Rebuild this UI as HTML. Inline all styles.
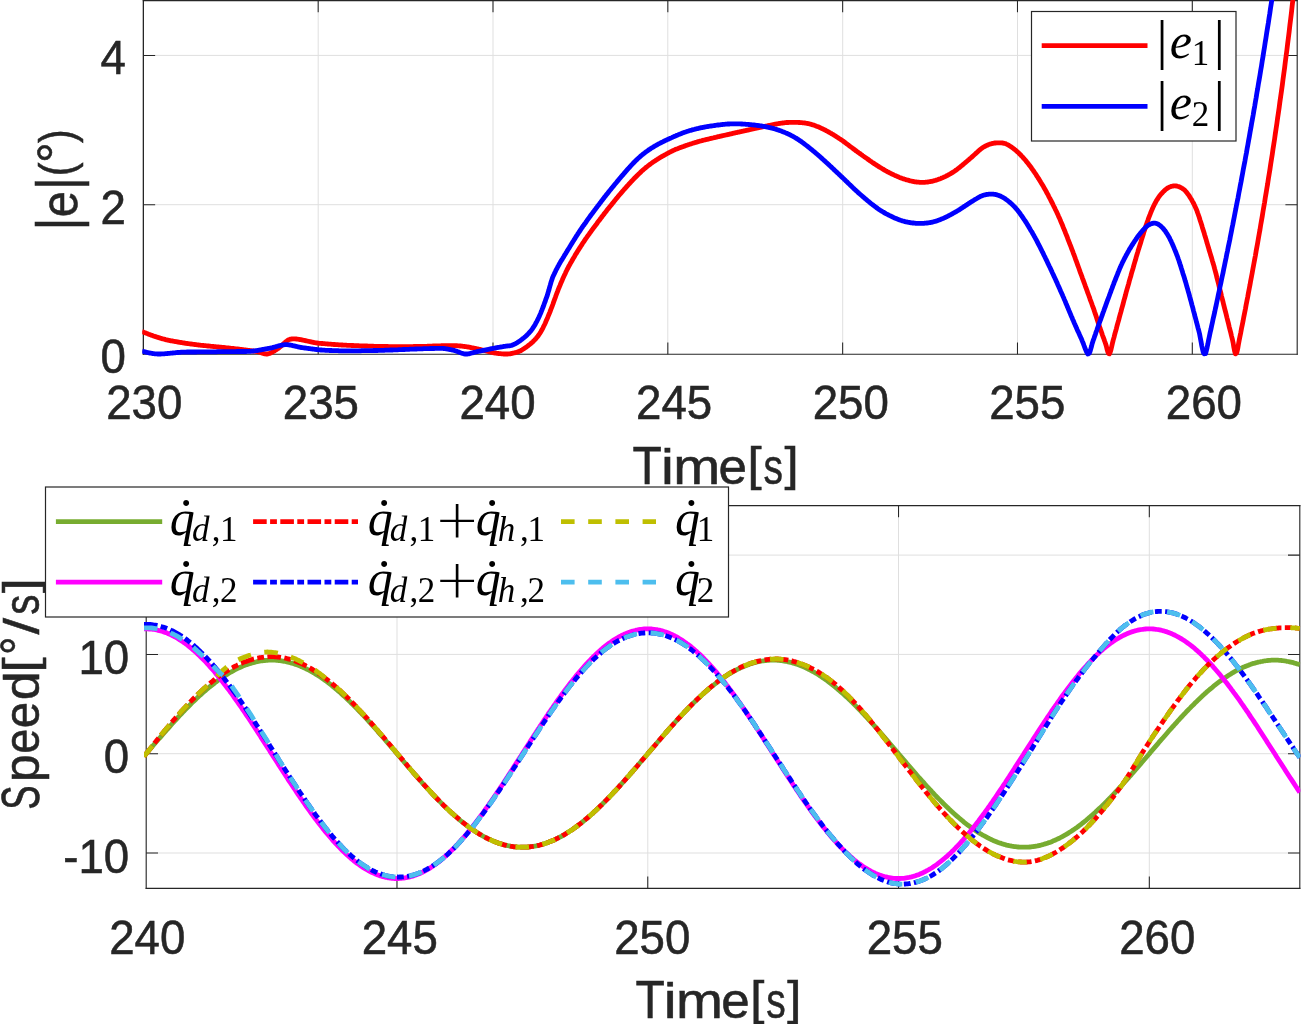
<!DOCTYPE html>
<html><head><meta charset="utf-8"><title>Tracking error and joint speed</title>
<style>html,body{margin:0;padding:0;background:#fff}svg{display:block}text{white-space:pre}.sn{font-family:"Liberation Sans", sans-serif;fill:#262626;stroke:#262626;stroke-width:.55px}.tk{font-size:47.3px}.f54{font-size:53.6px}.f51{font-size:50.7px}.f52{font-size:51.5px}.f47{font-size:47px}.f49{font-size:49px}.f58{font-size:58px}.mt{font-family:"Liberation Serif", serif;fill:#000}.mi{font-style:italic;font-size:50px}.ms{font-style:italic;font-size:35px}.rs{font-size:35px}.br{font-size:55.5px}.dt{font-size:56px}.pl{font-family:"DejaVu Sans Light", "DejaVu Sans", sans-serif;font-weight:200;font-size:54px;fill:#000}</style></head><body>
<svg width="1302" height="1024" viewBox="0 0 1302 1024">
<rect width="1302" height="1024" fill="#fff"/>
<defs><clipPath id="ct"><rect x="142.2" y="0" width="1155.5" height="358.2"/></clipPath><clipPath id="cb"><rect x="144.0" y="505.6" width="1156.4" height="382.8"/></clipPath></defs>
<path d="M318.2 0.6 V354.2 M493.0 0.6 V354.2 M667.8 0.6 V354.2 M842.7 0.6 V354.2 M1017.5 0.6 V354.2 M1192.3 0.6 V354.2 M143.3 204.7 H1297.2 M143.3 55.4 H1297.2" stroke="#dfdfdf" stroke-width="1" fill="none"/>
<path d="M318.18 354.20 v-11.8 M318.18 0.55 v11.8 M493.00 354.20 v-11.8 M493.00 0.55 v11.8 M667.83 354.20 v-11.8 M667.83 0.55 v11.8 M842.65 354.20 v-11.8 M842.65 0.55 v11.8 M1017.48 354.20 v-11.8 M1017.48 0.55 v11.8 M1192.30 354.20 v-11.8 M1192.30 0.55 v11.8 M143.35 204.70 h11.8 M1297.20 204.70 h-11.8 M143.35 55.40 h11.8 M1297.20 55.40 h-11.8" stroke="#262626" stroke-width="1.05" fill="none"/>
<g stroke="#262626" fill="none" stroke-linecap="square">
<path d="M143.35 0.55 V354.20" stroke-width="1.30"/>
<path d="M143.35 0.55 H1297.20" stroke-width="1.15"/>
<path d="M1297.20 0.55 V354.20" stroke-width="1.12"/>
<path d="M143.35 354.20 H1297.20" stroke-width="1.12"/>
</g>
<g clip-path="url(#ct)" fill="none" stroke-width="4.8" stroke-linejoin="round">
<path d="M142.0 331.6 L143.3 332.1 L144.1 332.4 L144.9 332.7 L145.7 333.0 L146.4 333.3 L147.2 333.6 L148.0 333.9 L148.7 334.2 L149.5 334.5 L150.3 334.8 L151.0 335.1 L151.8 335.3 L152.6 335.6 L153.3 335.9 L154.1 336.2 L154.9 336.4 L155.6 336.7 L156.4 336.9 L157.2 337.2 L158.0 337.4 L158.7 337.7 L159.5 337.9 L160.3 338.1 L161.0 338.4 L161.8 338.6 L162.6 338.8 L163.3 339.0 L164.1 339.2 L164.9 339.4 L165.6 339.6 L166.4 339.8 L167.2 340.0 L167.9 340.1 L168.7 340.3 L169.5 340.5 L170.2 340.6 L171.0 340.8 L171.8 340.9 L172.6 341.0 L173.3 341.2 L174.1 341.3 L174.9 341.5 L175.6 341.6 L176.4 341.7 L177.2 341.9 L177.9 342.0 L178.7 342.1 L179.5 342.3 L180.2 342.4 L181.0 342.5 L181.8 342.6 L182.5 342.8 L183.3 342.9 L184.1 343.0 L184.8 343.1 L185.6 343.3 L186.4 343.4 L187.2 343.5 L187.9 343.6 L188.7 343.7 L189.5 343.8 L190.2 343.9 L191.0 344.0 L191.8 344.1 L192.5 344.2 L193.3 344.3 L194.1 344.4 L194.8 344.5 L195.6 344.6 L196.4 344.7 L197.1 344.8 L197.9 344.9 L198.7 345.0 L199.4 345.1 L200.2 345.2 L201.0 345.3 L201.8 345.3 L202.5 345.4 L203.3 345.5 L204.1 345.6 L204.8 345.7 L205.6 345.7 L206.4 345.8 L207.1 345.9 L207.9 346.0 L208.7 346.0 L209.4 346.1 L210.2 346.2 L211.0 346.3 L211.7 346.4 L212.5 346.4 L213.3 346.5 L214.1 346.6 L214.8 346.6 L215.6 346.7 L216.4 346.8 L217.1 346.9 L217.9 346.9 L218.7 347.0 L219.4 347.1 L220.2 347.2 L221.0 347.2 L221.7 347.3 L222.5 347.4 L223.3 347.5 L224.0 347.5 L224.8 347.6 L225.6 347.7 L226.3 347.8 L227.1 347.9 L227.9 347.9 L228.7 348.0 L229.4 348.1 L230.2 348.2 L231.0 348.3 L231.7 348.3 L232.5 348.4 L233.3 348.5 L234.0 348.6 L234.8 348.7 L235.6 348.8 L236.3 348.8 L237.1 348.9 L237.9 349.0 L238.6 349.1 L239.4 349.2 L240.2 349.3 L240.9 349.4 L241.7 349.5 L242.5 349.6 L243.3 349.7 L244.0 349.8 L244.8 349.9 L245.6 350.0 L246.3 350.1 L247.1 350.2 L247.9 350.3 L248.6 350.4 L249.4 350.5 L250.2 350.6 L250.9 350.7 L251.7 350.8 L252.5 350.9 L253.2 351.0 L254.0 351.1 L254.8 351.2 L255.5 351.3 L256.3 351.4 L257.1 351.5 L257.9 351.7 L258.6 351.9 L259.4 352.1 L260.2 352.4 L260.9 352.6 L261.7 352.9 L262.5 353.2 L263.2 353.4 L264.0 353.6 L264.8 353.8 L265.5 353.9 L266.3 354.0 L267.1 354.0 L267.8 353.9 L268.6 353.7 L269.4 353.5 L270.2 353.2 L270.9 352.8 L271.7 352.4 L272.5 352.0 L273.2 351.5 L274.0 351.1 L274.8 350.6 L275.5 350.1 L276.3 349.6 L277.1 349.1 L277.8 348.6 L278.6 348.1 L279.4 347.5 L280.1 346.9 L280.9 346.3 L281.7 345.6 L282.4 344.9 L283.2 344.1 L284.0 343.4 L284.8 342.7 L285.5 342.0 L286.3 341.4 L287.1 340.8 L287.8 340.3 L288.6 339.8 L289.4 339.5 L290.1 339.2 L290.9 339.1 L291.7 339.0 L292.4 338.9 L293.2 338.9 L294.0 338.9 L294.7 338.9 L295.5 338.9 L296.3 339.0 L297.0 339.1 L297.8 339.2 L298.6 339.3 L299.4 339.4 L300.1 339.6 L300.9 339.7 L301.7 339.9 L302.4 340.0 L303.2 340.2 L304.0 340.3 L304.7 340.5 L305.5 340.6 L306.3 340.8 L307.0 341.0 L307.8 341.2 L308.6 341.3 L309.3 341.5 L310.1 341.7 L310.9 341.9 L311.6 342.0 L312.4 342.2 L313.2 342.4 L314.0 342.5 L314.7 342.7 L315.5 342.8 L316.3 342.9 L317.0 343.0 L317.8 343.1 L318.6 343.2 L319.3 343.3 L320.1 343.3 L320.9 343.4 L321.6 343.5 L322.4 343.5 L323.2 343.6 L323.9 343.7 L324.7 343.7 L325.5 343.8 L326.3 343.9 L327.0 343.9 L327.8 344.0 L328.6 344.1 L329.3 344.1 L330.1 344.2 L330.9 344.2 L331.6 344.3 L332.4 344.4 L333.2 344.4 L333.9 344.5 L334.7 344.5 L335.5 344.6 L336.2 344.6 L337.0 344.7 L337.8 344.7 L338.5 344.8 L339.3 344.8 L340.1 344.9 L340.9 344.9 L341.6 345.0 L342.4 345.0 L343.2 345.1 L343.9 345.1 L344.7 345.1 L345.5 345.2 L346.2 345.2 L347.0 345.3 L347.8 345.3 L348.5 345.3 L349.3 345.4 L350.1 345.4 L350.8 345.4 L351.6 345.5 L352.4 345.5 L353.1 345.5 L353.9 345.6 L354.7 345.6 L355.5 345.6 L356.2 345.6 L357.0 345.7 L357.8 345.7 L358.5 345.7 L359.3 345.8 L360.1 345.8 L360.8 345.8 L361.6 345.8 L362.4 345.9 L363.1 345.9 L363.9 345.9 L364.7 346.0 L365.4 346.0 L366.2 346.0 L367.0 346.0 L367.7 346.1 L368.5 346.1 L369.3 346.1 L370.1 346.1 L370.8 346.2 L371.6 346.2 L372.4 346.2 L373.1 346.2 L373.9 346.3 L374.7 346.3 L375.4 346.3 L376.2 346.3 L377.0 346.3 L377.7 346.4 L378.5 346.4 L379.3 346.4 L380.0 346.4 L380.8 346.4 L381.6 346.5 L382.4 346.5 L383.1 346.5 L383.9 346.5 L384.7 346.5 L385.4 346.5 L386.2 346.5 L387.0 346.5 L387.7 346.5 L388.5 346.6 L389.3 346.6 L390.0 346.6 L390.8 346.6 L391.6 346.6 L392.3 346.6 L393.1 346.6 L393.9 346.6 L394.6 346.6 L395.4 346.6 L396.2 346.6 L397.0 346.6 L397.7 346.6 L398.5 346.6 L399.3 346.6 L400.0 346.6 L400.8 346.6 L401.6 346.6 L402.3 346.6 L403.1 346.6 L403.9 346.6 L404.6 346.6 L405.4 346.6 L406.2 346.6 L406.9 346.6 L407.7 346.6 L408.5 346.6 L409.2 346.6 L410.0 346.6 L410.8 346.6 L411.6 346.6 L412.3 346.6 L413.1 346.6 L413.9 346.5 L414.6 346.5 L415.4 346.5 L416.2 346.5 L416.9 346.5 L417.7 346.5 L418.5 346.5 L419.2 346.5 L420.0 346.5 L420.8 346.5 L421.5 346.4 L422.3 346.4 L423.1 346.4 L423.8 346.4 L424.6 346.4 L425.4 346.3 L426.2 346.3 L426.9 346.3 L427.7 346.2 L428.5 346.2 L429.2 346.2 L430.0 346.2 L430.8 346.1 L431.5 346.1 L432.3 346.1 L433.1 346.0 L433.8 346.0 L434.6 346.0 L435.4 346.0 L436.1 345.9 L436.9 345.9 L437.7 345.9 L438.5 345.8 L439.2 345.8 L440.0 345.8 L440.8 345.8 L441.5 345.7 L442.3 345.7 L443.1 345.7 L443.8 345.7 L444.6 345.7 L445.4 345.6 L446.1 345.6 L446.9 345.6 L447.7 345.6 L448.4 345.6 L449.2 345.6 L450.0 345.6 L450.7 345.6 L451.5 345.6 L452.3 345.6 L453.1 345.6 L453.8 345.6 L454.6 345.6 L455.4 345.7 L456.1 345.7 L456.9 345.7 L457.7 345.8 L458.4 345.8 L459.2 345.9 L460.0 346.0 L460.7 346.0 L461.5 346.1 L462.3 346.2 L463.0 346.3 L463.8 346.4 L464.6 346.5 L465.3 346.6 L466.1 346.7 L466.9 346.8 L467.7 346.9 L468.4 347.1 L469.2 347.2 L470.0 347.4 L470.7 347.5 L471.5 347.7 L472.3 347.8 L473.0 348.0 L473.8 348.1 L474.6 348.3 L475.3 348.4 L476.1 348.6 L476.9 348.8 L477.6 348.9 L478.4 349.1 L479.2 349.3 L479.9 349.4 L480.7 349.6 L481.5 349.8 L482.3 350.0 L483.0 350.2 L483.8 350.4 L484.6 350.5 L485.3 350.7 L486.1 350.9 L486.9 351.1 L487.6 351.3 L488.4 351.5 L489.2 351.7 L489.9 351.9 L490.7 352.1 L491.5 352.3 L492.2 352.4 L493.0 352.6 L493.8 352.8 L494.6 352.9 L495.3 353.1 L496.1 353.2 L496.9 353.3 L497.6 353.4 L498.4 353.5 L499.2 353.6 L499.9 353.7 L500.7 353.7 L501.5 353.8 L502.2 353.9 L503.0 353.9 L503.8 354.0 L504.5 354.0 L505.3 354.0 L506.1 353.9 L506.8 354.0 L507.6 354.0 L508.4 353.9 L509.2 353.9 L509.9 353.8 L510.7 353.6 L511.5 353.5 L512.2 353.4 L513.0 353.2 L513.8 353.0 L514.5 352.8 L515.3 352.6 L516.1 352.4 L516.8 352.2 L517.6 351.9 L518.4 351.7 L519.1 351.4 L519.9 351.0 L520.7 350.7 L521.4 350.2 L522.2 349.8 L523.0 349.3 L523.8 348.8 L524.5 348.3 L525.3 347.8 L526.1 347.2 L526.8 346.7 L527.6 346.1 L528.4 345.5 L529.1 344.9 L529.9 344.3 L530.7 343.7 L531.4 343.0 L532.2 342.4 L533.0 341.7 L533.7 340.9 L534.5 340.1 L535.3 339.3 L536.0 338.5 L536.8 337.5 L537.6 336.6 L538.4 335.5 L539.1 334.4 L539.9 333.3 L540.7 332.0 L541.4 330.7 L542.2 329.3 L543.0 327.8 L543.7 326.3 L544.5 324.7 L545.3 323.0 L546.0 321.3 L546.8 319.5 L547.6 317.7 L548.3 315.9 L549.1 314.0 L549.9 312.1 L550.6 310.1 L551.4 308.1 L552.2 306.1 L553.0 304.0 L553.7 301.8 L554.5 299.7 L555.3 297.6 L556.0 295.5 L556.8 293.4 L557.6 291.4 L558.3 289.4 L559.1 287.5 L559.9 285.6 L560.6 283.8 L561.4 282.0 L562.2 280.2 L562.9 278.5 L563.7 276.8 L564.5 275.1 L565.3 273.4 L566.0 271.8 L566.8 270.2 L567.6 268.7 L568.3 267.2 L569.1 265.8 L569.9 264.4 L570.6 263.0 L571.4 261.7 L572.2 260.3 L572.9 259.0 L573.7 257.7 L574.5 256.4 L575.2 255.1 L576.0 253.8 L576.8 252.6 L577.5 251.3 L578.3 250.1 L579.1 248.9 L579.9 247.7 L580.6 246.5 L581.4 245.3 L582.2 244.1 L582.9 242.9 L583.7 241.8 L584.5 240.6 L585.2 239.5 L586.0 238.4 L586.8 237.3 L587.5 236.2 L588.3 235.2 L589.1 234.1 L589.8 233.0 L590.6 232.0 L591.4 230.9 L592.1 229.9 L592.9 228.8 L593.7 227.8 L594.5 226.8 L595.2 225.7 L596.0 224.7 L596.8 223.7 L597.5 222.6 L598.3 221.6 L599.1 220.6 L599.8 219.6 L600.6 218.5 L601.4 217.5 L602.1 216.5 L602.9 215.5 L603.7 214.5 L604.4 213.5 L605.2 212.5 L606.0 211.6 L606.7 210.6 L607.5 209.6 L608.3 208.6 L609.1 207.7 L609.8 206.7 L610.6 205.7 L611.4 204.8 L612.1 203.8 L612.9 202.9 L613.7 201.9 L614.4 201.0 L615.2 200.1 L616.0 199.1 L616.7 198.2 L617.5 197.3 L618.3 196.3 L619.0 195.4 L619.8 194.5 L620.6 193.6 L621.4 192.7 L622.1 191.8 L622.9 190.9 L623.7 190.0 L624.4 189.2 L625.2 188.3 L626.0 187.4 L626.7 186.6 L627.5 185.7 L628.3 184.9 L629.0 184.0 L629.8 183.2 L630.6 182.3 L631.3 181.5 L632.1 180.7 L632.9 179.9 L633.6 179.1 L634.4 178.3 L635.2 177.5 L636.0 176.7 L636.7 176.0 L637.5 175.2 L638.3 174.4 L639.0 173.7 L639.8 173.0 L640.6 172.2 L641.3 171.5 L642.1 170.8 L642.9 170.1 L643.6 169.5 L644.4 168.8 L645.2 168.2 L645.9 167.5 L646.7 166.9 L647.5 166.3 L648.2 165.7 L649.0 165.1 L649.8 164.5 L650.6 163.9 L651.3 163.4 L652.1 162.8 L652.9 162.3 L653.6 161.7 L654.4 161.2 L655.2 160.7 L655.9 160.2 L656.7 159.7 L657.5 159.2 L658.2 158.7 L659.0 158.3 L659.8 157.8 L660.5 157.3 L661.3 156.9 L662.1 156.4 L662.8 156.0 L663.6 155.6 L664.4 155.1 L665.2 154.7 L665.9 154.3 L666.7 153.8 L667.5 153.4 L668.2 153.0 L669.0 152.6 L669.8 152.2 L670.5 151.8 L671.3 151.4 L672.1 151.1 L672.8 150.7 L673.6 150.3 L674.4 150.0 L675.1 149.6 L675.9 149.3 L676.7 149.0 L677.5 148.7 L678.2 148.4 L679.0 148.1 L679.8 147.8 L680.5 147.5 L681.3 147.2 L682.1 146.9 L682.8 146.7 L683.6 146.4 L684.4 146.1 L685.1 145.9 L685.9 145.6 L686.7 145.3 L687.4 145.1 L688.2 144.8 L689.0 144.5 L689.7 144.3 L690.5 144.0 L691.3 143.8 L692.1 143.5 L692.8 143.3 L693.6 143.0 L694.4 142.8 L695.1 142.5 L695.9 142.3 L696.7 142.1 L697.4 141.9 L698.2 141.6 L699.0 141.4 L699.7 141.2 L700.5 141.0 L701.3 140.8 L702.0 140.6 L702.8 140.4 L703.6 140.2 L704.3 140.0 L705.1 139.8 L705.9 139.6 L706.7 139.4 L707.4 139.3 L708.2 139.1 L709.0 138.9 L709.7 138.7 L710.5 138.5 L711.3 138.4 L712.0 138.2 L712.8 138.0 L713.6 137.8 L714.3 137.6 L715.1 137.5 L715.9 137.3 L716.6 137.1 L717.4 136.9 L718.2 136.7 L718.9 136.6 L719.7 136.4 L720.5 136.2 L721.3 136.0 L722.0 135.9 L722.8 135.7 L723.6 135.5 L724.3 135.3 L725.1 135.2 L725.9 135.0 L726.6 134.8 L727.4 134.6 L728.2 134.5 L728.9 134.3 L729.7 134.1 L730.5 133.9 L731.2 133.8 L732.0 133.6 L732.8 133.4 L733.6 133.2 L734.3 133.1 L735.1 132.9 L735.9 132.7 L736.6 132.6 L737.4 132.4 L738.2 132.2 L738.9 132.1 L739.7 131.9 L740.5 131.7 L741.2 131.5 L742.0 131.4 L742.8 131.2 L743.5 131.0 L744.3 130.9 L745.1 130.7 L745.8 130.5 L746.6 130.4 L747.4 130.2 L748.2 130.0 L748.9 129.9 L749.7 129.7 L750.5 129.5 L751.2 129.3 L752.0 129.2 L752.8 129.0 L753.5 128.8 L754.3 128.7 L755.1 128.5 L755.8 128.3 L756.6 128.2 L757.4 128.0 L758.1 127.8 L758.9 127.7 L759.7 127.5 L760.4 127.3 L761.2 127.1 L762.0 127.0 L762.8 126.8 L763.5 126.6 L764.3 126.5 L765.1 126.3 L765.8 126.1 L766.6 126.0 L767.4 125.8 L768.1 125.6 L768.9 125.5 L769.7 125.3 L770.4 125.2 L771.2 125.0 L772.0 124.8 L772.7 124.7 L773.5 124.5 L774.3 124.3 L775.0 124.2 L775.8 124.1 L776.6 123.9 L777.4 123.8 L778.1 123.7 L778.9 123.5 L779.7 123.4 L780.4 123.3 L781.2 123.2 L782.0 123.1 L782.7 123.0 L783.5 122.9 L784.3 122.8 L785.0 122.7 L785.8 122.6 L786.6 122.5 L787.3 122.5 L788.1 122.5 L788.9 122.4 L789.7 122.4 L790.4 122.4 L791.2 122.4 L792.0 122.4 L792.7 122.4 L793.5 122.4 L794.3 122.4 L795.0 122.4 L795.8 122.4 L796.6 122.4 L797.3 122.4 L798.1 122.4 L798.9 122.5 L799.6 122.5 L800.4 122.6 L801.2 122.6 L801.9 122.7 L802.7 122.8 L803.5 122.8 L804.3 122.9 L805.0 123.0 L805.8 123.2 L806.6 123.3 L807.3 123.4 L808.1 123.6 L808.9 123.7 L809.6 123.9 L810.4 124.1 L811.2 124.3 L811.9 124.6 L812.7 124.8 L813.5 125.0 L814.2 125.3 L815.0 125.6 L815.8 125.9 L816.5 126.2 L817.3 126.5 L818.1 126.8 L818.9 127.1 L819.6 127.5 L820.4 127.8 L821.2 128.2 L821.9 128.5 L822.7 128.9 L823.5 129.3 L824.2 129.6 L825.0 130.0 L825.8 130.4 L826.5 130.8 L827.3 131.2 L828.1 131.7 L828.8 132.1 L829.6 132.5 L830.4 133.0 L831.1 133.4 L831.9 133.9 L832.7 134.3 L833.5 134.8 L834.2 135.3 L835.0 135.7 L835.8 136.2 L836.5 136.7 L837.3 137.2 L838.1 137.7 L838.8 138.2 L839.6 138.7 L840.4 139.2 L841.1 139.7 L841.9 140.3 L842.7 140.8 L843.4 141.4 L844.2 141.9 L845.0 142.5 L845.8 143.1 L846.5 143.7 L847.3 144.2 L848.1 144.8 L848.8 145.4 L849.6 146.0 L850.4 146.6 L851.1 147.1 L851.9 147.7 L852.7 148.3 L853.4 148.9 L854.2 149.4 L855.0 150.0 L855.7 150.6 L856.5 151.1 L857.3 151.7 L858.0 152.2 L858.8 152.8 L859.6 153.4 L860.4 153.9 L861.1 154.5 L861.9 155.0 L862.7 155.6 L863.4 156.1 L864.2 156.7 L865.0 157.2 L865.7 157.8 L866.5 158.3 L867.3 158.8 L868.0 159.4 L868.8 159.9 L869.6 160.5 L870.3 161.0 L871.1 161.5 L871.9 162.1 L872.6 162.6 L873.4 163.1 L874.2 163.6 L875.0 164.1 L875.7 164.6 L876.5 165.1 L877.3 165.6 L878.0 166.1 L878.8 166.6 L879.6 167.1 L880.3 167.5 L881.1 168.0 L881.9 168.5 L882.6 168.9 L883.4 169.4 L884.2 169.9 L884.9 170.3 L885.7 170.8 L886.5 171.2 L887.2 171.6 L888.0 172.0 L888.8 172.4 L889.6 172.8 L890.3 173.2 L891.1 173.6 L891.9 174.0 L892.6 174.3 L893.4 174.7 L894.2 175.1 L894.9 175.4 L895.7 175.8 L896.5 176.1 L897.2 176.4 L898.0 176.8 L898.8 177.1 L899.5 177.4 L900.3 177.7 L901.1 178.0 L901.8 178.3 L902.6 178.6 L903.4 178.8 L904.2 179.1 L904.9 179.3 L905.7 179.6 L906.5 179.8 L907.2 180.0 L908.0 180.2 L908.8 180.4 L909.5 180.6 L910.3 180.8 L911.1 181.0 L911.8 181.2 L912.6 181.4 L913.4 181.5 L914.1 181.6 L914.9 181.8 L915.7 181.9 L916.5 182.0 L917.2 182.1 L918.0 182.1 L918.8 182.2 L919.5 182.3 L920.3 182.3 L921.1 182.3 L921.8 182.3 L922.6 182.3 L923.4 182.3 L924.1 182.3 L924.9 182.3 L925.7 182.2 L926.4 182.1 L927.2 182.1 L928.0 182.0 L928.7 181.8 L929.5 181.7 L930.3 181.6 L931.1 181.4 L931.8 181.3 L932.6 181.1 L933.4 180.9 L934.1 180.7 L934.9 180.5 L935.7 180.3 L936.4 180.0 L937.2 179.8 L938.0 179.5 L938.7 179.2 L939.5 179.0 L940.3 178.7 L941.0 178.4 L941.8 178.0 L942.6 177.7 L943.3 177.4 L944.1 177.0 L944.9 176.7 L945.7 176.3 L946.4 175.9 L947.2 175.5 L948.0 175.1 L948.7 174.7 L949.5 174.3 L950.3 173.8 L951.0 173.4 L951.8 172.9 L952.6 172.5 L953.3 172.0 L954.1 171.5 L954.9 171.0 L955.6 170.4 L956.4 169.9 L957.2 169.3 L957.9 168.7 L958.7 168.1 L959.5 167.5 L960.3 166.9 L961.0 166.2 L961.8 165.6 L962.6 165.0 L963.3 164.3 L964.1 163.7 L964.9 163.0 L965.6 162.4 L966.4 161.7 L967.2 161.1 L967.9 160.4 L968.7 159.8 L969.5 159.1 L970.2 158.4 L971.0 157.8 L971.8 157.1 L972.6 156.4 L973.3 155.7 L974.1 155.0 L974.9 154.3 L975.6 153.6 L976.4 152.9 L977.2 152.2 L977.9 151.5 L978.7 150.8 L979.5 150.1 L980.2 149.5 L981.0 148.9 L981.8 148.3 L982.5 147.8 L983.3 147.3 L984.1 146.8 L984.8 146.4 L985.6 146.0 L986.4 145.6 L987.2 145.3 L987.9 144.9 L988.7 144.6 L989.5 144.3 L990.2 144.0 L991.0 143.8 L991.8 143.6 L992.5 143.4 L993.3 143.3 L994.1 143.1 L994.8 143.0 L995.6 143.0 L996.4 142.9 L997.1 142.9 L997.9 142.8 L998.7 142.8 L999.4 142.8 L1000.2 142.8 L1001.0 142.8 L1001.8 142.9 L1002.5 143.0 L1003.3 143.1 L1004.1 143.3 L1004.8 143.5 L1005.6 143.7 L1006.4 144.1 L1007.1 144.4 L1007.9 144.8 L1008.7 145.2 L1009.4 145.7 L1010.2 146.2 L1011.0 146.7 L1011.7 147.2 L1012.5 147.8 L1013.3 148.4 L1014.0 149.0 L1014.8 149.6 L1015.6 150.2 L1016.4 150.9 L1017.1 151.6 L1017.9 152.3 L1018.7 153.0 L1019.4 153.7 L1020.2 154.5 L1021.0 155.3 L1021.7 156.1 L1022.5 156.9 L1023.3 157.8 L1024.0 158.6 L1024.8 159.5 L1025.6 160.4 L1026.3 161.4 L1027.1 162.3 L1027.9 163.3 L1028.7 164.3 L1029.4 165.3 L1030.2 166.3 L1031.0 167.3 L1031.7 168.4 L1032.5 169.5 L1033.3 170.5 L1034.0 171.7 L1034.8 172.8 L1035.6 173.9 L1036.3 175.1 L1037.1 176.3 L1037.9 177.5 L1038.6 178.7 L1039.4 179.9 L1040.2 181.2 L1040.9 182.4 L1041.7 183.7 L1042.5 185.0 L1043.3 186.3 L1044.0 187.7 L1044.8 189.0 L1045.6 190.4 L1046.3 191.8 L1047.1 193.2 L1047.9 194.6 L1048.6 196.1 L1049.4 197.6 L1050.2 199.0 L1050.9 200.5 L1051.7 202.0 L1052.5 203.5 L1053.2 205.0 L1054.0 206.6 L1054.8 208.1 L1055.5 209.7 L1056.3 211.3 L1057.1 213.0 L1057.9 214.7 L1058.6 216.4 L1059.4 218.1 L1060.2 219.9 L1060.9 221.7 L1061.7 223.5 L1062.5 225.3 L1063.2 227.2 L1064.0 229.1 L1064.8 231.0 L1065.5 232.9 L1066.3 234.9 L1067.1 236.8 L1067.8 238.8 L1068.6 240.8 L1069.4 242.8 L1070.1 244.7 L1070.9 246.7 L1071.7 248.8 L1072.5 250.8 L1073.2 252.8 L1074.0 254.9 L1074.8 257.0 L1075.5 259.1 L1076.3 261.2 L1077.1 263.3 L1077.8 265.4 L1078.6 267.5 L1079.4 269.7 L1080.1 271.8 L1080.9 273.9 L1081.7 276.0 L1082.4 278.1 L1083.2 280.2 L1084.0 282.3 L1084.8 284.5 L1085.5 286.6 L1086.3 288.7 L1087.1 290.8 L1087.8 292.9 L1088.6 295.0 L1089.4 297.1 L1090.1 299.3 L1090.9 301.4 L1091.7 303.5 L1092.4 305.6 L1093.2 307.7 L1094.0 309.9 L1094.7 312.1 L1095.5 314.4 L1096.3 316.8 L1097.0 319.1 L1097.8 321.5 L1098.6 323.9 L1099.4 326.2 L1100.1 328.4 L1100.9 330.6 L1101.7 332.8 L1102.4 335.0 L1103.2 337.1 L1104.0 339.2 L1104.7 341.3 L1105.5 343.5 L1106.3 346.0 L1107.0 349.0 L1107.8 351.8 L1108.6 353.6 L1109.3 353.9 L1110.1 352.6 L1110.9 350.1 L1111.6 346.9 L1112.4 343.4 L1113.2 340.1 L1114.0 337.3 L1114.7 334.5 L1115.5 331.7 L1116.3 328.8 L1117.0 326.0 L1117.8 323.2 L1118.6 320.4 L1119.3 317.6 L1120.1 314.7 L1120.9 311.9 L1121.6 309.1 L1122.4 306.3 L1123.2 303.5 L1123.9 300.7 L1124.7 297.8 L1125.5 295.0 L1126.2 292.2 L1127.0 289.4 L1127.8 286.6 L1128.6 283.8 L1129.3 281.1 L1130.1 278.4 L1130.9 275.7 L1131.6 273.0 L1132.4 270.4 L1133.2 267.7 L1133.9 265.1 L1134.7 262.4 L1135.5 259.8 L1136.2 257.1 L1137.0 254.5 L1137.8 251.9 L1138.5 249.4 L1139.3 246.9 L1140.1 244.4 L1140.9 241.9 L1141.6 239.4 L1142.4 237.0 L1143.2 234.5 L1143.9 232.1 L1144.7 229.7 L1145.5 227.3 L1146.2 225.0 L1147.0 222.7 L1147.8 220.6 L1148.5 218.4 L1149.3 216.4 L1150.1 214.4 L1150.8 212.5 L1151.6 210.6 L1152.4 208.8 L1153.1 207.1 L1153.9 205.5 L1154.7 203.9 L1155.5 202.5 L1156.2 201.1 L1157.0 199.8 L1157.8 198.6 L1158.5 197.4 L1159.3 196.3 L1160.1 195.3 L1160.8 194.4 L1161.6 193.5 L1162.4 192.7 L1163.1 191.9 L1163.9 191.1 L1164.7 190.4 L1165.4 189.7 L1166.2 189.1 L1167.0 188.5 L1167.7 188.0 L1168.5 187.6 L1169.3 187.2 L1170.1 186.8 L1170.8 186.6 L1171.6 186.3 L1172.4 186.2 L1173.1 186.0 L1173.9 185.9 L1174.7 185.9 L1175.4 185.9 L1176.2 186.0 L1177.0 186.1 L1177.7 186.3 L1178.5 186.5 L1179.3 186.8 L1180.0 187.2 L1180.8 187.5 L1181.6 188.0 L1182.3 188.4 L1183.1 189.0 L1183.9 189.5 L1184.7 190.2 L1185.4 191.0 L1186.2 191.9 L1187.0 192.8 L1187.7 193.8 L1188.5 194.9 L1189.3 196.0 L1190.0 197.2 L1190.8 198.5 L1191.6 199.7 L1192.3 201.1 L1193.1 202.5 L1193.9 204.0 L1194.6 205.5 L1195.4 207.2 L1196.2 209.0 L1197.0 210.9 L1197.7 213.0 L1198.5 215.2 L1199.3 217.5 L1200.0 219.9 L1200.8 222.3 L1201.6 224.7 L1202.3 227.2 L1203.1 229.7 L1203.9 232.2 L1204.6 234.7 L1205.4 237.3 L1206.2 239.9 L1206.9 242.5 L1207.7 245.1 L1208.5 247.7 L1209.2 250.3 L1210.0 252.9 L1210.8 255.4 L1211.6 258.0 L1212.3 260.6 L1213.1 263.3 L1213.9 265.9 L1214.6 268.7 L1215.4 271.6 L1216.2 274.5 L1216.9 277.6 L1217.7 280.6 L1218.5 283.7 L1219.2 286.8 L1220.0 289.9 L1220.8 292.9 L1221.5 296.0 L1222.3 299.1 L1223.1 302.2 L1223.8 305.2 L1224.6 308.3 L1225.4 311.4 L1226.2 314.5 L1226.9 317.5 L1227.7 320.6 L1228.5 323.7 L1229.2 326.8 L1230.0 329.8 L1230.8 332.9 L1231.5 336.0 L1232.3 339.1 L1233.1 342.7 L1233.8 347.1 L1234.6 351.1 L1235.4 353.9 L1236.1 353.5 L1236.9 352.3 L1237.7 348.8 L1238.4 344.7 L1239.2 340.3 L1240.0 336.3 L1240.8 332.4 L1241.5 328.5 L1242.3 324.7 L1243.1 320.8 L1243.8 316.9 L1244.6 313.0 L1245.4 309.0 L1246.1 305.0 L1246.9 301.0 L1247.7 297.0 L1248.4 293.0 L1249.2 288.9 L1250.0 284.8 L1250.7 280.7 L1251.5 276.6 L1252.3 272.4 L1253.0 268.3 L1253.8 264.1 L1254.6 259.8 L1255.4 255.6 L1256.1 251.3 L1256.9 247.0 L1257.7 242.6 L1258.4 238.3 L1259.2 233.9 L1260.0 229.5 L1260.7 225.0 L1261.5 220.5 L1262.3 216.0 L1263.0 211.5 L1263.8 206.9 L1264.6 202.3 L1265.3 197.6 L1266.1 193.0 L1266.9 188.2 L1267.7 183.5 L1268.4 178.7 L1269.2 173.9 L1270.0 169.0 L1270.7 164.1 L1271.5 159.2 L1272.3 154.2 L1273.0 149.2 L1273.8 144.1 L1274.6 139.0 L1275.3 133.9 L1276.1 128.7 L1276.9 123.4 L1277.6 118.1 L1278.4 112.8 L1279.2 107.4 L1279.9 101.9 L1280.7 96.4 L1281.5 90.8 L1282.3 85.2 L1283.0 79.5 L1283.8 73.7 L1284.6 67.9 L1285.3 62.0 L1286.1 56.0 L1286.9 50.0 L1287.6 43.9 L1288.4 37.7 L1289.2 31.4 L1289.9 25.1 L1290.7 18.7 L1291.5 12.1 L1292.2 5.5 L1293.0 -1.2 L1293.8 -8.1 L1294.5 -15.0 L1295.3 -22.1" stroke="#ff0000"/>
<path d="M142.0 351.1 L143.3 351.5 L144.1 351.7 L144.9 351.9 L145.6 352.1 L146.4 352.2 L147.1 352.4 L147.9 352.6 L148.6 352.8 L149.4 352.9 L150.1 353.1 L150.9 353.2 L151.7 353.3 L152.4 353.5 L153.2 353.6 L153.9 353.7 L154.7 353.8 L155.4 353.8 L156.2 353.9 L156.9 353.9 L157.7 354.0 L158.4 354.0 L159.2 354.0 L160.0 354.0 L160.7 354.0 L161.5 353.9 L162.2 353.9 L163.0 353.9 L163.7 353.8 L164.5 353.8 L165.2 353.7 L166.0 353.6 L166.8 353.6 L167.5 353.5 L168.3 353.4 L169.0 353.4 L169.8 353.3 L170.5 353.2 L171.3 353.1 L172.0 353.1 L172.8 353.0 L173.5 352.9 L174.3 352.8 L175.1 352.8 L175.8 352.7 L176.6 352.6 L177.3 352.5 L178.1 352.5 L178.8 352.4 L179.6 352.4 L180.3 352.3 L181.1 352.2 L181.9 352.2 L182.6 352.2 L183.4 352.1 L184.1 352.1 L184.9 352.1 L185.6 352.1 L186.4 352.1 L187.1 352.0 L187.9 352.0 L188.6 352.0 L189.4 352.0 L190.2 352.0 L190.9 352.0 L191.7 352.0 L192.4 352.0 L193.2 352.0 L193.9 352.0 L194.7 352.0 L195.4 352.0 L196.2 352.0 L197.0 351.9 L197.7 351.9 L198.5 351.9 L199.2 351.9 L200.0 351.9 L200.7 351.9 L201.5 351.9 L202.2 351.9 L203.0 351.9 L203.7 351.9 L204.5 351.9 L205.3 351.9 L206.0 351.9 L206.8 351.8 L207.5 351.8 L208.3 351.8 L209.0 351.8 L209.8 351.8 L210.5 351.8 L211.3 351.8 L212.1 351.8 L212.8 351.8 L213.6 351.8 L214.3 351.8 L215.1 351.8 L215.8 351.8 L216.6 351.8 L217.3 351.7 L218.1 351.7 L218.8 351.7 L219.6 351.7 L220.4 351.7 L221.1 351.7 L221.9 351.7 L222.6 351.7 L223.4 351.7 L224.1 351.7 L224.9 351.7 L225.6 351.7 L226.4 351.7 L227.2 351.6 L227.9 351.6 L228.7 351.6 L229.4 351.6 L230.2 351.6 L230.9 351.6 L231.7 351.6 L232.4 351.6 L233.2 351.6 L233.9 351.6 L234.7 351.6 L235.5 351.6 L236.2 351.6 L237.0 351.5 L237.7 351.5 L238.5 351.5 L239.2 351.5 L240.0 351.5 L240.7 351.5 L241.5 351.5 L242.3 351.5 L243.0 351.5 L243.8 351.5 L244.5 351.5 L245.3 351.5 L246.0 351.5 L246.8 351.4 L247.5 351.4 L248.3 351.4 L249.0 351.4 L249.8 351.4 L250.6 351.3 L251.3 351.2 L252.1 351.2 L252.8 351.1 L253.6 351.0 L254.3 350.9 L255.1 350.8 L255.8 350.7 L256.6 350.6 L257.4 350.5 L258.1 350.3 L258.9 350.2 L259.6 350.1 L260.4 349.9 L261.1 349.8 L261.9 349.6 L262.6 349.5 L263.4 349.4 L264.1 349.2 L264.9 349.1 L265.7 348.9 L266.4 348.8 L267.2 348.7 L267.9 348.5 L268.7 348.4 L269.4 348.3 L270.2 348.1 L270.9 348.0 L271.7 347.8 L272.5 347.6 L273.2 347.4 L274.0 347.2 L274.7 347.0 L275.5 346.8 L276.2 346.5 L277.0 346.3 L277.7 346.1 L278.5 345.9 L279.2 345.7 L280.0 345.5 L280.8 345.3 L281.5 345.2 L282.3 345.0 L283.0 344.9 L283.8 344.8 L284.5 344.7 L285.3 344.7 L286.0 344.7 L286.8 344.7 L287.5 344.7 L288.3 344.8 L289.1 344.9 L289.8 345.0 L290.6 345.1 L291.3 345.3 L292.1 345.4 L292.8 345.6 L293.6 345.8 L294.3 345.9 L295.1 346.1 L295.9 346.3 L296.6 346.5 L297.4 346.7 L298.1 346.9 L298.9 347.0 L299.6 347.2 L300.4 347.4 L301.1 347.5 L301.9 347.6 L302.6 347.7 L303.4 347.8 L304.2 347.9 L304.9 348.0 L305.7 348.1 L306.4 348.2 L307.2 348.3 L307.9 348.4 L308.7 348.5 L309.4 348.6 L310.2 348.7 L311.0 348.8 L311.7 348.9 L312.5 349.0 L313.2 349.1 L314.0 349.2 L314.7 349.3 L315.5 349.4 L316.2 349.5 L317.0 349.6 L317.7 349.7 L318.5 349.8 L319.3 349.8 L320.0 349.9 L320.8 350.0 L321.5 350.0 L322.3 350.1 L323.0 350.1 L323.8 350.2 L324.5 350.2 L325.3 350.3 L326.1 350.3 L326.8 350.3 L327.6 350.4 L328.3 350.4 L329.1 350.4 L329.8 350.5 L330.6 350.5 L331.3 350.5 L332.1 350.6 L332.8 350.6 L333.6 350.6 L334.4 350.6 L335.1 350.7 L335.9 350.7 L336.6 350.7 L337.4 350.7 L338.1 350.7 L338.9 350.8 L339.6 350.8 L340.4 350.8 L341.2 350.8 L341.9 350.8 L342.7 350.8 L343.4 350.8 L344.2 350.8 L344.9 350.9 L345.7 350.9 L346.4 350.9 L347.2 350.9 L347.9 350.9 L348.7 350.9 L349.5 350.9 L350.2 350.9 L351.0 350.9 L351.7 350.9 L352.5 350.9 L353.2 350.8 L354.0 350.8 L354.7 350.8 L355.5 350.8 L356.3 350.8 L357.0 350.8 L357.8 350.8 L358.5 350.8 L359.3 350.8 L360.0 350.8 L360.8 350.8 L361.5 350.7 L362.3 350.7 L363.0 350.7 L363.8 350.7 L364.6 350.7 L365.3 350.7 L366.1 350.7 L366.8 350.7 L367.6 350.7 L368.3 350.6 L369.1 350.6 L369.8 350.6 L370.6 350.6 L371.4 350.6 L372.1 350.6 L372.9 350.6 L373.6 350.5 L374.4 350.5 L375.1 350.5 L375.9 350.5 L376.6 350.5 L377.4 350.5 L378.1 350.4 L378.9 350.4 L379.7 350.4 L380.4 350.4 L381.2 350.4 L381.9 350.3 L382.7 350.3 L383.4 350.3 L384.2 350.3 L384.9 350.2 L385.7 350.2 L386.5 350.2 L387.2 350.2 L388.0 350.1 L388.7 350.1 L389.5 350.1 L390.2 350.0 L391.0 350.0 L391.7 350.0 L392.5 350.0 L393.2 349.9 L394.0 349.9 L394.8 349.9 L395.5 349.8 L396.3 349.8 L397.0 349.8 L397.8 349.8 L398.5 349.7 L399.3 349.7 L400.0 349.7 L400.8 349.6 L401.6 349.6 L402.3 349.6 L403.1 349.5 L403.8 349.5 L404.6 349.5 L405.3 349.4 L406.1 349.4 L406.8 349.4 L407.6 349.3 L408.3 349.3 L409.1 349.3 L409.9 349.2 L410.6 349.2 L411.4 349.2 L412.1 349.2 L412.9 349.1 L413.6 349.1 L414.4 349.1 L415.1 349.0 L415.9 349.0 L416.6 349.0 L417.4 348.9 L418.2 348.9 L418.9 348.9 L419.7 348.9 L420.4 348.8 L421.2 348.8 L421.9 348.8 L422.7 348.8 L423.4 348.7 L424.2 348.7 L425.0 348.7 L425.7 348.7 L426.5 348.6 L427.2 348.6 L428.0 348.6 L428.7 348.6 L429.5 348.6 L430.2 348.5 L431.0 348.5 L431.7 348.5 L432.5 348.5 L433.3 348.5 L434.0 348.5 L434.8 348.4 L435.5 348.4 L436.3 348.4 L437.0 348.4 L437.8 348.4 L438.5 348.4 L439.3 348.4 L440.1 348.4 L440.8 348.4 L441.6 348.4 L442.3 348.4 L443.1 348.4 L443.8 348.5 L444.6 348.6 L445.3 348.7 L446.1 348.8 L446.8 348.9 L447.6 349.1 L448.4 349.2 L449.1 349.4 L449.9 349.5 L450.6 349.7 L451.4 349.8 L452.1 350.0 L452.9 350.1 L453.6 350.3 L454.4 350.4 L455.2 350.7 L455.9 350.9 L456.7 351.2 L457.4 351.5 L458.2 351.8 L458.9 352.1 L459.7 352.4 L460.4 352.7 L461.2 353.0 L461.9 353.2 L462.7 353.5 L463.5 353.7 L464.2 353.9 L465.0 354.0 L465.7 354.0 L466.5 354.0 L467.2 354.0 L468.0 353.9 L468.7 353.8 L469.5 353.6 L470.3 353.4 L471.0 353.2 L471.8 353.0 L472.5 352.8 L473.3 352.6 L474.0 352.4 L474.8 352.2 L475.5 352.0 L476.3 351.8 L477.0 351.6 L477.8 351.5 L478.6 351.3 L479.3 351.2 L480.1 351.0 L480.8 350.9 L481.6 350.7 L482.3 350.6 L483.1 350.4 L483.8 350.3 L484.6 350.1 L485.4 350.0 L486.1 349.8 L486.9 349.7 L487.6 349.5 L488.4 349.3 L489.1 349.2 L489.9 349.0 L490.6 348.9 L491.4 348.7 L492.1 348.6 L492.9 348.4 L493.7 348.3 L494.4 348.2 L495.2 348.0 L495.9 347.9 L496.7 347.7 L497.4 347.6 L498.2 347.4 L498.9 347.3 L499.7 347.2 L500.5 347.1 L501.2 346.9 L502.0 346.8 L502.7 346.7 L503.5 346.5 L504.2 346.4 L505.0 346.3 L505.7 346.2 L506.5 346.1 L507.2 346.0 L508.0 345.8 L508.8 345.9 L509.5 345.8 L510.3 345.7 L511.0 345.5 L511.8 345.3 L512.5 345.0 L513.3 344.7 L514.0 344.3 L514.8 344.0 L515.6 343.6 L516.3 343.2 L517.1 342.7 L517.8 342.2 L518.6 341.7 L519.3 341.2 L520.1 340.7 L520.8 340.2 L521.6 339.6 L522.3 339.0 L523.1 338.4 L523.9 337.8 L524.6 337.2 L525.4 336.6 L526.1 335.9 L526.9 335.2 L527.6 334.4 L528.4 333.6 L529.1 332.8 L529.9 332.0 L530.7 331.1 L531.4 330.2 L532.2 329.1 L532.9 328.0 L533.7 326.9 L534.4 325.7 L535.2 324.4 L535.9 323.0 L536.7 321.6 L537.4 320.2 L538.2 318.6 L539.0 317.0 L539.7 315.4 L540.5 313.6 L541.2 311.8 L542.0 309.9 L542.7 308.0 L543.5 306.0 L544.2 303.9 L545.0 301.9 L545.7 299.7 L546.5 297.6 L547.3 295.4 L548.0 292.9 L548.8 290.3 L549.5 287.6 L550.3 284.9 L551.0 282.3 L551.8 279.9 L552.5 277.7 L553.3 275.9 L554.1 274.3 L554.8 272.7 L555.6 271.1 L556.3 269.6 L557.1 268.2 L557.8 266.8 L558.6 265.4 L559.3 264.0 L560.1 262.7 L560.8 261.4 L561.6 260.2 L562.4 258.9 L563.1 257.7 L563.9 256.4 L564.6 255.2 L565.4 254.0 L566.1 252.8 L566.9 251.5 L567.6 250.3 L568.4 249.0 L569.2 247.8 L569.9 246.6 L570.7 245.3 L571.4 244.1 L572.2 242.9 L572.9 241.7 L573.7 240.5 L574.4 239.3 L575.2 238.1 L575.9 236.9 L576.7 235.7 L577.5 234.5 L578.2 233.3 L579.0 232.2 L579.7 231.1 L580.5 229.9 L581.2 228.8 L582.0 227.7 L582.7 226.6 L583.5 225.6 L584.3 224.5 L585.0 223.4 L585.8 222.4 L586.5 221.3 L587.3 220.2 L588.0 219.2 L588.8 218.1 L589.5 217.1 L590.3 216.0 L591.0 215.0 L591.8 214.0 L592.6 213.0 L593.3 211.9 L594.1 210.9 L594.8 209.9 L595.6 208.9 L596.3 207.9 L597.1 206.9 L597.8 205.9 L598.6 204.9 L599.4 203.9 L600.1 202.9 L600.9 201.9 L601.6 200.9 L602.4 199.9 L603.1 199.0 L603.9 198.0 L604.6 197.0 L605.4 196.1 L606.1 195.1 L606.9 194.2 L607.7 193.2 L608.4 192.3 L609.2 191.3 L609.9 190.4 L610.7 189.4 L611.4 188.5 L612.2 187.6 L612.9 186.7 L613.7 185.8 L614.5 184.8 L615.2 183.9 L616.0 183.0 L616.7 182.1 L617.5 181.2 L618.2 180.3 L619.0 179.4 L619.7 178.5 L620.5 177.6 L621.2 176.7 L622.0 175.8 L622.8 175.0 L623.5 174.1 L624.3 173.2 L625.0 172.3 L625.8 171.4 L626.5 170.6 L627.3 169.7 L628.0 168.9 L628.8 168.0 L629.6 167.2 L630.3 166.4 L631.1 165.5 L631.8 164.7 L632.6 163.9 L633.3 163.1 L634.1 162.4 L634.8 161.6 L635.6 160.8 L636.3 160.1 L637.1 159.4 L637.9 158.6 L638.6 157.9 L639.4 157.3 L640.1 156.6 L640.9 155.9 L641.6 155.3 L642.4 154.7 L643.1 154.0 L643.9 153.5 L644.7 152.9 L645.4 152.3 L646.2 151.8 L646.9 151.2 L647.7 150.7 L648.4 150.1 L649.2 149.6 L649.9 149.1 L650.7 148.6 L651.4 148.1 L652.2 147.7 L653.0 147.2 L653.7 146.7 L654.5 146.3 L655.2 145.8 L656.0 145.4 L656.7 145.0 L657.5 144.6 L658.2 144.1 L659.0 143.7 L659.8 143.3 L660.5 142.9 L661.3 142.6 L662.0 142.2 L662.8 141.8 L663.5 141.4 L664.3 141.1 L665.0 140.7 L665.8 140.3 L666.5 140.0 L667.3 139.6 L668.1 139.3 L668.8 138.9 L669.6 138.6 L670.3 138.2 L671.1 137.9 L671.8 137.6 L672.6 137.2 L673.3 136.9 L674.1 136.5 L674.8 136.2 L675.6 135.9 L676.4 135.5 L677.1 135.2 L677.9 134.9 L678.6 134.6 L679.4 134.3 L680.1 134.0 L680.9 133.7 L681.6 133.4 L682.4 133.1 L683.2 132.8 L683.9 132.5 L684.7 132.2 L685.4 132.0 L686.2 131.7 L686.9 131.5 L687.7 131.2 L688.4 131.0 L689.2 130.7 L689.9 130.5 L690.7 130.3 L691.5 130.1 L692.2 129.9 L693.0 129.7 L693.7 129.5 L694.5 129.3 L695.2 129.1 L696.0 128.9 L696.7 128.7 L697.5 128.6 L698.3 128.4 L699.0 128.2 L699.8 128.0 L700.5 127.9 L701.3 127.7 L702.0 127.6 L702.8 127.4 L703.5 127.3 L704.3 127.1 L705.0 127.0 L705.8 126.8 L706.6 126.7 L707.3 126.6 L708.1 126.5 L708.8 126.3 L709.6 126.2 L710.3 126.1 L711.1 126.0 L711.8 125.9 L712.6 125.8 L713.4 125.7 L714.1 125.6 L714.9 125.5 L715.6 125.3 L716.4 125.2 L717.1 125.1 L717.9 125.0 L718.6 125.0 L719.4 124.9 L720.1 124.8 L720.9 124.7 L721.7 124.6 L722.4 124.5 L723.2 124.4 L723.9 124.4 L724.7 124.3 L725.4 124.2 L726.2 124.2 L726.9 124.1 L727.7 124.0 L728.5 124.0 L729.2 124.0 L730.0 123.9 L730.7 123.9 L731.5 123.9 L732.2 123.8 L733.0 123.8 L733.7 123.8 L734.5 123.8 L735.2 123.8 L736.0 123.8 L736.8 123.8 L737.5 123.8 L738.3 123.9 L739.0 123.9 L739.8 123.9 L740.5 123.9 L741.3 124.0 L742.0 124.0 L742.8 124.1 L743.6 124.1 L744.3 124.2 L745.1 124.2 L745.8 124.3 L746.6 124.3 L747.3 124.4 L748.1 124.4 L748.8 124.5 L749.6 124.6 L750.3 124.6 L751.1 124.7 L751.9 124.8 L752.6 124.9 L753.4 124.9 L754.1 125.0 L754.9 125.1 L755.6 125.2 L756.4 125.3 L757.1 125.4 L757.9 125.5 L758.7 125.6 L759.4 125.7 L760.2 125.8 L760.9 125.9 L761.7 126.0 L762.4 126.2 L763.2 126.3 L763.9 126.4 L764.7 126.6 L765.4 126.7 L766.2 126.9 L767.0 127.0 L767.7 127.2 L768.5 127.4 L769.2 127.5 L770.0 127.7 L770.7 127.9 L771.5 128.0 L772.2 128.2 L773.0 128.4 L773.8 128.6 L774.5 128.8 L775.3 129.0 L776.0 129.3 L776.8 129.5 L777.5 129.8 L778.3 130.0 L779.0 130.3 L779.8 130.5 L780.5 130.8 L781.3 131.1 L782.1 131.4 L782.8 131.7 L783.6 132.0 L784.3 132.3 L785.1 132.6 L785.8 132.9 L786.6 133.2 L787.3 133.6 L788.1 133.9 L788.9 134.2 L789.6 134.6 L790.4 135.0 L791.1 135.4 L791.9 135.8 L792.6 136.2 L793.4 136.6 L794.1 137.0 L794.9 137.5 L795.6 137.9 L796.4 138.4 L797.2 138.9 L797.9 139.4 L798.7 139.9 L799.4 140.4 L800.2 140.9 L800.9 141.4 L801.7 141.9 L802.4 142.5 L803.2 143.0 L804.0 143.6 L804.7 144.2 L805.5 144.7 L806.2 145.3 L807.0 145.9 L807.7 146.5 L808.5 147.1 L809.2 147.7 L810.0 148.3 L810.7 148.9 L811.5 149.5 L812.3 150.1 L813.0 150.8 L813.8 151.4 L814.5 152.0 L815.3 152.6 L816.0 153.3 L816.8 153.9 L817.5 154.6 L818.3 155.2 L819.0 155.9 L819.8 156.5 L820.6 157.2 L821.3 157.9 L822.1 158.6 L822.8 159.3 L823.6 160.0 L824.3 160.6 L825.1 161.3 L825.8 162.0 L826.6 162.7 L827.4 163.4 L828.1 164.1 L828.9 164.8 L829.6 165.5 L830.4 166.2 L831.1 166.9 L831.9 167.6 L832.6 168.3 L833.4 169.0 L834.1 169.7 L834.9 170.5 L835.7 171.2 L836.4 171.9 L837.2 172.6 L837.9 173.3 L838.7 174.0 L839.4 174.7 L840.2 175.4 L840.9 176.2 L841.7 176.9 L842.5 177.6 L843.2 178.3 L844.0 179.0 L844.7 179.8 L845.5 180.5 L846.2 181.2 L847.0 181.9 L847.7 182.7 L848.5 183.4 L849.2 184.1 L850.0 184.9 L850.8 185.6 L851.5 186.3 L852.3 187.1 L853.0 187.8 L853.8 188.5 L854.5 189.2 L855.3 189.9 L856.0 190.6 L856.8 191.3 L857.6 192.0 L858.3 192.7 L859.1 193.4 L859.8 194.0 L860.6 194.7 L861.3 195.3 L862.1 196.0 L862.8 196.6 L863.6 197.3 L864.3 197.9 L865.1 198.6 L865.9 199.2 L866.6 199.9 L867.4 200.5 L868.1 201.1 L868.9 201.7 L869.6 202.4 L870.4 203.0 L871.1 203.6 L871.9 204.2 L872.7 204.8 L873.4 205.3 L874.2 205.9 L874.9 206.5 L875.7 207.0 L876.4 207.6 L877.2 208.1 L877.9 208.7 L878.7 209.2 L879.4 209.7 L880.2 210.2 L881.0 210.7 L881.7 211.2 L882.5 211.6 L883.2 212.1 L884.0 212.5 L884.7 213.0 L885.5 213.4 L886.2 213.8 L887.0 214.2 L887.8 214.6 L888.5 215.0 L889.3 215.4 L890.0 215.7 L890.8 216.1 L891.5 216.5 L892.3 216.8 L893.0 217.2 L893.8 217.5 L894.5 217.9 L895.3 218.2 L896.1 218.5 L896.8 218.8 L897.6 219.2 L898.3 219.4 L899.1 219.7 L899.8 220.0 L900.6 220.3 L901.3 220.5 L902.1 220.8 L902.9 221.0 L903.6 221.2 L904.4 221.4 L905.1 221.6 L905.9 221.8 L906.6 221.9 L907.4 222.1 L908.1 222.3 L908.9 222.4 L909.6 222.5 L910.4 222.6 L911.2 222.8 L911.9 222.9 L912.7 223.0 L913.4 223.0 L914.2 223.1 L914.9 223.2 L915.7 223.3 L916.4 223.3 L917.2 223.4 L918.0 223.4 L918.7 223.4 L919.5 223.4 L920.2 223.4 L921.0 223.4 L921.7 223.4 L922.5 223.4 L923.2 223.4 L924.0 223.3 L924.7 223.2 L925.5 223.2 L926.3 223.1 L927.0 223.0 L927.8 222.9 L928.5 222.8 L929.3 222.7 L930.0 222.6 L930.8 222.4 L931.5 222.3 L932.3 222.1 L933.1 221.9 L933.8 221.7 L934.6 221.5 L935.3 221.3 L936.1 221.1 L936.8 220.8 L937.6 220.6 L938.3 220.3 L939.1 220.0 L939.8 219.7 L940.6 219.4 L941.4 219.1 L942.1 218.8 L942.9 218.5 L943.6 218.2 L944.4 217.8 L945.1 217.5 L945.9 217.1 L946.6 216.8 L947.4 216.4 L948.1 216.0 L948.9 215.6 L949.7 215.2 L950.4 214.8 L951.2 214.4 L951.9 214.0 L952.7 213.6 L953.4 213.1 L954.2 212.7 L954.9 212.3 L955.7 211.9 L956.5 211.4 L957.2 211.0 L958.0 210.5 L958.7 210.1 L959.5 209.6 L960.2 209.1 L961.0 208.6 L961.7 208.1 L962.5 207.6 L963.2 207.1 L964.0 206.6 L964.8 206.1 L965.5 205.6 L966.3 205.1 L967.0 204.6 L967.8 204.1 L968.5 203.6 L969.3 203.1 L970.0 202.6 L970.8 202.1 L971.6 201.7 L972.3 201.2 L973.1 200.7 L973.8 200.3 L974.6 199.8 L975.3 199.3 L976.1 198.9 L976.8 198.5 L977.6 198.0 L978.3 197.6 L979.1 197.2 L979.9 196.7 L980.6 196.3 L981.4 196.0 L982.1 195.7 L982.9 195.4 L983.6 195.2 L984.4 195.0 L985.1 194.8 L985.9 194.6 L986.7 194.5 L987.4 194.4 L988.2 194.3 L988.9 194.2 L989.7 194.1 L990.4 194.1 L991.2 194.1 L991.9 194.1 L992.7 194.1 L993.4 194.2 L994.2 194.3 L995.0 194.4 L995.7 194.5 L996.5 194.7 L997.2 194.9 L998.0 195.2 L998.7 195.4 L999.5 195.7 L1000.2 196.0 L1001.0 196.4 L1001.8 196.8 L1002.5 197.2 L1003.3 197.6 L1004.0 198.0 L1004.8 198.5 L1005.5 199.0 L1006.3 199.6 L1007.0 200.1 L1007.8 200.7 L1008.5 201.3 L1009.3 201.9 L1010.1 202.6 L1010.8 203.2 L1011.6 203.9 L1012.3 204.6 L1013.1 205.4 L1013.8 206.1 L1014.6 206.9 L1015.3 207.7 L1016.1 208.6 L1016.9 209.5 L1017.6 210.4 L1018.4 211.3 L1019.1 212.3 L1019.9 213.3 L1020.6 214.4 L1021.4 215.4 L1022.1 216.5 L1022.9 217.6 L1023.6 218.7 L1024.4 219.9 L1025.2 221.0 L1025.9 222.2 L1026.7 223.4 L1027.4 224.7 L1028.2 225.9 L1028.9 227.2 L1029.7 228.4 L1030.4 229.7 L1031.2 231.0 L1032.0 232.2 L1032.7 233.5 L1033.5 234.9 L1034.2 236.2 L1035.0 237.5 L1035.7 238.9 L1036.5 240.3 L1037.2 241.8 L1038.0 243.2 L1038.7 244.7 L1039.5 246.2 L1040.3 247.7 L1041.0 249.1 L1041.8 250.7 L1042.5 252.2 L1043.3 253.7 L1044.0 255.2 L1044.8 256.8 L1045.5 258.3 L1046.3 259.9 L1047.1 261.5 L1047.8 263.1 L1048.6 264.7 L1049.3 266.2 L1050.1 267.8 L1050.8 269.4 L1051.6 271.0 L1052.3 272.7 L1053.1 274.3 L1053.8 275.9 L1054.6 277.5 L1055.4 279.2 L1056.1 280.9 L1056.9 282.5 L1057.6 284.2 L1058.4 285.9 L1059.1 287.6 L1059.9 289.3 L1060.6 291.0 L1061.4 292.7 L1062.2 294.4 L1062.9 296.1 L1063.7 297.9 L1064.4 299.6 L1065.2 301.4 L1065.9 303.2 L1066.7 305.0 L1067.4 306.8 L1068.2 308.6 L1068.9 310.4 L1069.7 312.2 L1070.5 314.1 L1071.2 315.9 L1072.0 317.6 L1072.7 319.4 L1073.5 321.1 L1074.2 322.9 L1075.0 324.6 L1075.7 326.3 L1076.5 328.0 L1077.2 329.7 L1078.0 331.4 L1078.8 333.0 L1079.5 334.7 L1080.3 336.4 L1081.0 338.1 L1081.8 339.8 L1082.5 341.6 L1083.3 343.5 L1084.0 345.5 L1084.8 347.6 L1085.6 349.6 L1086.3 351.3 L1087.1 352.8 L1087.8 354.0 L1088.6 353.8 L1089.3 353.2 L1090.1 351.3 L1090.8 348.8 L1091.6 346.0 L1092.3 343.2 L1093.1 340.7 L1093.9 338.6 L1094.6 336.4 L1095.4 334.3 L1096.1 332.1 L1096.9 330.0 L1097.6 327.8 L1098.4 325.7 L1099.1 323.6 L1099.9 321.5 L1100.7 319.4 L1101.4 317.3 L1102.2 315.2 L1102.9 313.1 L1103.7 311.0 L1104.4 308.9 L1105.2 306.9 L1105.9 304.8 L1106.7 302.7 L1107.4 300.7 L1108.2 298.6 L1109.0 296.5 L1109.7 294.5 L1110.5 292.4 L1111.2 290.4 L1112.0 288.4 L1112.7 286.4 L1113.5 284.4 L1114.2 282.4 L1115.0 280.5 L1115.8 278.5 L1116.5 276.6 L1117.3 274.7 L1118.0 272.8 L1118.8 270.9 L1119.5 269.1 L1120.3 267.3 L1121.0 265.6 L1121.8 264.0 L1122.5 262.4 L1123.3 260.9 L1124.1 259.3 L1124.8 257.9 L1125.6 256.4 L1126.3 255.0 L1127.1 253.6 L1127.8 252.2 L1128.6 250.9 L1129.3 249.6 L1130.1 248.3 L1130.9 247.1 L1131.6 245.9 L1132.4 244.7 L1133.1 243.5 L1133.9 242.3 L1134.6 241.2 L1135.4 240.1 L1136.1 239.0 L1136.9 237.9 L1137.6 236.8 L1138.4 235.8 L1139.2 234.8 L1139.9 233.8 L1140.7 232.9 L1141.4 232.0 L1142.2 231.1 L1142.9 230.2 L1143.7 229.4 L1144.4 228.6 L1145.2 227.8 L1146.0 227.0 L1146.7 226.4 L1147.5 225.8 L1148.2 225.2 L1149.0 224.8 L1149.7 224.4 L1150.5 224.1 L1151.2 223.8 L1152.0 223.5 L1152.7 223.4 L1153.5 223.2 L1154.3 223.2 L1155.0 223.2 L1155.8 223.3 L1156.5 223.5 L1157.3 223.8 L1158.0 224.1 L1158.8 224.6 L1159.5 225.1 L1160.3 225.7 L1161.1 226.4 L1161.8 227.1 L1162.6 227.9 L1163.3 228.7 L1164.1 229.6 L1164.8 230.6 L1165.6 231.6 L1166.3 232.7 L1167.1 233.9 L1167.8 235.1 L1168.6 236.4 L1169.4 237.8 L1170.1 239.3 L1170.9 240.8 L1171.6 242.4 L1172.4 244.1 L1173.1 245.8 L1173.9 247.6 L1174.6 249.4 L1175.4 251.3 L1176.2 253.2 L1176.9 255.2 L1177.7 257.2 L1178.4 259.3 L1179.2 261.5 L1179.9 263.8 L1180.7 266.1 L1181.4 268.5 L1182.2 270.9 L1182.9 273.4 L1183.7 275.8 L1184.5 278.3 L1185.2 280.8 L1186.0 283.4 L1186.7 286.0 L1187.5 288.6 L1188.2 291.2 L1189.0 293.9 L1189.7 296.7 L1190.5 299.5 L1191.3 302.3 L1192.0 305.1 L1192.8 307.9 L1193.5 310.8 L1194.3 313.6 L1195.0 316.4 L1195.8 319.3 L1196.5 322.2 L1197.3 325.0 L1198.0 327.8 L1198.8 330.7 L1199.6 334.0 L1200.3 337.9 L1201.1 342.0 L1201.8 346.0 L1202.6 349.6 L1203.3 352.5 L1204.1 353.7 L1204.8 353.2 L1205.6 353.6 L1206.3 351.0 L1207.1 347.6 L1207.9 343.8 L1208.6 339.9 L1209.4 336.3 L1210.1 332.8 L1210.9 329.4 L1211.6 326.0 L1212.4 322.5 L1213.1 319.1 L1213.9 315.6 L1214.7 312.1 L1215.4 308.6 L1216.2 305.1 L1216.9 301.6 L1217.7 298.0 L1218.4 294.5 L1219.2 290.9 L1219.9 287.4 L1220.7 283.8 L1221.4 280.2 L1222.2 276.6 L1223.0 272.9 L1223.7 269.3 L1224.5 265.6 L1225.2 262.0 L1226.0 258.3 L1226.7 254.6 L1227.5 250.9 L1228.2 247.2 L1229.0 243.4 L1229.8 239.7 L1230.5 235.9 L1231.3 232.1 L1232.0 228.3 L1232.8 224.5 L1233.5 220.7 L1234.3 216.8 L1235.0 213.0 L1235.8 209.1 L1236.5 205.2 L1237.3 201.3 L1238.1 197.4 L1238.8 193.4 L1239.6 189.4 L1240.3 185.5 L1241.1 181.5 L1241.8 177.5 L1242.6 173.4 L1243.3 169.4 L1244.1 165.3 L1244.9 161.2 L1245.6 157.1 L1246.4 153.0 L1247.1 148.8 L1247.9 144.6 L1248.6 140.5 L1249.4 136.2 L1250.1 132.0 L1250.9 127.8 L1251.6 123.5 L1252.4 119.2 L1253.2 114.9 L1253.9 110.5 L1254.7 106.2 L1255.4 101.8 L1256.2 97.4 L1256.9 92.9 L1257.7 88.5 L1258.4 84.0 L1259.2 79.5 L1260.0 74.9 L1260.7 70.4 L1261.5 65.8 L1262.2 61.2 L1263.0 56.5 L1263.7 51.8 L1264.5 47.1 L1265.2 42.4 L1266.0 37.6 L1266.7 32.8 L1267.5 28.0 L1268.3 23.2 L1269.0 18.3 L1269.8 13.4 L1270.5 8.4 L1271.3 3.4 L1272.0 -1.6 L1272.8 -6.7 L1273.5 -11.8 L1274.3 -16.9 L1275.1 -22.1" stroke="#0000ff"/>
</g>
<text class="sn tk" transform="translate(144.3 419.0) scale(.965 1)" text-anchor="middle">230</text>
<text class="sn tk" transform="translate(320.9 419.0) scale(.965 1)" text-anchor="middle">235</text>
<text class="sn tk" transform="translate(497.5 419.0) scale(.965 1)" text-anchor="middle">240</text>
<text class="sn tk" transform="translate(674.1 419.0) scale(.965 1)" text-anchor="middle">245</text>
<text class="sn tk" transform="translate(850.7 419.0) scale(.965 1)" text-anchor="middle">250</text>
<text class="sn tk" transform="translate(1027.3 419.0) scale(.965 1)" text-anchor="middle">255</text>
<text class="sn tk" transform="translate(1203.9 419.0) scale(.965 1)" text-anchor="middle">260</text>
<text class="sn tk" transform="translate(125.8 372.8) scale(.965 1)" text-anchor="end">0</text>
<text class="sn tk" transform="translate(125.8 223.5) scale(.965 1)" text-anchor="end">2</text>
<text class="sn tk" transform="translate(125.8 74.2) scale(.965 1)" text-anchor="end">4</text>
<text class="sn"><tspan x="632.62" y="483.60" textLength="29.28" lengthAdjust="spacingAndGlyphs" class="f54">T</tspan><tspan x="661.02" y="483.60" textLength="12.89" lengthAdjust="spacingAndGlyphs" class="f51">i</tspan><tspan x="673.26" y="483.60" textLength="46.96" lengthAdjust="spacingAndGlyphs" class="f51">m</tspan><tspan x="718.53" y="483.60" textLength="28.45" lengthAdjust="spacingAndGlyphs" class="f51">e</tspan><tspan x="747.58" y="479.90" textLength="14.12" lengthAdjust="spacingAndGlyphs" class="f47">[</tspan><tspan x="763.51" y="483.60" textLength="19.49" lengthAdjust="spacingAndGlyphs" class="f51">s</tspan><tspan x="784.50" y="479.90" textLength="14.12" lengthAdjust="spacingAndGlyphs" class="f47">]</tspan></text>
<text class="sn" transform="translate(76.7 225.9) rotate(-90)"><tspan x="-4.52" y="0.00" textLength="13.14" lengthAdjust="spacingAndGlyphs" class="f58">|</tspan><tspan x="8.70" y="0.00" textLength="26.19" lengthAdjust="spacingAndGlyphs" class="f52">e</tspan><tspan x="35.98" y="0.00" textLength="13.14" lengthAdjust="spacingAndGlyphs" class="f58">|</tspan><tspan x="49.73" y="-3.50" textLength="13.82" lengthAdjust="spacingAndGlyphs" class="f49">(</tspan><tspan x="62.90" y="-2.30" textLength="20.83" lengthAdjust="spacingAndGlyphs" class="f52">°</tspan><tspan x="82.86" y="-3.50" textLength="13.69" lengthAdjust="spacingAndGlyphs" class="f49">)</tspan></text>
<rect x="1031.5" y="11.5" width="204.5" height="129.5" fill="#fff" stroke="#262626" stroke-width="1.2"/>
<path d="M1041.7 45.7 H1147.5" stroke="#ff0000" stroke-width="4.8"/>
<path d="M1041.7 106.4 H1147.5" stroke="#0000ff" stroke-width="4.8"/>
<text class="mt" y="58.4"><tspan x="1156.53" class="br">|</tspan><tspan x="1169.76" class="mi">e</tspan><tspan x="1191.82" y="65.40" class="rs">1</tspan><tspan x="1213.63" y="58.40" class="br">|</tspan></text>
<text class="mt" y="119.1"><tspan x="1156.53" class="br">|</tspan><tspan x="1169.76" class="mi">e</tspan><tspan x="1191.86" y="126.10" class="rs">2</tspan><tspan x="1213.63" y="119.10" class="br">|</tspan></text>
<path d="M397.0 505.6 V888.4 M647.8 505.6 V888.4 M898.5 505.6 V888.4 M1149.3 505.6 V888.4 M146.2 853.0 H1299.8 M146.2 753.7 H1299.8 M146.2 654.4 H1299.8 M146.2 555.1 H1299.8" stroke="#dfdfdf" stroke-width="1" fill="none"/>
<path d="M396.98 888.40 v-11.8 M396.98 505.55 v11.8 M647.76 888.40 v-11.8 M647.76 505.55 v11.8 M898.54 888.40 v-11.8 M898.54 505.55 v11.8 M1149.32 888.40 v-11.8 M1149.32 505.55 v11.8 M146.20 853.00 h11.8 M1299.80 853.00 h-11.8 M146.20 753.70 h11.8 M1299.80 753.70 h-11.8 M146.20 654.40 h11.8 M1299.80 654.40 h-11.8 M146.20 555.10 h11.8 M1299.80 555.10 h-11.8" stroke="#262626" stroke-width="1.05" fill="none"/>
<g stroke="#262626" fill="none" stroke-linecap="square">
<path d="M146.20 505.55 V888.40" stroke-width="1.12"/>
<path d="M146.20 505.55 H1299.80" stroke-width="1.15"/>
<path d="M1299.80 505.55 V888.40" stroke-width="1.12"/>
<path d="M146.20 888.40 H1299.80" stroke-width="1.15"/>
</g>
<g clip-path="url(#cb)" fill="none" stroke-width="4.8" stroke-linejoin="round">
<path d="M143.9 756.3 L145.2 754.8 L146.5 753.3 L147.8 751.8 L149.1 750.3 L150.4 748.8 L151.7 747.3 L152.9 745.8 L154.2 744.3 L155.5 742.8 L156.8 741.3 L158.1 739.8 L159.4 738.3 L160.7 736.9 L161.9 735.4 L163.2 733.9 L164.5 732.4 L165.8 731.0 L167.1 729.5 L168.4 728.1 L169.7 726.6 L170.9 725.2 L172.2 723.7 L173.5 722.3 L174.8 720.9 L176.1 719.5 L177.4 718.1 L178.7 716.7 L179.9 715.3 L181.2 714.0 L182.5 712.6 L183.8 711.3 L185.1 709.9 L186.4 708.6 L187.7 707.3 L188.9 706.0 L190.2 704.7 L191.5 703.4 L192.8 702.1 L194.1 700.9 L195.4 699.7 L196.7 698.4 L197.9 697.2 L199.2 696.0 L200.5 694.9 L201.8 693.7 L203.1 692.5 L204.4 691.4 L205.7 690.3 L206.9 689.2 L208.2 688.1 L209.5 687.0 L210.8 686.0 L212.1 685.0 L213.4 684.0 L214.7 683.0 L215.9 682.0 L217.2 681.0 L218.5 680.1 L219.8 679.2 L221.1 678.3 L222.4 677.4 L223.7 676.5 L224.9 675.7 L226.2 674.9 L227.5 674.1 L228.8 673.3 L230.1 672.5 L231.4 671.8 L232.7 671.1 L233.9 670.4 L235.2 669.7 L236.5 669.0 L237.8 668.4 L239.1 667.8 L240.4 667.2 L241.7 666.7 L242.9 666.1 L244.2 665.6 L245.5 665.1 L246.8 664.6 L248.1 664.2 L249.4 663.8 L250.7 663.4 L251.9 663.0 L253.2 662.6 L254.5 662.3 L255.8 662.0 L257.1 661.7 L258.4 661.4 L259.7 661.2 L260.9 661.0 L262.2 660.8 L263.5 660.6 L264.8 660.5 L266.1 660.4 L267.4 660.3 L268.7 660.2 L269.9 660.2 L271.2 660.2 L272.5 660.2 L273.8 660.2 L275.1 660.2 L276.4 660.3 L277.7 660.4 L278.9 660.6 L280.2 660.7 L281.5 660.9 L282.8 661.1 L284.1 661.3 L285.4 661.5 L286.7 661.8 L287.9 662.1 L289.2 662.4 L290.5 662.8 L291.8 663.1 L293.1 663.5 L294.4 663.9 L295.7 664.4 L296.9 664.8 L298.2 665.3 L299.5 665.8 L300.8 666.4 L302.1 666.9 L303.4 667.5 L304.7 668.1 L305.9 668.7 L307.2 669.3 L308.5 670.0 L309.8 670.7 L311.1 671.4 L312.4 672.1 L313.7 672.8 L314.9 673.6 L316.2 674.4 L317.5 675.2 L318.8 676.0 L320.1 676.9 L321.4 677.8 L322.7 678.7 L323.9 679.6 L325.2 680.5 L326.5 681.4 L327.8 682.4 L329.1 683.4 L330.4 684.4 L331.7 685.4 L332.9 686.5 L334.2 687.5 L335.5 688.6 L336.8 689.7 L338.1 690.8 L339.4 691.9 L340.7 693.0 L341.9 694.2 L343.2 695.4 L344.5 696.6 L345.8 697.8 L347.1 699.0 L348.4 700.2 L349.7 701.4 L350.9 702.7 L352.2 704.0 L353.5 705.2 L354.8 706.5 L356.1 707.8 L357.4 709.2 L358.7 710.5 L359.9 711.8 L361.2 713.2 L362.5 714.6 L363.8 715.9 L365.1 717.3 L366.4 718.7 L367.7 720.1 L368.9 721.5 L370.2 722.9 L371.5 724.4 L372.8 725.8 L374.1 727.2 L375.4 728.7 L376.7 730.1 L377.9 731.6 L379.2 733.1 L380.5 734.5 L381.8 736.0 L383.1 737.5 L384.4 739.0 L385.7 740.5 L386.9 742.0 L388.2 743.5 L389.5 745.0 L390.8 746.5 L392.1 748.0 L393.4 749.5 L394.7 751.0 L395.9 752.5 L397.2 754.0 L398.5 755.5 L399.8 757.0 L401.1 758.5 L402.4 760.0 L403.7 761.5 L404.9 763.0 L406.2 764.5 L407.5 766.0 L408.8 767.5 L410.1 769.0 L411.4 770.5 L412.7 771.9 L413.9 773.4 L415.2 774.9 L416.5 776.4 L417.8 777.8 L419.1 779.3 L420.4 780.7 L421.7 782.2 L422.9 783.6 L424.2 785.0 L425.5 786.4 L426.8 787.8 L428.1 789.2 L429.4 790.6 L430.7 792.0 L431.9 793.4 L433.2 794.7 L434.5 796.1 L435.8 797.4 L437.1 798.7 L438.4 800.1 L439.7 801.4 L440.9 802.6 L442.2 803.9 L443.5 805.2 L444.8 806.4 L446.1 807.7 L447.4 808.9 L448.7 810.1 L449.9 811.3 L451.2 812.5 L452.5 813.6 L453.8 814.8 L455.1 815.9 L456.4 817.0 L457.7 818.1 L458.9 819.2 L460.2 820.3 L461.5 821.3 L462.8 822.4 L464.1 823.4 L465.4 824.4 L466.7 825.4 L467.9 826.3 L469.2 827.3 L470.5 828.2 L471.8 829.1 L473.1 830.0 L474.4 830.8 L475.7 831.7 L476.9 832.5 L478.2 833.3 L479.5 834.1 L480.8 834.8 L482.1 835.6 L483.4 836.3 L484.7 837.0 L485.9 837.7 L487.2 838.3 L488.5 839.0 L489.8 839.6 L491.1 840.1 L492.4 840.7 L493.7 841.3 L494.9 841.8 L496.2 842.3 L497.5 842.7 L498.8 843.2 L500.1 843.6 L501.4 844.0 L502.7 844.4 L503.9 844.8 L505.2 845.1 L506.5 845.4 L507.8 845.7 L509.1 845.9 L510.4 846.2 L511.7 846.4 L512.9 846.6 L514.2 846.8 L515.5 846.9 L516.8 847.0 L518.1 847.1 L519.4 847.2 L520.7 847.2 L521.9 847.2 L523.2 847.2 L524.5 847.2 L525.8 847.2 L527.1 847.1 L528.4 847.0 L529.7 846.9 L530.9 846.7 L532.2 846.5 L533.5 846.3 L534.8 846.1 L536.1 845.9 L537.4 845.6 L538.7 845.3 L539.9 845.0 L541.2 844.6 L542.5 844.3 L543.8 843.9 L545.1 843.5 L546.4 843.0 L547.7 842.6 L548.9 842.1 L550.2 841.6 L551.5 841.1 L552.8 840.5 L554.1 840.0 L555.4 839.4 L556.7 838.7 L557.9 838.1 L559.2 837.4 L560.5 836.8 L561.8 836.1 L563.1 835.3 L564.4 834.6 L565.7 833.8 L566.9 833.0 L568.2 832.2 L569.5 831.4 L570.8 830.5 L572.1 829.7 L573.4 828.8 L574.7 827.9 L575.9 827.0 L577.2 826.0 L578.5 825.0 L579.8 824.1 L581.1 823.1 L582.4 822.0 L583.7 821.0 L584.9 819.9 L586.2 818.9 L587.5 817.8 L588.8 816.7 L590.1 815.6 L591.4 814.4 L592.7 813.3 L593.9 812.1 L595.2 810.9 L596.5 809.7 L597.8 808.5 L599.1 807.3 L600.4 806.0 L601.7 804.8 L602.9 803.5 L604.2 802.2 L605.5 800.9 L606.8 799.6 L608.1 798.3 L609.4 797.0 L610.7 795.6 L611.9 794.3 L613.2 792.9 L614.5 791.5 L615.8 790.2 L617.1 788.8 L618.4 787.4 L619.7 786.0 L620.9 784.5 L622.2 783.1 L623.5 781.7 L624.8 780.2 L626.1 778.8 L627.4 777.3 L628.7 775.9 L629.9 774.4 L631.2 772.9 L632.5 771.5 L633.8 770.0 L635.1 768.5 L636.4 767.0 L637.7 765.5 L638.9 764.0 L640.2 762.5 L641.5 761.0 L642.8 759.5 L644.1 758.0 L645.4 756.5 L646.7 755.0 L647.9 753.5 L649.2 752.0 L650.5 750.5 L651.8 749.0 L653.1 747.5 L654.4 746.0 L655.7 744.5 L656.9 743.0 L658.2 741.5 L659.5 740.0 L660.8 738.5 L662.1 737.0 L663.4 735.5 L664.7 734.1 L665.9 732.6 L667.2 731.1 L668.5 729.7 L669.8 728.2 L671.1 726.8 L672.4 725.3 L673.7 723.9 L674.9 722.5 L676.2 721.0 L677.5 719.6 L678.8 718.2 L680.1 716.9 L681.4 715.5 L682.7 714.1 L683.9 712.7 L685.2 711.4 L686.5 710.1 L687.8 708.7 L689.1 707.4 L690.4 706.1 L691.7 704.8 L692.9 703.5 L694.2 702.3 L695.5 701.0 L696.8 699.8 L698.1 698.6 L699.4 697.4 L700.7 696.2 L701.9 695.0 L703.2 693.8 L704.5 692.7 L705.8 691.5 L707.1 690.4 L708.4 689.3 L709.7 688.2 L710.9 687.2 L712.2 686.1 L713.5 685.1 L714.8 684.1 L716.1 683.1 L717.4 682.1 L718.7 681.1 L719.9 680.2 L721.2 679.3 L722.5 678.4 L723.8 677.5 L725.1 676.6 L726.4 675.8 L727.7 674.9 L728.9 674.1 L730.2 673.4 L731.5 672.6 L732.8 671.9 L734.1 671.1 L735.4 670.4 L736.7 669.8 L737.9 669.1 L739.2 668.5 L740.5 667.9 L741.8 667.3 L743.1 666.7 L744.4 666.2 L745.7 665.7 L746.9 665.2 L748.2 664.7 L749.5 664.2 L750.8 663.8 L752.1 663.4 L753.4 663.0 L754.7 662.7 L755.9 662.3 L757.2 662.0 L758.5 661.7 L759.8 661.5 L761.1 661.2 L762.4 661.0 L763.7 660.8 L764.9 660.7 L766.2 660.5 L767.5 660.4 L768.8 660.3 L770.1 660.2 L771.4 660.2 L772.7 660.2 L773.9 660.2 L775.2 660.2 L776.5 660.2 L777.8 660.3 L779.1 660.4 L780.4 660.5 L781.7 660.7 L782.9 660.9 L784.2 661.1 L785.5 661.3 L786.8 661.5 L788.1 661.8 L789.4 662.1 L790.7 662.4 L791.9 662.7 L793.2 663.1 L794.5 663.5 L795.8 663.9 L797.1 664.3 L798.4 664.8 L799.7 665.3 L800.9 665.8 L802.2 666.3 L803.5 666.8 L804.8 667.4 L806.1 668.0 L807.4 668.6 L808.7 669.3 L809.9 669.9 L811.2 670.6 L812.5 671.3 L813.8 672.0 L815.1 672.8 L816.4 673.5 L817.7 674.3 L818.9 675.1 L820.2 676.0 L821.5 676.8 L822.8 677.7 L824.1 678.6 L825.4 679.5 L826.7 680.4 L827.9 681.3 L829.2 682.3 L830.5 683.3 L831.8 684.3 L833.1 685.3 L834.4 686.3 L835.7 687.4 L836.9 688.5 L838.2 689.6 L839.5 690.7 L840.8 691.8 L842.1 692.9 L843.4 694.1 L844.6 695.2 L845.9 696.4 L847.2 697.6 L848.5 698.8 L849.8 700.1 L851.1 701.3 L852.4 702.6 L853.6 703.8 L854.9 705.1 L856.2 706.4 L857.5 707.7 L858.8 709.0 L860.1 710.4 L861.4 711.7 L862.6 713.0 L863.9 714.4 L865.2 715.8 L866.5 717.2 L867.8 718.6 L869.1 720.0 L870.4 721.4 L871.6 722.8 L872.9 724.2 L874.2 725.6 L875.5 727.1 L876.8 728.5 L878.1 730.0 L879.4 731.4 L880.6 732.9 L881.9 734.4 L883.2 735.9 L884.5 737.3 L885.8 738.8 L887.1 740.3 L888.4 741.8 L889.6 743.3 L890.9 744.8 L892.2 746.3 L893.5 747.8 L894.8 749.3 L896.1 750.8 L897.4 752.3 L898.6 753.8 L899.9 755.3 L901.2 756.8 L902.5 758.3 L903.8 759.9 L905.1 761.4 L906.4 762.9 L907.6 764.4 L908.9 765.8 L910.2 767.3 L911.5 768.8 L912.8 770.3 L914.1 771.8 L915.4 773.3 L916.6 774.7 L917.9 776.2 L919.2 777.7 L920.5 779.1 L921.8 780.6 L923.1 782.0 L924.4 783.4 L925.6 784.9 L926.9 786.3 L928.2 787.7 L929.5 789.1 L930.8 790.5 L932.1 791.9 L933.4 793.2 L934.6 794.6 L935.9 795.9 L937.2 797.3 L938.5 798.6 L939.8 799.9 L941.1 801.2 L942.4 802.5 L943.6 803.8 L944.9 805.1 L946.2 806.3 L947.5 807.5 L948.8 808.8 L950.1 810.0 L951.4 811.2 L952.6 812.4 L953.9 813.5 L955.2 814.7 L956.5 815.8 L957.8 816.9 L959.1 818.0 L960.4 819.1 L961.6 820.2 L962.9 821.2 L964.2 822.3 L965.5 823.3 L966.8 824.3 L968.1 825.3 L969.4 826.2 L970.6 827.2 L971.9 828.1 L973.2 829.0 L974.5 829.9 L975.8 830.7 L977.1 831.6 L978.4 832.4 L979.6 833.2 L980.9 834.0 L982.2 834.8 L983.5 835.5 L984.8 836.2 L986.1 836.9 L987.4 837.6 L988.6 838.3 L989.9 838.9 L991.2 839.5 L992.5 840.1 L993.8 840.7 L995.1 841.2 L996.4 841.7 L997.6 842.2 L998.9 842.7 L1000.2 843.1 L1001.5 843.6 L1002.8 844.0 L1004.1 844.4 L1005.4 844.7 L1006.6 845.1 L1007.9 845.4 L1009.2 845.7 L1010.5 845.9 L1011.8 846.2 L1013.1 846.4 L1014.4 846.6 L1015.6 846.7 L1016.9 846.9 L1018.2 847.0 L1019.5 847.1 L1020.8 847.2 L1022.1 847.2 L1023.4 847.2 L1024.6 847.2 L1025.9 847.2 L1027.2 847.2 L1028.5 847.1 L1029.8 847.0 L1031.1 846.9 L1032.4 846.7 L1033.6 846.5 L1034.9 846.4 L1036.2 846.1 L1037.5 845.9 L1038.8 845.6 L1040.1 845.3 L1041.4 845.0 L1042.6 844.7 L1043.9 844.3 L1045.2 843.9 L1046.5 843.5 L1047.8 843.1 L1049.1 842.6 L1050.4 842.2 L1051.6 841.7 L1052.9 841.1 L1054.2 840.6 L1055.5 840.0 L1056.8 839.4 L1058.1 838.8 L1059.4 838.2 L1060.6 837.5 L1061.9 836.8 L1063.2 836.1 L1064.5 835.4 L1065.8 834.7 L1067.1 833.9 L1068.4 833.1 L1069.6 832.3 L1070.9 831.5 L1072.2 830.6 L1073.5 829.8 L1074.8 828.9 L1076.1 828.0 L1077.4 827.1 L1078.6 826.1 L1079.9 825.1 L1081.2 824.2 L1082.5 823.2 L1083.8 822.1 L1085.1 821.1 L1086.4 820.1 L1087.6 819.0 L1088.9 817.9 L1090.2 816.8 L1091.5 815.7 L1092.8 814.5 L1094.1 813.4 L1095.4 812.2 L1096.6 811.0 L1097.9 809.8 L1099.2 808.6 L1100.5 807.4 L1101.8 806.2 L1103.1 804.9 L1104.4 803.6 L1105.6 802.4 L1106.9 801.1 L1108.2 799.8 L1109.5 798.4 L1110.8 797.1 L1112.1 795.8 L1113.4 794.4 L1114.6 793.1 L1115.9 791.7 L1117.2 790.3 L1118.5 788.9 L1119.8 787.5 L1121.1 786.1 L1122.4 784.7 L1123.6 783.3 L1124.9 781.8 L1126.2 780.4 L1127.5 778.9 L1128.8 777.5 L1130.1 776.0 L1131.4 774.6 L1132.6 773.1 L1133.9 771.6 L1135.2 770.1 L1136.5 768.7 L1137.8 767.2 L1139.1 765.7 L1140.4 764.2 L1141.6 762.7 L1142.9 761.2 L1144.2 759.7 L1145.5 758.2 L1146.8 756.7 L1148.1 755.2 L1149.4 753.7 L1150.6 752.1 L1151.9 750.6 L1153.2 749.1 L1154.5 747.6 L1155.8 746.1 L1157.1 744.6 L1158.4 743.1 L1159.6 741.6 L1160.9 740.1 L1162.2 738.7 L1163.5 737.2 L1164.8 735.7 L1166.1 734.2 L1167.4 732.7 L1168.6 731.3 L1169.9 729.8 L1171.2 728.4 L1172.5 726.9 L1173.8 725.5 L1175.1 724.0 L1176.4 722.6 L1177.6 721.2 L1178.9 719.8 L1180.2 718.4 L1181.5 717.0 L1182.8 715.6 L1184.1 714.2 L1185.4 712.9 L1186.6 711.5 L1187.9 710.2 L1189.2 708.9 L1190.5 707.6 L1191.8 706.2 L1193.1 705.0 L1194.4 703.7 L1195.6 702.4 L1196.9 701.2 L1198.2 699.9 L1199.5 698.7 L1200.8 697.5 L1202.1 696.3 L1203.4 695.1 L1204.6 693.9 L1205.9 692.8 L1207.2 691.6 L1208.5 690.5 L1209.8 689.4 L1211.1 688.3 L1212.4 687.3 L1213.6 686.2 L1214.9 685.2 L1216.2 684.2 L1217.5 683.2 L1218.8 682.2 L1220.1 681.2 L1221.4 680.3 L1222.6 679.4 L1223.9 678.5 L1225.2 677.6 L1226.5 676.7 L1227.8 675.9 L1229.1 675.0 L1230.4 674.2 L1231.6 673.4 L1232.9 672.7 L1234.2 671.9 L1235.5 671.2 L1236.8 670.5 L1238.1 669.8 L1239.4 669.2 L1240.6 668.5 L1241.9 667.9 L1243.2 667.3 L1244.5 666.8 L1245.8 666.2 L1247.1 665.7 L1248.4 665.2 L1249.6 664.7 L1250.9 664.3 L1252.2 663.8 L1253.5 663.4 L1254.8 663.1 L1256.1 662.7 L1257.4 662.4 L1258.6 662.0 L1259.9 661.8 L1261.2 661.5 L1262.5 661.3 L1263.8 661.0 L1265.1 660.8 L1266.4 660.7 L1267.6 660.5 L1268.9 660.4 L1270.2 660.3 L1271.5 660.2 L1272.8 660.2 L1274.1 660.2 L1275.4 660.2 L1276.6 660.2 L1277.9 660.2 L1279.2 660.3 L1280.5 660.4 L1281.8 660.5 L1283.1 660.7 L1284.4 660.8 L1285.6 661.0 L1286.9 661.3 L1288.2 661.5 L1289.5 661.8 L1290.8 662.1 L1292.1 662.4 L1293.4 662.7 L1294.6 663.1 L1295.9 663.4 L1297.2 663.9 L1298.5 664.3 L1299.8 664.7" stroke="#77ac30"/>
<path d="M143.9 628.9 L145.2 628.9 L146.5 628.9 L147.8 628.9 L149.1 629.0 L150.4 629.1 L151.7 629.2 L152.9 629.3 L154.2 629.5 L155.5 629.7 L156.8 630.0 L158.1 630.3 L159.4 630.6 L160.7 630.9 L161.9 631.3 L163.2 631.7 L164.5 632.2 L165.8 632.6 L167.1 633.1 L168.4 633.7 L169.7 634.2 L170.9 634.8 L172.2 635.5 L173.5 636.1 L174.8 636.8 L176.1 637.5 L177.4 638.3 L178.7 639.1 L179.9 639.9 L181.2 640.7 L182.5 641.6 L183.8 642.5 L185.1 643.4 L186.4 644.4 L187.7 645.3 L188.9 646.3 L190.2 647.4 L191.5 648.5 L192.8 649.6 L194.1 650.7 L195.4 651.8 L196.7 653.0 L197.9 654.2 L199.2 655.4 L200.5 656.7 L201.8 658.0 L203.1 659.3 L204.4 660.6 L205.7 661.9 L206.9 663.3 L208.2 664.7 L209.5 666.1 L210.8 667.6 L212.1 669.0 L213.4 670.5 L214.7 672.0 L215.9 673.6 L217.2 675.1 L218.5 676.7 L219.8 678.3 L221.1 679.9 L222.4 681.5 L223.7 683.2 L224.9 684.8 L226.2 686.5 L227.5 688.2 L228.8 689.9 L230.1 691.7 L231.4 693.4 L232.7 695.2 L233.9 697.0 L235.2 698.8 L236.5 700.6 L237.8 702.4 L239.1 704.3 L240.4 706.1 L241.7 708.0 L242.9 709.9 L244.2 711.7 L245.5 713.6 L246.8 715.6 L248.1 717.5 L249.4 719.4 L250.7 721.3 L251.9 723.3 L253.2 725.2 L254.5 727.2 L255.8 729.2 L257.1 731.1 L258.4 733.1 L259.7 735.1 L260.9 737.1 L262.2 739.1 L263.5 741.1 L264.8 743.1 L266.1 745.1 L267.4 747.1 L268.7 749.1 L269.9 751.1 L271.2 753.1 L272.5 755.1 L273.8 757.2 L275.1 759.2 L276.4 761.2 L277.7 763.2 L278.9 765.2 L280.2 767.2 L281.5 769.2 L282.8 771.2 L284.1 773.2 L285.4 775.1 L286.7 777.1 L287.9 779.1 L289.2 781.1 L290.5 783.0 L291.8 785.0 L293.1 786.9 L294.4 788.8 L295.7 790.8 L296.9 792.7 L298.2 794.6 L299.5 796.5 L300.8 798.4 L302.1 800.2 L303.4 802.1 L304.7 803.9 L305.9 805.8 L307.2 807.6 L308.5 809.4 L309.8 811.2 L311.1 813.0 L312.4 814.7 L313.7 816.5 L314.9 818.2 L316.2 819.9 L317.5 821.6 L318.8 823.3 L320.1 824.9 L321.4 826.6 L322.7 828.2 L323.9 829.8 L325.2 831.4 L326.5 833.0 L327.8 834.5 L329.1 836.0 L330.4 837.5 L331.7 839.0 L332.9 840.5 L334.2 841.9 L335.5 843.3 L336.8 844.7 L338.1 846.1 L339.4 847.4 L340.7 848.7 L341.9 850.0 L343.2 851.3 L344.5 852.5 L345.8 853.7 L347.1 854.9 L348.4 856.1 L349.7 857.2 L350.9 858.3 L352.2 859.4 L353.5 860.5 L354.8 861.5 L356.1 862.5 L357.4 863.5 L358.7 864.4 L359.9 865.3 L361.2 866.2 L362.5 867.1 L363.8 867.9 L365.1 868.7 L366.4 869.5 L367.7 870.2 L368.9 870.9 L370.2 871.6 L371.5 872.2 L372.8 872.8 L374.1 873.4 L375.4 874.0 L376.7 874.5 L377.9 875.0 L379.2 875.4 L380.5 875.9 L381.8 876.3 L383.1 876.6 L384.4 877.0 L385.7 877.3 L386.9 877.5 L388.2 877.8 L389.5 878.0 L390.8 878.1 L392.1 878.3 L393.4 878.4 L394.7 878.5 L395.9 878.5 L397.2 878.5 L398.5 878.5 L399.8 878.4 L401.1 878.4 L402.4 878.2 L403.7 878.1 L404.9 877.9 L406.2 877.7 L407.5 877.4 L408.8 877.2 L410.1 876.8 L411.4 876.5 L412.7 876.1 L413.9 875.7 L415.2 875.3 L416.5 874.8 L417.8 874.3 L419.1 873.8 L420.4 873.2 L421.7 872.6 L422.9 872.0 L424.2 871.3 L425.5 870.6 L426.8 869.9 L428.1 869.2 L429.4 868.4 L430.7 867.6 L431.9 866.7 L433.2 865.9 L434.5 865.0 L435.8 864.1 L437.1 863.1 L438.4 862.1 L439.7 861.1 L440.9 860.1 L442.2 859.0 L443.5 857.9 L444.8 856.8 L446.1 855.6 L447.4 854.5 L448.7 853.3 L449.9 852.0 L451.2 850.8 L452.5 849.5 L453.8 848.2 L455.1 846.9 L456.4 845.5 L457.7 844.2 L458.9 842.8 L460.2 841.4 L461.5 839.9 L462.8 838.4 L464.1 837.0 L465.4 835.4 L466.7 833.9 L467.9 832.4 L469.2 830.8 L470.5 829.2 L471.8 827.6 L473.1 826.0 L474.4 824.3 L475.7 822.6 L476.9 821.0 L478.2 819.3 L479.5 817.5 L480.8 815.8 L482.1 814.1 L483.4 812.3 L484.7 810.5 L485.9 808.7 L487.2 806.9 L488.5 805.1 L489.8 803.2 L491.1 801.4 L492.4 799.5 L493.7 797.6 L494.9 795.8 L496.2 793.9 L497.5 791.9 L498.8 790.0 L500.1 788.1 L501.4 786.2 L502.7 784.2 L503.9 782.3 L505.2 780.3 L506.5 778.3 L507.8 776.4 L509.1 774.4 L510.4 772.4 L511.7 770.4 L512.9 768.4 L514.2 766.4 L515.5 764.4 L516.8 762.4 L518.1 760.4 L519.4 758.4 L520.7 756.4 L521.9 754.4 L523.2 752.4 L524.5 750.4 L525.8 748.3 L527.1 746.3 L528.4 744.3 L529.7 742.3 L530.9 740.3 L532.2 738.3 L533.5 736.3 L534.8 734.3 L536.1 732.4 L537.4 730.4 L538.7 728.4 L539.9 726.4 L541.2 724.5 L542.5 722.5 L543.8 720.6 L545.1 718.7 L546.4 716.7 L547.7 714.8 L548.9 712.9 L550.2 711.0 L551.5 709.1 L552.8 707.3 L554.1 705.4 L555.4 703.6 L556.7 701.7 L557.9 699.9 L559.2 698.1 L560.5 696.3 L561.8 694.5 L563.1 692.8 L564.4 691.0 L565.7 689.3 L566.9 687.6 L568.2 685.9 L569.5 684.2 L570.8 682.5 L572.1 680.9 L573.4 679.3 L574.7 677.7 L575.9 676.1 L577.2 674.5 L578.5 673.0 L579.8 671.5 L581.1 670.0 L582.4 668.5 L583.7 667.0 L584.9 665.6 L586.2 664.2 L587.5 662.8 L588.8 661.4 L590.1 660.1 L591.4 658.8 L592.7 657.5 L593.9 656.2 L595.2 655.0 L596.5 653.7 L597.8 652.5 L599.1 651.4 L600.4 650.2 L601.7 649.1 L602.9 648.0 L604.2 647.0 L605.5 646.0 L606.8 645.0 L608.1 644.0 L609.4 643.0 L610.7 642.1 L611.9 641.2 L613.2 640.4 L614.5 639.6 L615.8 638.8 L617.1 638.0 L618.4 637.2 L619.7 636.5 L620.9 635.9 L622.2 635.2 L623.5 634.6 L624.8 634.0 L626.1 633.5 L627.4 632.9 L628.7 632.4 L629.9 632.0 L631.2 631.5 L632.5 631.2 L633.8 630.8 L635.1 630.5 L636.4 630.1 L637.7 629.9 L638.9 629.6 L640.2 629.4 L641.5 629.3 L642.8 629.1 L644.1 629.0 L645.4 628.9 L646.7 628.9 L647.9 628.9 L649.2 628.9 L650.5 629.0 L651.8 629.0 L653.1 629.2 L654.4 629.3 L655.7 629.5 L656.9 629.7 L658.2 630.0 L659.5 630.2 L660.8 630.5 L662.1 630.9 L663.4 631.3 L664.7 631.7 L665.9 632.1 L667.2 632.6 L668.5 633.1 L669.8 633.6 L671.1 634.2 L672.4 634.8 L673.7 635.4 L674.9 636.0 L676.2 636.7 L677.5 637.4 L678.8 638.2 L680.1 639.0 L681.4 639.8 L682.7 640.6 L683.9 641.5 L685.2 642.4 L686.5 643.3 L687.8 644.3 L689.1 645.2 L690.4 646.2 L691.7 647.3 L692.9 648.3 L694.2 649.4 L695.5 650.6 L696.8 651.7 L698.1 652.9 L699.4 654.1 L700.7 655.3 L701.9 656.5 L703.2 657.8 L704.5 659.1 L705.8 660.4 L707.1 661.8 L708.4 663.2 L709.7 664.6 L710.9 666.0 L712.2 667.4 L713.5 668.9 L714.8 670.4 L716.1 671.9 L717.4 673.4 L718.7 675.0 L719.9 676.5 L721.2 678.1 L722.5 679.7 L723.8 681.3 L725.1 683.0 L726.4 684.7 L727.7 686.3 L728.9 688.0 L730.2 689.8 L731.5 691.5 L732.8 693.3 L734.1 695.0 L735.4 696.8 L736.7 698.6 L737.9 700.4 L739.2 702.2 L740.5 704.1 L741.8 705.9 L743.1 707.8 L744.4 709.7 L745.7 711.5 L746.9 713.4 L748.2 715.4 L749.5 717.3 L750.8 719.2 L752.1 721.1 L753.4 723.1 L754.7 725.0 L755.9 727.0 L757.2 729.0 L758.5 730.9 L759.8 732.9 L761.1 734.9 L762.4 736.9 L763.7 738.9 L764.9 740.9 L766.2 742.9 L767.5 744.9 L768.8 746.9 L770.1 748.9 L771.4 750.9 L772.7 752.9 L773.9 754.9 L775.2 756.9 L776.5 758.9 L777.8 761.0 L779.1 763.0 L780.4 765.0 L781.7 767.0 L782.9 769.0 L784.2 771.0 L785.5 772.9 L786.8 774.9 L788.1 776.9 L789.4 778.9 L790.7 780.8 L791.9 782.8 L793.2 784.8 L794.5 786.7 L795.8 788.6 L797.1 790.6 L798.4 792.5 L799.7 794.4 L800.9 796.3 L802.2 798.2 L803.5 800.0 L804.8 801.9 L806.1 803.7 L807.4 805.6 L808.7 807.4 L809.9 809.2 L811.2 811.0 L812.5 812.8 L813.8 814.5 L815.1 816.3 L816.4 818.0 L817.7 819.7 L818.9 821.4 L820.2 823.1 L821.5 824.8 L822.8 826.4 L824.1 828.0 L825.4 829.6 L826.7 831.2 L827.9 832.8 L829.2 834.3 L830.5 835.9 L831.8 837.4 L833.1 838.9 L834.4 840.3 L835.7 841.7 L836.9 843.2 L838.2 844.5 L839.5 845.9 L840.8 847.3 L842.1 848.6 L843.4 849.9 L844.6 851.1 L845.9 852.4 L847.2 853.6 L848.5 854.8 L849.8 856.0 L851.1 857.1 L852.4 858.2 L853.6 859.3 L854.9 860.4 L856.2 861.4 L857.5 862.4 L858.8 863.4 L860.1 864.3 L861.4 865.2 L862.6 866.1 L863.9 867.0 L865.2 867.8 L866.5 868.6 L867.8 869.4 L869.1 870.1 L870.4 870.8 L871.6 871.5 L872.9 872.2 L874.2 872.8 L875.5 873.4 L876.8 873.9 L878.1 874.4 L879.4 874.9 L880.6 875.4 L881.9 875.8 L883.2 876.2 L884.5 876.6 L885.8 876.9 L887.1 877.2 L888.4 877.5 L889.6 877.7 L890.9 878.0 L892.2 878.1 L893.5 878.3 L894.8 878.4 L896.1 878.5 L897.4 878.5 L898.6 878.5 L899.9 878.5 L901.2 878.4 L902.5 878.4 L903.8 878.3 L905.1 878.1 L906.4 877.9 L907.6 877.7 L908.9 877.5 L910.2 877.2 L911.5 876.9 L912.8 876.5 L914.1 876.2 L915.4 875.8 L916.6 875.3 L917.9 874.9 L919.2 874.4 L920.5 873.8 L921.8 873.3 L923.1 872.7 L924.4 872.0 L925.6 871.4 L926.9 870.7 L928.2 870.0 L929.5 869.2 L930.8 868.5 L932.1 867.7 L933.4 866.8 L934.6 866.0 L935.9 865.1 L937.2 864.2 L938.5 863.2 L939.8 862.2 L941.1 861.2 L942.4 860.2 L943.6 859.1 L944.9 858.0 L946.2 856.9 L947.5 855.8 L948.8 854.6 L950.1 853.4 L951.4 852.2 L952.6 850.9 L953.9 849.7 L955.2 848.4 L956.5 847.0 L957.8 845.7 L959.1 844.3 L960.4 842.9 L961.6 841.5 L962.9 840.1 L964.2 838.6 L965.5 837.1 L966.8 835.6 L968.1 834.1 L969.4 832.5 L970.6 831.0 L971.9 829.4 L973.2 827.8 L974.5 826.1 L975.8 824.5 L977.1 822.8 L978.4 821.1 L979.6 819.4 L980.9 817.7 L982.2 816.0 L983.5 814.2 L984.8 812.5 L986.1 810.7 L987.4 808.9 L988.6 807.1 L989.9 805.3 L991.2 803.4 L992.5 801.6 L993.8 799.7 L995.1 797.8 L996.4 796.0 L997.6 794.1 L998.9 792.1 L1000.2 790.2 L1001.5 788.3 L1002.8 786.4 L1004.1 784.4 L1005.4 782.5 L1006.6 780.5 L1007.9 778.5 L1009.2 776.6 L1010.5 774.6 L1011.8 772.6 L1013.1 770.6 L1014.4 768.6 L1015.6 766.6 L1016.9 764.6 L1018.2 762.6 L1019.5 760.6 L1020.8 758.6 L1022.1 756.6 L1023.4 754.6 L1024.6 752.6 L1025.9 750.6 L1027.2 748.6 L1028.5 746.5 L1029.8 744.5 L1031.1 742.5 L1032.4 740.5 L1033.6 738.5 L1034.9 736.5 L1036.2 734.6 L1037.5 732.6 L1038.8 730.6 L1040.1 728.6 L1041.4 726.7 L1042.6 724.7 L1043.9 722.7 L1045.2 720.8 L1046.5 718.9 L1047.8 716.9 L1049.1 715.0 L1050.4 713.1 L1051.6 711.2 L1052.9 709.3 L1054.2 707.5 L1055.5 705.6 L1056.8 703.8 L1058.1 701.9 L1059.4 700.1 L1060.6 698.3 L1061.9 696.5 L1063.2 694.7 L1064.5 693.0 L1065.8 691.2 L1067.1 689.5 L1068.4 687.8 L1069.6 686.1 L1070.9 684.4 L1072.2 682.7 L1073.5 681.1 L1074.8 679.4 L1076.1 677.8 L1077.4 676.3 L1078.6 674.7 L1079.9 673.1 L1081.2 671.6 L1082.5 670.1 L1083.8 668.6 L1085.1 667.2 L1086.4 665.7 L1087.6 664.3 L1088.9 662.9 L1090.2 661.6 L1091.5 660.2 L1092.8 658.9 L1094.1 657.6 L1095.4 656.3 L1096.6 655.1 L1097.9 653.9 L1099.2 652.7 L1100.5 651.5 L1101.8 650.4 L1103.1 649.2 L1104.4 648.2 L1105.6 647.1 L1106.9 646.1 L1108.2 645.1 L1109.5 644.1 L1110.8 643.1 L1112.1 642.2 L1113.4 641.3 L1114.6 640.5 L1115.9 639.6 L1117.2 638.8 L1118.5 638.1 L1119.8 637.3 L1121.1 636.6 L1122.4 635.9 L1123.6 635.3 L1124.9 634.7 L1126.2 634.1 L1127.5 633.5 L1128.8 633.0 L1130.1 632.5 L1131.4 632.0 L1132.6 631.6 L1133.9 631.2 L1135.2 630.8 L1136.5 630.5 L1137.8 630.2 L1139.1 629.9 L1140.4 629.7 L1141.6 629.5 L1142.9 629.3 L1144.2 629.1 L1145.5 629.0 L1146.8 628.9 L1148.1 628.9 L1149.4 628.9 L1150.6 628.9 L1151.9 628.9 L1153.2 629.0 L1154.5 629.1 L1155.8 629.3 L1157.1 629.5 L1158.4 629.7 L1159.6 629.9 L1160.9 630.2 L1162.2 630.5 L1163.5 630.8 L1164.8 631.2 L1166.1 631.6 L1167.4 632.1 L1168.6 632.5 L1169.9 633.0 L1171.2 633.5 L1172.5 634.1 L1173.8 634.7 L1175.1 635.3 L1176.4 636.0 L1177.6 636.7 L1178.9 637.4 L1180.2 638.1 L1181.5 638.9 L1182.8 639.7 L1184.1 640.5 L1185.4 641.4 L1186.6 642.3 L1187.9 643.2 L1189.2 644.1 L1190.5 645.1 L1191.8 646.1 L1193.1 647.2 L1194.4 648.2 L1195.6 649.3 L1196.9 650.4 L1198.2 651.6 L1199.5 652.7 L1200.8 653.9 L1202.1 655.2 L1203.4 656.4 L1204.6 657.7 L1205.9 659.0 L1207.2 660.3 L1208.5 661.6 L1209.8 663.0 L1211.1 664.4 L1212.4 665.8 L1213.6 667.3 L1214.9 668.7 L1216.2 670.2 L1217.5 671.7 L1218.8 673.2 L1220.1 674.8 L1221.4 676.4 L1222.6 677.9 L1223.9 679.5 L1225.2 681.2 L1226.5 682.8 L1227.8 684.5 L1229.1 686.2 L1230.4 687.9 L1231.6 689.6 L1232.9 691.3 L1234.2 693.1 L1235.5 694.8 L1236.8 696.6 L1238.1 698.4 L1239.4 700.2 L1240.6 702.0 L1241.9 703.9 L1243.2 705.7 L1244.5 707.6 L1245.8 709.5 L1247.1 711.3 L1248.4 713.2 L1249.6 715.1 L1250.9 717.1 L1252.2 719.0 L1253.5 720.9 L1254.8 722.9 L1256.1 724.8 L1257.4 726.8 L1258.6 728.7 L1259.9 730.7 L1261.2 732.7 L1262.5 734.7 L1263.8 736.7 L1265.1 738.7 L1266.4 740.7 L1267.6 742.7 L1268.9 744.7 L1270.2 746.7 L1271.5 748.7 L1272.8 750.7 L1274.1 752.7 L1275.4 754.7 L1276.6 756.7 L1277.9 758.7 L1279.2 760.7 L1280.5 762.7 L1281.8 764.8 L1283.1 766.8 L1284.4 768.8 L1285.6 770.7 L1286.9 772.7 L1288.2 774.7 L1289.5 776.7 L1290.8 778.7 L1292.1 780.6 L1293.4 782.6 L1294.6 784.5 L1295.9 786.5 L1297.2 788.4 L1298.5 790.4 L1299.8 792.3" stroke="#ff00ff"/>
<path d="M143.9 756.6 L145.2 754.9 L146.5 753.3 L147.8 751.7 L149.1 750.0 L150.4 748.4 L151.7 746.8 L152.9 745.2 L154.2 743.6 L155.5 741.9 L156.8 740.3 L158.1 738.7 L159.4 737.1 L160.7 735.5 L161.9 734.0 L163.2 732.4 L164.5 730.8 L165.8 729.3 L167.1 727.7 L168.4 726.2 L169.7 724.7 L170.9 723.2 L172.2 721.7 L173.5 720.2 L174.8 718.8 L176.1 717.3 L177.4 715.8 L178.7 714.4 L179.9 713.0 L181.2 711.5 L182.5 710.1 L183.8 708.7 L185.1 707.3 L186.4 705.9 L187.7 704.6 L188.9 703.2 L190.2 701.9 L191.5 700.6 L192.8 699.3 L194.1 698.0 L195.4 696.7 L196.7 695.4 L197.9 694.2 L199.2 692.9 L200.5 691.7 L201.8 690.5 L203.1 689.3 L204.4 688.2 L205.7 687.0 L206.9 685.9 L208.2 684.8 L209.5 683.7 L210.8 682.6 L212.1 681.6 L213.4 680.5 L214.7 679.5 L215.9 678.5 L217.2 677.6 L218.5 676.6 L219.8 675.7 L221.1 674.8 L222.4 673.9 L223.7 673.0 L224.9 672.2 L226.2 671.4 L227.5 670.6 L228.8 669.8 L230.1 669.0 L231.4 668.3 L232.7 667.6 L233.9 666.9 L235.2 666.2 L236.5 665.6 L237.8 664.9 L239.1 664.3 L240.4 663.7 L241.7 663.2 L242.9 662.6 L244.2 662.1 L245.5 661.6 L246.8 661.2 L248.1 660.7 L249.4 660.3 L250.7 659.9 L251.9 659.5 L253.2 659.1 L254.5 658.8 L255.8 658.5 L257.1 658.2 L258.4 658.0 L259.7 657.7 L260.9 657.5 L262.2 657.3 L263.5 657.2 L264.8 657.0 L266.1 656.9 L267.4 656.8 L268.7 656.7 L269.9 656.7 L271.2 656.7 L272.5 656.7 L273.8 656.7 L275.1 656.8 L276.4 656.9 L277.7 657.0 L278.9 657.1 L280.2 657.3 L281.5 657.5 L282.8 657.7 L284.1 657.9 L285.4 658.2 L286.7 658.5 L287.9 658.8 L289.2 659.1 L290.5 659.5 L291.8 659.9 L293.1 660.3 L294.4 660.8 L295.7 661.2 L296.9 661.7 L298.2 662.2 L299.5 662.8 L300.8 663.3 L302.1 663.9 L303.4 664.5 L304.7 665.1 L305.9 665.8 L307.2 666.5 L308.5 667.2 L309.8 667.9 L311.1 668.6 L312.4 669.4 L313.7 670.2 L314.9 671.0 L316.2 671.8 L317.5 672.6 L318.8 673.5 L320.1 674.4 L321.4 675.3 L322.7 676.2 L323.9 677.1 L325.2 678.1 L326.5 679.1 L327.8 680.1 L329.1 681.1 L330.4 682.1 L331.7 683.2 L332.9 684.3 L334.2 685.4 L335.5 686.5 L336.8 687.6 L338.1 688.8 L339.4 689.9 L340.7 691.1 L341.9 692.3 L343.2 693.5 L344.5 694.8 L345.8 696.0 L347.1 697.3 L348.4 698.5 L349.7 699.8 L350.9 701.1 L352.2 702.4 L353.5 703.8 L354.8 705.1 L356.1 706.4 L357.4 707.8 L358.7 709.2 L359.9 710.6 L361.2 711.9 L362.5 713.3 L363.8 714.7 L365.1 716.2 L366.4 717.6 L367.7 719.0 L368.9 720.5 L370.2 721.9 L371.5 723.4 L372.8 724.8 L374.1 726.3 L375.4 727.8 L376.7 729.2 L377.9 730.7 L379.2 732.2 L380.5 733.7 L381.8 735.2 L383.1 736.7 L384.4 738.2 L385.7 739.7 L386.9 741.3 L388.2 742.8 L389.5 744.3 L390.8 745.8 L392.1 747.4 L393.4 748.9 L394.7 750.4 L395.9 751.9 L397.2 753.5 L398.5 755.0 L399.8 756.5 L401.1 758.1 L402.4 759.6 L403.7 761.1 L404.9 762.6 L406.2 764.1 L407.5 765.7 L408.8 767.2 L410.1 768.7 L411.4 770.2 L412.7 771.7 L413.9 773.2 L415.2 774.7 L416.5 776.1 L417.8 777.6 L419.1 779.1 L420.4 780.5 L421.7 782.0 L422.9 783.4 L424.2 784.9 L425.5 786.3 L426.8 787.7 L428.1 789.1 L429.4 790.5 L430.7 791.9 L431.9 793.3 L433.2 794.7 L434.5 796.0 L435.8 797.4 L437.1 798.7 L438.4 800.0 L439.7 801.3 L440.9 802.6 L442.2 803.9 L443.5 805.2 L444.8 806.4 L446.1 807.7 L447.4 808.9 L448.7 810.1 L449.9 811.3 L451.2 812.5 L452.5 813.6 L453.8 814.8 L455.1 815.9 L456.4 817.0 L457.7 818.1 L458.9 819.2 L460.2 820.3 L461.5 821.3 L462.8 822.4 L464.1 823.4 L465.4 824.4 L466.7 825.4 L467.9 826.3 L469.2 827.3 L470.5 828.2 L471.8 829.1 L473.1 830.0 L474.4 830.8 L475.7 831.7 L476.9 832.5 L478.2 833.3 L479.5 834.1 L480.8 834.8 L482.1 835.6 L483.4 836.3 L484.7 837.0 L485.9 837.7 L487.2 838.3 L488.5 839.0 L489.8 839.6 L491.1 840.1 L492.4 840.7 L493.7 841.3 L494.9 841.8 L496.2 842.3 L497.5 842.7 L498.8 843.2 L500.1 843.6 L501.4 844.0 L502.7 844.4 L503.9 844.8 L505.2 845.1 L506.5 845.4 L507.8 845.7 L509.1 845.9 L510.4 846.2 L511.7 846.4 L512.9 846.6 L514.2 846.8 L515.5 846.9 L516.8 847.0 L518.1 847.1 L519.4 847.2 L520.7 847.2 L521.9 847.2 L523.2 847.2 L524.5 847.2 L525.8 847.2 L527.1 847.1 L528.4 847.0 L529.7 846.9 L530.9 846.7 L532.2 846.5 L533.5 846.3 L534.8 846.1 L536.1 845.9 L537.4 845.6 L538.7 845.3 L539.9 845.0 L541.2 844.6 L542.5 844.3 L543.8 843.9 L545.1 843.5 L546.4 843.0 L547.7 842.6 L548.9 842.1 L550.2 841.6 L551.5 841.1 L552.8 840.5 L554.1 840.0 L555.4 839.4 L556.7 838.7 L557.9 838.1 L559.2 837.4 L560.5 836.8 L561.8 836.1 L563.1 835.3 L564.4 834.6 L565.7 833.8 L566.9 833.0 L568.2 832.2 L569.5 831.4 L570.8 830.5 L572.1 829.7 L573.4 828.8 L574.7 827.9 L575.9 827.0 L577.2 826.0 L578.5 825.0 L579.8 824.1 L581.1 823.1 L582.4 822.0 L583.7 821.0 L584.9 819.9 L586.2 818.9 L587.5 817.8 L588.8 816.7 L590.1 815.6 L591.4 814.4 L592.7 813.3 L593.9 812.1 L595.2 810.9 L596.5 809.7 L597.8 808.5 L599.1 807.3 L600.4 806.0 L601.7 804.8 L602.9 803.5 L604.2 802.2 L605.5 800.9 L606.8 799.6 L608.1 798.3 L609.4 797.0 L610.7 795.6 L611.9 794.3 L613.2 792.9 L614.5 791.5 L615.8 790.2 L617.1 788.8 L618.4 787.4 L619.7 786.0 L620.9 784.5 L622.2 783.1 L623.5 781.7 L624.8 780.2 L626.1 778.8 L627.4 777.3 L628.7 775.9 L629.9 774.4 L631.2 772.9 L632.5 771.5 L633.8 770.0 L635.1 768.5 L636.4 767.0 L637.7 765.5 L638.9 764.0 L640.2 762.5 L641.5 761.0 L642.8 759.5 L644.1 758.0 L645.4 756.5 L646.7 755.0 L647.9 753.5 L649.2 752.0 L650.5 750.5 L651.8 749.0 L653.1 747.5 L654.4 746.0 L655.7 744.5 L656.9 743.0 L658.2 741.5 L659.5 740.0 L660.8 738.5 L662.1 737.0 L663.4 735.5 L664.7 734.0 L665.9 732.6 L667.2 731.1 L668.5 729.6 L669.8 728.2 L671.1 726.7 L672.4 725.3 L673.7 723.9 L674.9 722.4 L676.2 721.0 L677.5 719.6 L678.8 718.2 L680.1 716.8 L681.4 715.4 L682.7 714.0 L683.9 712.7 L685.2 711.3 L686.5 710.0 L687.8 708.6 L689.1 707.3 L690.4 706.0 L691.7 704.7 L692.9 703.4 L694.2 702.2 L695.5 700.9 L696.8 699.7 L698.1 698.4 L699.4 697.2 L700.7 696.0 L701.9 694.8 L703.2 693.7 L704.5 692.5 L705.8 691.4 L707.1 690.2 L708.4 689.1 L709.7 688.0 L710.9 687.0 L712.2 685.9 L713.5 684.9 L714.8 683.8 L716.1 682.8 L717.4 681.8 L718.7 680.9 L719.9 679.9 L721.2 679.0 L722.5 678.1 L723.8 677.2 L725.1 676.3 L726.4 675.5 L727.7 674.6 L728.9 673.8 L730.2 673.0 L731.5 672.2 L732.8 671.5 L734.1 670.8 L735.4 670.1 L736.7 669.4 L737.9 668.7 L739.2 668.1 L740.5 667.4 L741.8 666.8 L743.1 666.3 L744.4 665.7 L745.7 665.2 L746.9 664.7 L748.2 664.2 L749.5 663.7 L750.8 663.3 L752.1 662.9 L753.4 662.5 L754.7 662.1 L755.9 661.7 L757.2 661.4 L758.5 661.1 L759.8 660.8 L761.1 660.5 L762.4 660.2 L763.7 660.0 L764.9 659.8 L766.2 659.6 L767.5 659.5 L768.8 659.3 L770.1 659.2 L771.4 659.1 L772.7 659.1 L773.9 659.0 L775.2 659.0 L776.5 659.0 L777.8 659.0 L779.1 659.1 L780.4 659.2 L781.7 659.3 L782.9 659.4 L784.2 659.5 L785.5 659.7 L786.8 659.9 L788.1 660.1 L789.4 660.4 L790.7 660.7 L791.9 660.9 L793.2 661.3 L794.5 661.6 L795.8 662.0 L797.1 662.4 L798.4 662.8 L799.7 663.2 L800.9 663.7 L802.2 664.2 L803.5 664.7 L804.8 665.2 L806.1 665.8 L807.4 666.3 L808.7 666.9 L809.9 667.5 L811.2 668.2 L812.5 668.8 L813.8 669.5 L815.1 670.2 L816.4 670.9 L817.7 671.6 L818.9 672.4 L820.2 673.2 L821.5 674.0 L822.8 674.8 L824.1 675.7 L825.4 676.6 L826.7 677.5 L827.9 678.4 L829.2 679.3 L830.5 680.3 L831.8 681.3 L833.1 682.3 L834.4 683.4 L835.7 684.4 L836.9 685.5 L838.2 686.6 L839.5 687.8 L840.8 688.9 L842.1 690.1 L843.4 691.3 L844.6 692.5 L845.9 693.8 L847.2 695.1 L848.5 696.3 L849.8 697.6 L851.1 699.0 L852.4 700.3 L853.6 701.6 L854.9 703.0 L856.2 704.4 L857.5 705.8 L858.8 707.2 L860.1 708.6 L861.4 710.1 L862.6 711.5 L863.9 713.0 L865.2 714.4 L866.5 715.9 L867.8 717.5 L869.1 719.0 L870.4 720.6 L871.6 722.2 L872.9 723.8 L874.2 725.4 L875.5 727.0 L876.8 728.6 L878.1 730.2 L879.4 731.9 L880.6 733.5 L881.9 735.2 L883.2 736.8 L884.5 738.5 L885.8 740.1 L887.1 741.8 L888.4 743.4 L889.6 745.1 L890.9 746.8 L892.2 748.4 L893.5 750.1 L894.8 751.8 L896.1 753.5 L897.4 755.1 L898.6 756.8 L899.9 758.5 L901.2 760.2 L902.5 761.9 L903.8 763.5 L905.1 765.2 L906.4 766.9 L907.6 768.6 L908.9 770.3 L910.2 771.9 L911.5 773.6 L912.8 775.3 L914.1 777.0 L915.4 778.6 L916.6 780.3 L917.9 781.9 L919.2 783.6 L920.5 785.2 L921.8 786.8 L923.1 788.4 L924.4 790.1 L925.6 791.7 L926.9 793.2 L928.2 794.8 L929.5 796.4 L930.8 798.0 L932.1 799.5 L933.4 801.0 L934.6 802.5 L935.9 804.1 L937.2 805.5 L938.5 807.0 L939.8 808.5 L941.1 809.9 L942.4 811.4 L943.6 812.8 L944.9 814.2 L946.2 815.6 L947.5 817.0 L948.8 818.3 L950.1 819.7 L951.4 821.0 L952.6 822.3 L953.9 823.6 L955.2 824.9 L956.5 826.1 L957.8 827.4 L959.1 828.6 L960.4 829.8 L961.6 831.0 L962.9 832.2 L964.2 833.3 L965.5 834.5 L966.8 835.6 L968.1 836.7 L969.4 837.7 L970.6 838.8 L971.9 839.8 L973.2 840.9 L974.5 841.9 L975.8 842.8 L977.1 843.8 L978.4 844.7 L979.6 845.7 L980.9 846.5 L982.2 847.4 L983.5 848.3 L984.8 849.1 L986.1 849.9 L987.4 850.7 L988.6 851.5 L989.9 852.2 L991.2 852.9 L992.5 853.6 L993.8 854.2 L995.1 854.9 L996.4 855.5 L997.6 856.1 L998.9 856.6 L1000.2 857.1 L1001.5 857.6 L1002.8 858.1 L1004.1 858.5 L1005.4 859.0 L1006.6 859.4 L1007.9 859.8 L1009.2 860.1 L1010.5 860.4 L1011.8 860.7 L1013.1 861.0 L1014.4 861.3 L1015.6 861.5 L1016.9 861.7 L1018.2 861.8 L1019.5 861.9 L1020.8 862.0 L1022.1 862.1 L1023.4 862.1 L1024.6 862.1 L1025.9 862.1 L1027.2 862.0 L1028.5 861.9 L1029.8 861.8 L1031.1 861.6 L1032.4 861.4 L1033.6 861.2 L1034.9 860.9 L1036.2 860.6 L1037.5 860.3 L1038.8 859.9 L1040.1 859.5 L1041.4 859.1 L1042.6 858.6 L1043.9 858.1 L1045.2 857.6 L1046.5 857.1 L1047.8 856.5 L1049.1 855.9 L1050.4 855.3 L1051.6 854.6 L1052.9 853.9 L1054.2 853.2 L1055.5 852.5 L1056.8 851.7 L1058.1 850.9 L1059.4 850.1 L1060.6 849.3 L1061.9 848.4 L1063.2 847.6 L1064.5 846.7 L1065.8 845.7 L1067.1 844.8 L1068.4 843.8 L1069.6 842.9 L1070.9 841.8 L1072.2 840.8 L1073.5 839.8 L1074.8 838.7 L1076.1 837.6 L1077.4 836.5 L1078.6 835.4 L1079.9 834.2 L1081.2 833.1 L1082.5 831.9 L1083.8 830.6 L1085.1 829.4 L1086.4 828.1 L1087.6 826.8 L1088.9 825.5 L1090.2 824.2 L1091.5 822.8 L1092.8 821.4 L1094.1 820.0 L1095.4 818.6 L1096.6 817.2 L1097.9 815.7 L1099.2 814.2 L1100.5 812.7 L1101.8 811.2 L1103.1 809.7 L1104.4 808.1 L1105.6 806.6 L1106.9 805.0 L1108.2 803.3 L1109.5 801.7 L1110.8 800.1 L1112.1 798.4 L1113.4 796.7 L1114.6 795.0 L1115.9 793.3 L1117.2 791.6 L1118.5 789.8 L1119.8 788.1 L1121.1 786.3 L1122.4 784.5 L1123.6 782.7 L1124.9 780.8 L1126.2 778.8 L1127.5 776.9 L1128.8 774.9 L1130.1 772.8 L1131.4 770.8 L1132.6 768.7 L1133.9 766.6 L1135.2 764.5 L1136.5 762.4 L1137.8 760.2 L1139.1 758.1 L1140.4 756.0 L1141.6 753.9 L1142.9 751.8 L1144.2 749.7 L1145.5 747.7 L1146.8 745.7 L1148.1 743.7 L1149.4 741.7 L1150.6 739.8 L1151.9 737.9 L1153.2 735.9 L1154.5 734.0 L1155.8 732.1 L1157.1 730.2 L1158.4 728.3 L1159.6 726.4 L1160.9 724.5 L1162.2 722.6 L1163.5 720.7 L1164.8 718.9 L1166.1 717.0 L1167.4 715.2 L1168.6 713.3 L1169.9 711.5 L1171.2 709.7 L1172.5 707.9 L1173.8 706.1 L1175.1 704.3 L1176.4 702.6 L1177.6 700.8 L1178.9 699.1 L1180.2 697.4 L1181.5 695.7 L1182.8 694.0 L1184.1 692.3 L1185.4 690.7 L1186.6 689.0 L1187.9 687.4 L1189.2 685.8 L1190.5 684.2 L1191.8 682.7 L1193.1 681.2 L1194.4 679.7 L1195.6 678.2 L1196.9 676.7 L1198.2 675.3 L1199.5 673.9 L1200.8 672.5 L1202.1 671.1 L1203.4 669.7 L1204.6 668.4 L1205.9 667.1 L1207.2 665.8 L1208.5 664.5 L1209.8 663.3 L1211.1 662.0 L1212.4 660.8 L1213.6 659.6 L1214.9 658.5 L1216.2 657.3 L1217.5 656.2 L1218.8 655.1 L1220.1 654.0 L1221.4 652.9 L1222.6 651.9 L1223.9 650.9 L1225.2 649.9 L1226.5 648.9 L1227.8 647.9 L1229.1 647.0 L1230.4 646.1 L1231.6 645.2 L1232.9 644.3 L1234.2 643.4 L1235.5 642.6 L1236.8 641.8 L1238.1 641.0 L1239.4 640.3 L1240.6 639.5 L1241.9 638.8 L1243.2 638.1 L1244.5 637.4 L1245.8 636.8 L1247.1 636.1 L1248.4 635.5 L1249.6 634.9 L1250.9 634.4 L1252.2 633.8 L1253.5 633.3 L1254.8 632.9 L1256.1 632.4 L1257.4 632.0 L1258.6 631.6 L1259.9 631.2 L1261.2 630.8 L1262.5 630.5 L1263.8 630.2 L1265.1 629.9 L1266.4 629.6 L1267.6 629.4 L1268.9 629.2 L1270.2 629.0 L1271.5 628.8 L1272.8 628.6 L1274.1 628.5 L1275.4 628.3 L1276.6 628.2 L1277.9 628.1 L1279.2 627.9 L1280.5 627.8 L1281.8 627.8 L1283.1 627.7 L1284.4 627.6 L1285.6 627.6 L1286.9 627.6 L1288.2 627.6 L1289.5 627.6 L1290.8 627.7 L1292.1 627.8 L1293.4 627.8 L1294.6 627.9 L1295.9 628.0 L1297.2 628.2 L1298.5 628.3 L1299.8 628.5" stroke="#ff0000" stroke-dasharray="13.6 3.4 6.8 3.4"/>
<path d="M143.9 624.5 L145.2 624.4 L146.5 624.4 L147.8 624.4 L149.1 624.5 L150.4 624.5 L151.7 624.6 L152.9 624.8 L154.2 625.0 L155.5 625.2 L156.8 625.4 L158.1 625.7 L159.4 626.0 L160.7 626.3 L161.9 626.7 L163.2 627.1 L164.5 627.5 L165.8 628.0 L167.1 628.5 L168.4 629.0 L169.7 629.5 L170.9 630.1 L172.2 630.7 L173.5 631.4 L174.8 632.1 L176.1 632.8 L177.4 633.5 L178.7 634.3 L179.9 635.1 L181.2 635.9 L182.5 636.7 L183.8 637.6 L185.1 638.5 L186.4 639.5 L187.7 640.5 L188.9 641.5 L190.2 642.5 L191.5 643.5 L192.8 644.6 L194.1 645.7 L195.4 646.9 L196.7 648.0 L197.9 649.2 L199.2 650.4 L200.5 651.7 L201.8 652.9 L203.1 654.2 L204.4 655.5 L205.7 656.9 L206.9 658.2 L208.2 659.6 L209.5 661.0 L210.8 662.4 L212.1 663.9 L213.4 665.4 L214.7 666.8 L215.9 668.4 L217.2 669.9 L218.5 671.4 L219.8 673.0 L221.1 674.6 L222.4 676.2 L223.7 677.9 L224.9 679.5 L226.2 681.2 L227.5 682.9 L228.8 684.6 L230.1 686.3 L231.4 688.1 L232.7 689.8 L233.9 691.6 L235.2 693.4 L236.5 695.2 L237.8 697.0 L239.1 698.8 L240.4 700.7 L241.7 702.5 L242.9 704.4 L244.2 706.3 L245.5 708.2 L246.8 710.1 L248.1 712.0 L249.4 713.9 L250.7 715.9 L251.9 717.8 L253.2 719.8 L254.5 721.8 L255.8 723.7 L257.1 725.7 L258.4 727.7 L259.7 729.7 L260.9 731.7 L262.2 733.7 L263.5 735.7 L264.8 737.7 L266.1 739.7 L267.4 741.7 L268.7 743.8 L269.9 745.8 L271.2 747.8 L272.5 749.8 L273.8 751.9 L275.1 753.9 L276.4 755.9 L277.7 757.9 L278.9 760.0 L280.2 762.0 L281.5 764.0 L282.8 766.0 L284.1 768.0 L285.4 770.0 L286.7 772.0 L287.9 774.0 L289.2 776.0 L290.5 778.0 L291.8 779.9 L293.1 781.9 L294.4 783.8 L295.7 785.8 L296.9 787.7 L298.2 789.6 L299.5 791.6 L300.8 793.5 L302.1 795.4 L303.4 797.3 L304.7 799.2 L305.9 801.0 L307.2 802.9 L308.5 804.7 L309.8 806.6 L311.1 808.4 L312.4 810.2 L313.7 812.0 L314.9 813.8 L316.2 815.6 L317.5 817.3 L318.8 819.1 L320.1 820.8 L321.4 822.5 L322.7 824.2 L323.9 825.8 L325.2 827.5 L326.5 829.1 L327.8 830.7 L329.1 832.3 L330.4 833.9 L331.7 835.4 L332.9 836.9 L334.2 838.4 L335.5 839.9 L336.8 841.3 L338.1 842.7 L339.4 844.1 L340.7 845.5 L341.9 846.8 L343.2 848.2 L344.5 849.5 L345.8 850.7 L347.1 851.9 L348.4 853.2 L349.7 854.3 L350.9 855.5 L352.2 856.6 L353.5 857.7 L354.8 858.8 L356.1 859.8 L357.4 860.8 L358.7 861.8 L359.9 862.8 L361.2 863.7 L362.5 864.6 L363.8 865.4 L365.1 866.3 L366.4 867.1 L367.7 867.9 L368.9 868.6 L370.2 869.3 L371.5 870.0 L372.8 870.7 L374.1 871.3 L375.4 871.9 L376.7 872.4 L377.9 873.0 L379.2 873.4 L380.5 873.9 L381.8 874.3 L383.1 874.7 L384.4 875.1 L385.7 875.4 L386.9 875.8 L388.2 876.0 L389.5 876.3 L390.8 876.5 L392.1 876.7 L393.4 876.8 L394.7 876.9 L395.9 877.0 L397.2 877.0 L398.5 877.1 L399.8 877.0 L401.1 877.0 L402.4 876.9 L403.7 876.8 L404.9 876.7 L406.2 876.5 L407.5 876.3 L408.8 876.0 L410.1 875.8 L411.4 875.5 L412.7 875.1 L413.9 874.8 L415.2 874.4 L416.5 873.9 L417.8 873.5 L419.1 873.0 L420.4 872.4 L421.7 871.9 L422.9 871.3 L424.2 870.7 L425.5 870.0 L426.8 869.4 L428.1 868.6 L429.4 867.9 L430.7 867.1 L431.9 866.3 L433.2 865.5 L434.5 864.6 L435.8 863.8 L437.1 862.8 L438.4 861.9 L439.7 860.9 L440.9 859.9 L442.2 858.9 L443.5 857.8 L444.8 856.7 L446.1 855.6 L447.4 854.5 L448.7 853.3 L449.9 852.1 L451.2 850.9 L452.5 849.6 L453.8 848.4 L455.1 847.1 L456.4 845.7 L457.7 844.4 L458.9 843.0 L460.2 841.6 L461.5 840.2 L462.8 838.8 L464.1 837.3 L465.4 835.8 L466.7 834.3 L467.9 832.8 L469.2 831.3 L470.5 829.7 L471.8 828.1 L473.1 826.5 L474.4 824.9 L475.7 823.2 L476.9 821.6 L478.2 819.9 L479.5 818.2 L480.8 816.5 L482.1 814.8 L483.4 813.0 L484.7 811.3 L485.9 809.5 L487.2 807.7 L488.5 805.9 L489.8 804.1 L491.1 802.3 L492.4 800.4 L493.7 798.6 L494.9 796.7 L496.2 794.8 L497.5 792.9 L498.8 791.1 L500.1 789.1 L501.4 787.2 L502.7 785.3 L503.9 783.4 L505.2 781.5 L506.5 779.5 L507.8 777.6 L509.1 775.6 L510.4 773.6 L511.7 771.7 L512.9 769.7 L514.2 767.7 L515.5 765.8 L516.8 763.8 L518.1 761.8 L519.4 759.8 L520.7 757.8 L521.9 755.9 L523.2 753.9 L524.5 751.9 L525.8 749.9 L527.1 747.9 L528.4 745.9 L529.7 744.0 L530.9 742.0 L532.2 740.0 L533.5 738.0 L534.8 736.1 L536.1 734.1 L537.4 732.2 L538.7 730.2 L539.9 728.3 L541.2 726.4 L542.5 724.4 L543.8 722.5 L545.1 720.6 L546.4 718.7 L547.7 716.8 L548.9 714.9 L550.2 713.1 L551.5 711.2 L552.8 709.4 L554.1 707.5 L555.4 705.7 L556.7 703.9 L557.9 702.1 L559.2 700.3 L560.5 698.5 L561.8 696.8 L563.1 695.1 L564.4 693.3 L565.7 691.6 L566.9 689.9 L568.2 688.3 L569.5 686.6 L570.8 685.0 L572.1 683.4 L573.4 681.8 L574.7 680.2 L575.9 678.6 L577.2 677.1 L578.5 675.6 L579.8 674.1 L581.1 672.6 L582.4 671.1 L583.7 669.7 L584.9 668.3 L586.2 666.9 L587.5 665.6 L588.8 664.2 L590.1 662.9 L591.4 661.6 L592.7 660.3 L593.9 659.1 L595.2 657.9 L596.5 656.7 L597.8 655.5 L599.1 654.4 L600.4 653.3 L601.7 652.2 L602.9 651.1 L604.2 650.1 L605.5 649.1 L606.8 648.1 L608.1 647.2 L609.4 646.3 L610.7 645.4 L611.9 644.6 L613.2 643.7 L614.5 642.9 L615.8 642.2 L617.1 641.4 L618.4 640.7 L619.7 640.1 L620.9 639.4 L622.2 638.8 L623.5 638.2 L624.8 637.7 L626.1 637.1 L627.4 636.6 L628.7 636.2 L629.9 635.7 L631.2 635.3 L632.5 635.0 L633.8 634.6 L635.1 634.3 L636.4 634.0 L637.7 633.8 L638.9 633.6 L640.2 633.4 L641.5 633.2 L642.8 633.1 L644.1 633.0 L645.4 632.9 L646.7 632.9 L647.9 632.9 L649.2 632.9 L650.5 632.9 L651.8 633.0 L653.1 633.1 L654.4 633.2 L655.7 633.4 L656.9 633.6 L658.2 633.8 L659.5 634.1 L660.8 634.4 L662.1 634.7 L663.4 635.0 L664.7 635.4 L665.9 635.8 L667.2 636.2 L668.5 636.7 L669.8 637.2 L671.1 637.7 L672.4 638.2 L673.7 638.8 L674.9 639.4 L676.2 640.1 L677.5 640.7 L678.8 641.4 L680.1 642.2 L681.4 642.9 L682.7 643.7 L683.9 644.5 L685.2 645.4 L686.5 646.2 L687.8 647.1 L689.1 648.1 L690.4 649.0 L691.7 650.0 L692.9 651.0 L694.2 652.1 L695.5 653.1 L696.8 654.2 L698.1 655.3 L699.4 656.5 L700.7 657.7 L701.9 658.9 L703.2 660.1 L704.5 661.3 L705.8 662.6 L707.1 663.9 L708.4 665.2 L709.7 666.5 L710.9 667.8 L712.2 669.2 L713.5 670.6 L714.8 672.0 L716.1 673.5 L717.4 674.9 L718.7 676.4 L719.9 677.9 L721.2 679.4 L722.5 680.9 L723.8 682.5 L725.1 684.1 L726.4 685.7 L727.7 687.3 L728.9 688.9 L730.2 690.5 L731.5 692.2 L732.8 693.9 L734.1 695.6 L735.4 697.3 L736.7 699.0 L737.9 700.8 L739.2 702.6 L740.5 704.3 L741.8 706.1 L743.1 708.0 L744.4 709.8 L745.7 711.6 L746.9 713.5 L748.2 715.3 L749.5 717.2 L750.8 719.1 L752.1 721.0 L753.4 722.9 L754.7 724.8 L755.9 726.8 L757.2 728.7 L758.5 730.6 L759.8 732.6 L761.1 734.5 L762.4 736.5 L763.7 738.4 L764.9 740.4 L766.2 742.4 L767.5 744.3 L768.8 746.3 L770.1 748.3 L771.4 750.3 L772.7 752.3 L773.9 754.2 L775.2 756.2 L776.5 758.2 L777.8 760.2 L779.1 762.2 L780.4 764.1 L781.7 766.1 L782.9 768.1 L784.2 770.1 L785.5 772.0 L786.8 774.0 L788.1 776.0 L789.4 777.9 L790.7 779.9 L791.9 781.8 L793.2 783.8 L794.5 785.7 L795.8 787.6 L797.1 789.6 L798.4 791.5 L799.7 793.4 L800.9 795.3 L802.2 797.2 L803.5 799.1 L804.8 800.9 L806.1 802.8 L807.4 804.6 L808.7 806.5 L809.9 808.3 L811.2 810.1 L812.5 811.9 L813.8 813.7 L815.1 815.4 L816.4 817.2 L817.7 818.9 L818.9 820.6 L820.2 822.3 L821.5 824.0 L822.8 825.7 L824.1 827.3 L825.4 829.0 L826.7 830.6 L827.9 832.2 L829.2 833.7 L830.5 835.3 L831.8 836.8 L833.1 838.3 L834.4 839.8 L835.7 841.3 L836.9 842.8 L838.2 844.3 L839.5 845.7 L840.8 847.1 L842.1 848.5 L843.4 849.9 L844.6 851.3 L845.9 852.7 L847.2 854.0 L848.5 855.3 L849.8 856.6 L851.1 857.9 L852.4 859.1 L853.6 860.3 L854.9 861.5 L856.2 862.7 L857.5 863.8 L858.8 864.9 L860.1 866.0 L861.4 867.0 L862.6 868.0 L863.9 869.0 L865.2 870.0 L866.5 870.9 L867.8 871.8 L869.1 872.6 L870.4 873.5 L871.6 874.3 L872.9 875.1 L874.2 875.9 L875.5 876.6 L876.8 877.3 L878.1 877.9 L879.4 878.6 L880.6 879.2 L881.9 879.8 L883.2 880.3 L884.5 880.8 L885.8 881.3 L887.1 881.7 L888.4 882.1 L889.6 882.5 L890.9 882.8 L892.2 883.1 L893.5 883.3 L894.8 883.6 L896.1 883.7 L897.4 883.9 L898.6 884.0 L899.9 884.1 L901.2 884.1 L902.5 884.1 L903.8 884.1 L905.1 884.0 L906.4 883.9 L907.6 883.8 L908.9 883.6 L910.2 883.5 L911.5 883.2 L912.8 883.0 L914.1 882.7 L915.4 882.4 L916.6 882.0 L917.9 881.6 L919.2 881.2 L920.5 880.8 L921.8 880.3 L923.1 879.8 L924.4 879.2 L925.6 878.6 L926.9 878.0 L928.2 877.4 L929.5 876.7 L930.8 876.0 L932.1 875.2 L933.4 874.4 L934.6 873.6 L935.9 872.8 L937.2 871.9 L938.5 871.0 L939.8 870.0 L941.1 869.1 L942.4 868.1 L943.6 867.0 L944.9 865.9 L946.2 864.8 L947.5 863.7 L948.8 862.5 L950.1 861.3 L951.4 860.1 L952.6 858.9 L953.9 857.6 L955.2 856.3 L956.5 855.0 L957.8 853.6 L959.1 852.3 L960.4 850.9 L961.6 849.4 L962.9 848.0 L964.2 846.5 L965.5 845.1 L966.8 843.6 L968.1 842.0 L969.4 840.5 L970.6 838.9 L971.9 837.3 L973.2 835.7 L974.5 834.1 L975.8 832.4 L977.1 830.8 L978.4 829.1 L979.6 827.4 L980.9 825.7 L982.2 823.9 L983.5 822.2 L984.8 820.4 L986.1 818.6 L987.4 816.8 L988.6 815.0 L989.9 813.2 L991.2 811.4 L992.5 809.5 L993.8 807.7 L995.1 805.8 L996.4 803.9 L997.6 802.0 L998.9 800.1 L1000.2 798.2 L1001.5 796.2 L1002.8 794.3 L1004.1 792.4 L1005.4 790.4 L1006.6 788.4 L1007.9 786.5 L1009.2 784.5 L1010.5 782.5 L1011.8 780.5 L1013.1 778.5 L1014.4 776.5 L1015.6 774.5 L1016.9 772.5 L1018.2 770.4 L1019.5 768.4 L1020.8 766.4 L1022.1 764.4 L1023.4 762.3 L1024.6 760.3 L1025.9 758.3 L1027.2 756.2 L1028.5 754.2 L1029.8 752.1 L1031.1 750.1 L1032.4 748.0 L1033.6 745.9 L1034.9 743.8 L1036.2 741.8 L1037.5 739.7 L1038.8 737.6 L1040.1 735.5 L1041.4 733.5 L1042.6 731.4 L1043.9 729.3 L1045.2 727.3 L1046.5 725.2 L1047.8 723.2 L1049.1 721.1 L1050.4 719.1 L1051.6 717.0 L1052.9 715.0 L1054.2 713.0 L1055.5 711.0 L1056.8 709.0 L1058.1 707.0 L1059.4 705.1 L1060.6 703.1 L1061.9 701.2 L1063.2 699.3 L1064.5 697.4 L1065.8 695.5 L1067.1 693.6 L1068.4 691.7 L1069.6 689.9 L1070.9 688.1 L1072.2 686.2 L1073.5 684.4 L1074.8 682.6 L1076.1 680.8 L1077.4 679.1 L1078.6 677.3 L1079.9 675.6 L1081.2 673.9 L1082.5 672.2 L1083.8 670.5 L1085.1 668.8 L1086.4 667.2 L1087.6 665.5 L1088.9 663.9 L1090.2 662.3 L1091.5 660.7 L1092.8 659.2 L1094.1 657.6 L1095.4 656.1 L1096.6 654.5 L1097.9 653.0 L1099.2 651.5 L1100.5 650.0 L1101.8 648.5 L1103.1 647.0 L1104.4 645.5 L1105.6 644.1 L1106.9 642.7 L1108.2 641.2 L1109.5 639.9 L1110.8 638.5 L1112.1 637.2 L1113.4 635.8 L1114.6 634.6 L1115.9 633.3 L1117.2 632.1 L1118.5 630.9 L1119.8 629.7 L1121.1 628.6 L1122.4 627.5 L1123.6 626.5 L1124.9 625.5 L1126.2 624.6 L1127.5 623.6 L1128.8 622.7 L1130.1 621.8 L1131.4 621.0 L1132.6 620.2 L1133.9 619.4 L1135.2 618.6 L1136.5 617.9 L1137.8 617.2 L1139.1 616.6 L1140.4 616.0 L1141.6 615.4 L1142.9 614.8 L1144.2 614.3 L1145.5 613.9 L1146.8 613.4 L1148.1 613.1 L1149.4 612.7 L1150.6 612.4 L1151.9 612.1 L1153.2 611.9 L1154.5 611.7 L1155.8 611.6 L1157.1 611.5 L1158.4 611.4 L1159.6 611.4 L1160.9 611.4 L1162.2 611.4 L1163.5 611.5 L1164.8 611.6 L1166.1 611.7 L1167.4 611.9 L1168.6 612.1 L1169.9 612.3 L1171.2 612.6 L1172.5 612.9 L1173.8 613.2 L1175.1 613.6 L1176.4 614.0 L1177.6 614.5 L1178.9 614.9 L1180.2 615.4 L1181.5 616.0 L1182.8 616.6 L1184.1 617.2 L1185.4 617.8 L1186.6 618.5 L1187.9 619.2 L1189.2 619.9 L1190.5 620.7 L1191.8 621.5 L1193.1 622.3 L1194.4 623.2 L1195.6 624.1 L1196.9 625.0 L1198.2 625.9 L1199.5 626.9 L1200.8 627.9 L1202.1 629.0 L1203.4 630.0 L1204.6 631.1 L1205.9 632.2 L1207.2 633.4 L1208.5 634.5 L1209.8 635.7 L1211.1 636.9 L1212.4 638.2 L1213.6 639.4 L1214.9 640.7 L1216.2 642.1 L1217.5 643.4 L1218.8 644.7 L1220.1 646.1 L1221.4 647.5 L1222.6 649.0 L1223.9 650.4 L1225.2 651.9 L1226.5 653.4 L1227.8 654.9 L1229.1 656.4 L1230.4 658.0 L1231.6 659.5 L1232.9 661.1 L1234.2 662.7 L1235.5 664.4 L1236.8 666.0 L1238.1 667.7 L1239.4 669.4 L1240.6 671.1 L1241.9 672.8 L1243.2 674.5 L1244.5 676.2 L1245.8 678.0 L1247.1 679.8 L1248.4 681.6 L1249.6 683.4 L1250.9 685.2 L1252.2 687.0 L1253.5 688.8 L1254.8 690.7 L1256.1 692.5 L1257.4 694.4 L1258.6 696.3 L1259.9 698.2 L1261.2 700.0 L1262.5 701.9 L1263.8 703.8 L1265.1 705.7 L1266.4 707.6 L1267.6 709.6 L1268.9 711.5 L1270.2 713.4 L1271.5 715.3 L1272.8 717.2 L1274.1 719.2 L1275.4 721.1 L1276.6 723.0 L1277.9 725.0 L1279.2 726.9 L1280.5 728.8 L1281.8 730.8 L1283.1 732.7 L1284.4 734.6 L1285.6 736.6 L1286.9 738.5 L1288.2 740.4 L1289.5 742.3 L1290.8 744.2 L1292.1 746.2 L1293.4 748.1 L1294.6 750.0 L1295.9 751.9 L1297.2 753.8 L1298.5 755.6 L1299.8 757.5" stroke="#0000ff" stroke-dasharray="13.6 3.4 6.8 3.4"/>
<path d="M143.9 756.6 L145.2 754.9 L146.5 753.3 L147.8 751.7 L149.1 750.0 L150.4 748.4 L151.7 746.8 L152.9 745.2 L154.2 743.6 L155.5 741.9 L156.8 740.3 L158.1 738.7 L159.4 737.1 L160.7 735.5 L161.9 734.0 L163.2 732.4 L164.5 730.8 L165.8 729.3 L167.1 727.7 L168.4 726.2 L169.7 724.7 L170.9 723.2 L172.2 721.7 L173.5 720.2 L174.8 718.8 L176.1 717.3 L177.4 715.8 L178.7 714.4 L179.9 713.0 L181.2 711.5 L182.5 710.1 L183.8 708.7 L185.1 707.3 L186.4 705.9 L187.7 704.6 L188.9 703.2 L190.2 701.9 L191.5 700.6 L192.8 699.3 L194.1 698.0 L195.4 696.7 L196.7 695.4 L197.9 694.2 L199.2 692.9 L200.5 691.7 L201.8 690.5 L203.1 689.3 L204.4 688.2 L205.7 687.0 L206.9 685.9 L208.2 684.8 L209.5 683.7 L210.8 682.6 L212.1 681.5 L213.4 680.3 L214.7 678.9 L215.9 677.5 L217.2 676.0 L218.5 674.5 L219.8 673.1 L221.1 671.9 L222.4 670.8 L223.7 669.6 L224.9 668.6 L226.2 667.5 L227.5 666.5 L228.8 665.5 L230.1 664.6 L231.4 663.7 L232.7 662.8 L233.9 662.0 L235.2 661.3 L236.5 660.6 L237.8 660.0 L239.1 659.4 L240.4 658.8 L241.7 658.2 L242.9 657.7 L244.2 657.2 L245.5 656.7 L246.8 656.2 L248.1 655.7 L249.4 655.3 L250.7 654.9 L251.9 654.5 L253.2 654.2 L254.5 653.9 L255.8 653.5 L257.1 653.3 L258.4 653.0 L259.7 652.8 L260.9 652.5 L262.2 652.4 L263.5 652.2 L264.8 652.1 L266.1 652.1 L267.4 652.0 L268.7 652.1 L269.9 652.1 L271.2 652.2 L272.5 652.3 L273.8 652.5 L275.1 652.7 L276.4 652.9 L277.7 653.1 L278.9 653.4 L280.2 653.7 L281.5 654.0 L282.8 654.4 L284.1 654.7 L285.4 655.1 L286.7 655.5 L287.9 655.9 L289.2 656.4 L290.5 656.9 L291.8 657.4 L293.1 657.9 L294.4 658.4 L295.7 659.0 L296.9 659.6 L298.2 660.2 L299.5 660.9 L300.8 661.6 L302.1 662.2 L303.4 663.0 L304.7 663.7 L305.9 664.4 L307.2 665.2 L308.5 666.0 L309.8 666.8 L311.1 667.6 L312.4 668.4 L313.7 669.3 L314.9 670.1 L316.2 671.0 L317.5 672.0 L318.8 672.9 L320.1 673.8 L321.4 674.8 L322.7 675.8 L323.9 676.8 L325.2 677.8 L326.5 678.8 L327.8 679.9 L329.1 681.0 L330.4 682.0 L331.7 683.1 L332.9 684.2 L334.2 685.4 L335.5 686.5 L336.8 687.6 L338.1 688.8 L339.4 689.9 L340.7 691.1 L341.9 692.3 L343.2 693.5 L344.5 694.8 L345.8 696.0 L347.1 697.3 L348.4 698.5 L349.7 699.8 L350.9 701.1 L352.2 702.4 L353.5 703.8 L354.8 705.1 L356.1 706.4 L357.4 707.8 L358.7 709.2 L359.9 710.6 L361.2 711.9 L362.5 713.3 L363.8 714.7 L365.1 716.2 L366.4 717.6 L367.7 719.0 L368.9 720.5 L370.2 721.9 L371.5 723.4 L372.8 724.8 L374.1 726.3 L375.4 727.8 L376.7 729.2 L377.9 730.7 L379.2 732.2 L380.5 733.7 L381.8 735.2 L383.1 736.7 L384.4 738.2 L385.7 739.7 L386.9 741.3 L388.2 742.8 L389.5 744.3 L390.8 745.8 L392.1 747.4 L393.4 748.9 L394.7 750.4 L395.9 751.9 L397.2 753.5 L398.5 755.0 L399.8 756.5 L401.1 758.1 L402.4 759.6 L403.7 761.1 L404.9 762.6 L406.2 764.1 L407.5 765.7 L408.8 767.2 L410.1 768.7 L411.4 770.2 L412.7 771.7 L413.9 773.2 L415.2 774.7 L416.5 776.1 L417.8 777.6 L419.1 779.1 L420.4 780.5 L421.7 782.0 L422.9 783.4 L424.2 784.9 L425.5 786.3 L426.8 787.7 L428.1 789.1 L429.4 790.5 L430.7 791.9 L431.9 793.3 L433.2 794.7 L434.5 796.0 L435.8 797.4 L437.1 798.7 L438.4 800.0 L439.7 801.3 L440.9 802.6 L442.2 803.9 L443.5 805.2 L444.8 806.4 L446.1 807.7 L447.4 808.9 L448.7 810.1 L449.9 811.3 L451.2 812.5 L452.5 813.6 L453.8 814.8 L455.1 815.9 L456.4 817.0 L457.7 818.1 L458.9 819.2 L460.2 820.3 L461.5 821.3 L462.8 822.4 L464.1 823.4 L465.4 824.4 L466.7 825.4 L467.9 826.3 L469.2 827.3 L470.5 828.2 L471.8 829.1 L473.1 830.0 L474.4 830.8 L475.7 831.7 L476.9 832.5 L478.2 833.3 L479.5 834.1 L480.8 834.8 L482.1 835.6 L483.4 836.3 L484.7 837.0 L485.9 837.7 L487.2 838.3 L488.5 839.0 L489.8 839.6 L491.1 840.1 L492.4 840.7 L493.7 841.3 L494.9 841.8 L496.2 842.3 L497.5 842.7 L498.8 843.2 L500.1 843.6 L501.4 844.0 L502.7 844.4 L503.9 844.8 L505.2 845.1 L506.5 845.4 L507.8 845.7 L509.1 845.9 L510.4 846.2 L511.7 846.4 L512.9 846.6 L514.2 846.8 L515.5 846.9 L516.8 847.0 L518.1 847.1 L519.4 847.2 L520.7 847.2 L521.9 847.2 L523.2 847.2 L524.5 847.2 L525.8 847.2 L527.1 847.1 L528.4 847.0 L529.7 846.9 L530.9 846.7 L532.2 846.5 L533.5 846.3 L534.8 846.1 L536.1 845.9 L537.4 845.6 L538.7 845.3 L539.9 845.0 L541.2 844.6 L542.5 844.3 L543.8 843.9 L545.1 843.5 L546.4 843.0 L547.7 842.6 L548.9 842.1 L550.2 841.6 L551.5 841.1 L552.8 840.5 L554.1 840.0 L555.4 839.4 L556.7 838.7 L557.9 838.1 L559.2 837.4 L560.5 836.8 L561.8 836.1 L563.1 835.3 L564.4 834.6 L565.7 833.8 L566.9 833.0 L568.2 832.2 L569.5 831.4 L570.8 830.5 L572.1 829.7 L573.4 828.8 L574.7 827.9 L575.9 827.0 L577.2 826.0 L578.5 825.0 L579.8 824.1 L581.1 823.1 L582.4 822.0 L583.7 821.0 L584.9 819.9 L586.2 818.9 L587.5 817.8 L588.8 816.7 L590.1 815.6 L591.4 814.4 L592.7 813.3 L593.9 812.1 L595.2 810.9 L596.5 809.7 L597.8 808.5 L599.1 807.3 L600.4 806.0 L601.7 804.8 L602.9 803.5 L604.2 802.2 L605.5 800.9 L606.8 799.6 L608.1 798.3 L609.4 797.0 L610.7 795.6 L611.9 794.3 L613.2 792.9 L614.5 791.5 L615.8 790.2 L617.1 788.8 L618.4 787.4 L619.7 786.0 L620.9 784.5 L622.2 783.1 L623.5 781.7 L624.8 780.2 L626.1 778.8 L627.4 777.3 L628.7 775.9 L629.9 774.4 L631.2 772.9 L632.5 771.5 L633.8 770.0 L635.1 768.5 L636.4 767.0 L637.7 765.5 L638.9 764.0 L640.2 762.5 L641.5 761.0 L642.8 759.5 L644.1 758.0 L645.4 756.5 L646.7 755.0 L647.9 753.5 L649.2 752.0 L650.5 750.5 L651.8 749.0 L653.1 747.5 L654.4 746.0 L655.7 744.5 L656.9 743.0 L658.2 741.5 L659.5 740.0 L660.8 738.5 L662.1 737.0 L663.4 735.5 L664.7 734.0 L665.9 732.6 L667.2 731.1 L668.5 729.6 L669.8 728.2 L671.1 726.7 L672.4 725.3 L673.7 723.9 L674.9 722.4 L676.2 721.0 L677.5 719.6 L678.8 718.2 L680.1 716.8 L681.4 715.4 L682.7 714.0 L683.9 712.7 L685.2 711.3 L686.5 710.0 L687.8 708.6 L689.1 707.3 L690.4 706.0 L691.7 704.7 L692.9 703.4 L694.2 702.2 L695.5 700.9 L696.8 699.7 L698.1 698.4 L699.4 697.2 L700.7 696.0 L701.9 694.8 L703.2 693.7 L704.5 692.5 L705.8 691.4 L707.1 690.2 L708.4 689.1 L709.7 688.0 L710.9 687.0 L712.2 685.9 L713.5 684.9 L714.8 683.8 L716.1 682.8 L717.4 681.8 L718.7 680.9 L719.9 679.9 L721.2 679.0 L722.5 678.1 L723.8 677.2 L725.1 676.3 L726.4 675.5 L727.7 674.6 L728.9 673.8 L730.2 673.0 L731.5 672.2 L732.8 671.5 L734.1 670.8 L735.4 670.1 L736.7 669.4 L737.9 668.7 L739.2 668.1 L740.5 667.4 L741.8 666.8 L743.1 666.3 L744.4 665.7 L745.7 665.2 L746.9 664.7 L748.2 664.2 L749.5 663.7 L750.8 663.3 L752.1 662.9 L753.4 662.5 L754.7 662.1 L755.9 661.7 L757.2 661.4 L758.5 661.1 L759.8 660.8 L761.1 660.5 L762.4 660.2 L763.7 660.0 L764.9 659.8 L766.2 659.6 L767.5 659.5 L768.8 659.3 L770.1 659.2 L771.4 659.1 L772.7 659.1 L773.9 659.0 L775.2 659.0 L776.5 659.0 L777.8 659.0 L779.1 659.1 L780.4 659.2 L781.7 659.3 L782.9 659.4 L784.2 659.5 L785.5 659.7 L786.8 659.9 L788.1 660.1 L789.4 660.4 L790.7 660.7 L791.9 660.9 L793.2 661.3 L794.5 661.6 L795.8 662.0 L797.1 662.4 L798.4 662.8 L799.7 663.2 L800.9 663.7 L802.2 664.2 L803.5 664.7 L804.8 665.2 L806.1 665.8 L807.4 666.3 L808.7 666.9 L809.9 667.5 L811.2 668.2 L812.5 668.8 L813.8 669.5 L815.1 670.2 L816.4 670.9 L817.7 671.6 L818.9 672.4 L820.2 673.2 L821.5 674.0 L822.8 674.8 L824.1 675.7 L825.4 676.6 L826.7 677.5 L827.9 678.4 L829.2 679.3 L830.5 680.3 L831.8 681.3 L833.1 682.3 L834.4 683.4 L835.7 684.4 L836.9 685.5 L838.2 686.6 L839.5 687.8 L840.8 688.9 L842.1 690.1 L843.4 691.3 L844.6 692.5 L845.9 693.8 L847.2 695.1 L848.5 696.3 L849.8 697.6 L851.1 699.0 L852.4 700.3 L853.6 701.6 L854.9 703.0 L856.2 704.4 L857.5 705.8 L858.8 707.2 L860.1 708.6 L861.4 710.1 L862.6 711.5 L863.9 713.0 L865.2 714.4 L866.5 715.9 L867.8 717.5 L869.1 719.0 L870.4 720.6 L871.6 722.2 L872.9 723.8 L874.2 725.4 L875.5 727.0 L876.8 728.6 L878.1 730.2 L879.4 731.9 L880.6 733.5 L881.9 735.2 L883.2 736.8 L884.5 738.5 L885.8 740.1 L887.1 741.8 L888.4 743.4 L889.6 745.1 L890.9 746.8 L892.2 748.4 L893.5 750.1 L894.8 751.8 L896.1 753.5 L897.4 755.1 L898.6 756.8 L899.9 758.5 L901.2 760.2 L902.5 761.9 L903.8 763.5 L905.1 765.2 L906.4 766.9 L907.6 768.6 L908.9 770.3 L910.2 771.9 L911.5 773.6 L912.8 775.3 L914.1 777.0 L915.4 778.6 L916.6 780.3 L917.9 781.9 L919.2 783.6 L920.5 785.2 L921.8 786.8 L923.1 788.4 L924.4 790.1 L925.6 791.7 L926.9 793.2 L928.2 794.8 L929.5 796.4 L930.8 798.0 L932.1 799.5 L933.4 801.0 L934.6 802.5 L935.9 804.1 L937.2 805.5 L938.5 807.0 L939.8 808.5 L941.1 809.9 L942.4 811.4 L943.6 812.8 L944.9 814.2 L946.2 815.6 L947.5 817.0 L948.8 818.3 L950.1 819.7 L951.4 821.0 L952.6 822.3 L953.9 823.6 L955.2 824.9 L956.5 826.1 L957.8 827.4 L959.1 828.6 L960.4 829.8 L961.6 831.0 L962.9 832.2 L964.2 833.3 L965.5 834.5 L966.8 835.6 L968.1 836.7 L969.4 837.7 L970.6 838.8 L971.9 839.8 L973.2 840.9 L974.5 841.9 L975.8 842.8 L977.1 843.8 L978.4 844.7 L979.6 845.7 L980.9 846.5 L982.2 847.4 L983.5 848.3 L984.8 849.1 L986.1 849.9 L987.4 850.7 L988.6 851.5 L989.9 852.2 L991.2 852.9 L992.5 853.6 L993.8 854.2 L995.1 854.9 L996.4 855.5 L997.6 856.1 L998.9 856.6 L1000.2 857.1 L1001.5 857.6 L1002.8 858.1 L1004.1 858.5 L1005.4 859.0 L1006.6 859.4 L1007.9 859.8 L1009.2 860.1 L1010.5 860.4 L1011.8 860.7 L1013.1 861.0 L1014.4 861.3 L1015.6 861.5 L1016.9 861.7 L1018.2 861.8 L1019.5 861.9 L1020.8 862.0 L1022.1 862.1 L1023.4 862.1 L1024.6 862.1 L1025.9 862.1 L1027.2 862.0 L1028.5 861.9 L1029.8 861.8 L1031.1 861.6 L1032.4 861.4 L1033.6 861.2 L1034.9 860.9 L1036.2 860.6 L1037.5 860.3 L1038.8 859.9 L1040.1 859.5 L1041.4 859.1 L1042.6 858.6 L1043.9 858.1 L1045.2 857.6 L1046.5 857.1 L1047.8 856.5 L1049.1 855.9 L1050.4 855.3 L1051.6 854.6 L1052.9 853.9 L1054.2 853.2 L1055.5 852.5 L1056.8 851.7 L1058.1 850.9 L1059.4 850.1 L1060.6 849.3 L1061.9 848.4 L1063.2 847.6 L1064.5 846.7 L1065.8 845.7 L1067.1 844.8 L1068.4 843.8 L1069.6 842.9 L1070.9 841.8 L1072.2 840.8 L1073.5 839.8 L1074.8 838.7 L1076.1 837.6 L1077.4 836.5 L1078.6 835.4 L1079.9 834.2 L1081.2 833.1 L1082.5 831.9 L1083.8 830.6 L1085.1 829.4 L1086.4 828.1 L1087.6 826.8 L1088.9 825.5 L1090.2 824.2 L1091.5 822.8 L1092.8 821.4 L1094.1 820.0 L1095.4 818.6 L1096.6 817.2 L1097.9 815.7 L1099.2 814.2 L1100.5 812.7 L1101.8 811.2 L1103.1 809.7 L1104.4 808.1 L1105.6 806.6 L1106.9 805.0 L1108.2 803.3 L1109.5 801.7 L1110.8 800.1 L1112.1 798.4 L1113.4 796.7 L1114.6 795.0 L1115.9 793.3 L1117.2 791.6 L1118.5 789.8 L1119.8 788.1 L1121.1 786.3 L1122.4 784.5 L1123.6 782.7 L1124.9 780.8 L1126.2 778.8 L1127.5 776.9 L1128.8 774.9 L1130.1 772.8 L1131.4 770.8 L1132.6 768.7 L1133.9 766.6 L1135.2 764.5 L1136.5 762.4 L1137.8 760.2 L1139.1 758.1 L1140.4 756.0 L1141.6 753.9 L1142.9 751.8 L1144.2 749.7 L1145.5 747.7 L1146.8 745.7 L1148.1 743.7 L1149.4 741.7 L1150.6 739.8 L1151.9 737.9 L1153.2 735.9 L1154.5 734.0 L1155.8 732.1 L1157.1 730.2 L1158.4 728.3 L1159.6 726.4 L1160.9 724.5 L1162.2 722.6 L1163.5 720.7 L1164.8 718.9 L1166.1 717.0 L1167.4 715.2 L1168.6 713.3 L1169.9 711.5 L1171.2 709.7 L1172.5 707.9 L1173.8 706.1 L1175.1 704.3 L1176.4 702.6 L1177.6 700.8 L1178.9 699.1 L1180.2 697.4 L1181.5 695.7 L1182.8 694.0 L1184.1 692.3 L1185.4 690.7 L1186.6 689.0 L1187.9 687.4 L1189.2 685.8 L1190.5 684.2 L1191.8 682.7 L1193.1 681.2 L1194.4 679.7 L1195.6 678.2 L1196.9 676.7 L1198.2 675.3 L1199.5 673.9 L1200.8 672.5 L1202.1 671.1 L1203.4 669.7 L1204.6 668.4 L1205.9 667.1 L1207.2 665.8 L1208.5 664.5 L1209.8 663.3 L1211.1 662.0 L1212.4 660.8 L1213.6 659.6 L1214.9 658.5 L1216.2 657.3 L1217.5 656.2 L1218.8 655.1 L1220.1 654.0 L1221.4 652.9 L1222.6 651.9 L1223.9 650.9 L1225.2 649.9 L1226.5 648.9 L1227.8 647.9 L1229.1 647.0 L1230.4 646.1 L1231.6 645.2 L1232.9 644.3 L1234.2 643.4 L1235.5 642.6 L1236.8 641.8 L1238.1 641.0 L1239.4 640.3 L1240.6 639.5 L1241.9 638.8 L1243.2 638.1 L1244.5 637.4 L1245.8 636.8 L1247.1 636.1 L1248.4 635.5 L1249.6 634.9 L1250.9 634.4 L1252.2 633.8 L1253.5 633.3 L1254.8 632.9 L1256.1 632.4 L1257.4 632.0 L1258.6 631.6 L1259.9 631.2 L1261.2 630.8 L1262.5 630.5 L1263.8 630.2 L1265.1 629.9 L1266.4 629.6 L1267.6 629.4 L1268.9 629.2 L1270.2 629.0 L1271.5 628.8 L1272.8 628.6 L1274.1 628.5 L1275.4 628.3 L1276.6 628.2 L1277.9 628.1 L1279.2 627.9 L1280.5 627.8 L1281.8 627.8 L1283.1 627.7 L1284.4 627.6 L1285.6 627.6 L1286.9 627.6 L1288.2 627.6 L1289.5 627.6 L1290.8 627.7 L1292.1 627.8 L1293.4 627.8 L1294.6 627.9 L1295.9 628.0 L1297.2 628.2 L1298.5 628.3 L1299.8 628.5" stroke="#bfbf00" stroke-dasharray="13.6 13.6"/>
<path d="M143.9 628.0 L145.2 627.9 L146.5 627.9 L147.8 627.9 L149.1 627.9 L150.4 627.9 L151.7 628.0 L152.9 628.1 L154.2 628.3 L155.5 628.5 L156.8 628.7 L158.1 628.9 L159.4 629.2 L160.7 629.5 L161.9 629.9 L163.2 630.2 L164.5 630.6 L165.8 631.1 L167.1 631.5 L168.4 632.0 L169.7 632.5 L170.9 633.1 L172.2 633.7 L173.5 634.3 L174.8 635.0 L176.1 635.6 L177.4 636.3 L178.7 637.1 L179.9 637.9 L181.2 638.7 L182.5 639.5 L183.8 640.4 L185.1 641.2 L186.4 642.2 L187.7 643.1 L188.9 644.1 L190.2 645.1 L191.5 646.1 L192.8 647.1 L194.1 648.2 L195.4 649.3 L196.7 650.4 L197.9 651.6 L199.2 652.7 L200.5 653.9 L201.8 655.1 L203.1 656.4 L204.4 657.6 L205.7 658.9 L206.9 660.2 L208.2 661.4 L209.5 662.7 L210.8 664.0 L212.1 665.2 L213.4 666.5 L214.7 667.7 L215.9 669.0 L217.2 670.3 L218.5 671.5 L219.8 672.8 L221.1 673.9 L222.4 674.9 L223.7 676.0 L224.9 677.2 L226.2 678.7 L227.5 680.4 L228.8 682.1 L230.1 683.9 L231.4 685.7 L232.7 687.5 L233.9 689.3 L235.2 691.1 L236.5 693.0 L237.8 694.9 L239.1 696.8 L240.4 698.7 L241.7 700.7 L242.9 702.6 L244.2 704.6 L245.5 706.6 L246.8 708.6 L248.1 710.6 L249.4 712.6 L250.7 714.6 L251.9 716.6 L253.2 718.7 L254.5 720.7 L255.8 722.7 L257.1 724.7 L258.4 726.8 L259.7 728.8 L260.9 730.8 L262.2 732.9 L263.5 734.9 L264.8 737.0 L266.1 739.1 L267.4 741.1 L268.7 743.2 L269.9 745.3 L271.2 747.3 L272.5 749.4 L273.8 751.5 L275.1 753.5 L276.4 755.6 L277.7 757.6 L278.9 759.7 L280.2 761.7 L281.5 763.8 L282.8 765.8 L284.1 767.9 L285.4 769.9 L286.7 771.9 L287.9 773.9 L289.2 775.9 L290.5 777.9 L291.8 779.9 L293.1 781.9 L294.4 783.8 L295.7 785.8 L296.9 787.7 L298.2 789.6 L299.5 791.6 L300.8 793.5 L302.1 795.4 L303.4 797.3 L304.7 799.2 L305.9 801.0 L307.2 802.9 L308.5 804.7 L309.8 806.6 L311.1 808.4 L312.4 810.2 L313.7 812.0 L314.9 813.8 L316.2 815.6 L317.5 817.3 L318.8 819.1 L320.1 820.8 L321.4 822.5 L322.7 824.2 L323.9 825.8 L325.2 827.5 L326.5 829.1 L327.8 830.7 L329.1 832.3 L330.4 833.9 L331.7 835.4 L332.9 836.9 L334.2 838.4 L335.5 839.9 L336.8 841.3 L338.1 842.7 L339.4 844.1 L340.7 845.5 L341.9 846.8 L343.2 848.2 L344.5 849.5 L345.8 850.7 L347.1 851.9 L348.4 853.2 L349.7 854.3 L350.9 855.5 L352.2 856.6 L353.5 857.7 L354.8 858.8 L356.1 859.8 L357.4 860.8 L358.7 861.8 L359.9 862.8 L361.2 863.7 L362.5 864.6 L363.8 865.4 L365.1 866.3 L366.4 867.1 L367.7 867.9 L368.9 868.6 L370.2 869.3 L371.5 870.0 L372.8 870.7 L374.1 871.3 L375.4 871.9 L376.7 872.4 L377.9 873.0 L379.2 873.4 L380.5 873.9 L381.8 874.3 L383.1 874.7 L384.4 875.1 L385.7 875.4 L386.9 875.8 L388.2 876.0 L389.5 876.3 L390.8 876.5 L392.1 876.7 L393.4 876.8 L394.7 876.9 L395.9 877.0 L397.2 877.0 L398.5 877.1 L399.8 877.0 L401.1 877.0 L402.4 876.9 L403.7 876.8 L404.9 876.7 L406.2 876.5 L407.5 876.3 L408.8 876.0 L410.1 875.8 L411.4 875.5 L412.7 875.1 L413.9 874.8 L415.2 874.4 L416.5 873.9 L417.8 873.5 L419.1 873.0 L420.4 872.4 L421.7 871.9 L422.9 871.3 L424.2 870.7 L425.5 870.0 L426.8 869.4 L428.1 868.6 L429.4 867.9 L430.7 867.1 L431.9 866.3 L433.2 865.5 L434.5 864.6 L435.8 863.8 L437.1 862.8 L438.4 861.9 L439.7 860.9 L440.9 859.9 L442.2 858.9 L443.5 857.8 L444.8 856.7 L446.1 855.6 L447.4 854.5 L448.7 853.3 L449.9 852.1 L451.2 850.9 L452.5 849.6 L453.8 848.4 L455.1 847.1 L456.4 845.7 L457.7 844.4 L458.9 843.0 L460.2 841.6 L461.5 840.2 L462.8 838.8 L464.1 837.3 L465.4 835.8 L466.7 834.3 L467.9 832.8 L469.2 831.3 L470.5 829.7 L471.8 828.1 L473.1 826.5 L474.4 824.9 L475.7 823.2 L476.9 821.6 L478.2 819.9 L479.5 818.2 L480.8 816.5 L482.1 814.8 L483.4 813.0 L484.7 811.3 L485.9 809.5 L487.2 807.7 L488.5 805.9 L489.8 804.1 L491.1 802.3 L492.4 800.4 L493.7 798.6 L494.9 796.7 L496.2 794.8 L497.5 792.9 L498.8 791.1 L500.1 789.1 L501.4 787.2 L502.7 785.3 L503.9 783.4 L505.2 781.5 L506.5 779.5 L507.8 777.6 L509.1 775.6 L510.4 773.6 L511.7 771.7 L512.9 769.7 L514.2 767.7 L515.5 765.8 L516.8 763.8 L518.1 761.8 L519.4 759.8 L520.7 757.8 L521.9 755.9 L523.2 753.9 L524.5 751.9 L525.8 749.9 L527.1 747.9 L528.4 745.9 L529.7 744.0 L530.9 742.0 L532.2 740.0 L533.5 738.0 L534.8 736.1 L536.1 734.1 L537.4 732.2 L538.7 730.2 L539.9 728.3 L541.2 726.4 L542.5 724.4 L543.8 722.5 L545.1 720.6 L546.4 718.7 L547.7 716.8 L548.9 714.9 L550.2 713.1 L551.5 711.2 L552.8 709.4 L554.1 707.5 L555.4 705.7 L556.7 703.9 L557.9 702.1 L559.2 700.3 L560.5 698.5 L561.8 696.8 L563.1 695.1 L564.4 693.3 L565.7 691.6 L566.9 689.9 L568.2 688.3 L569.5 686.6 L570.8 685.0 L572.1 683.4 L573.4 681.8 L574.7 680.2 L575.9 678.6 L577.2 677.1 L578.5 675.6 L579.8 674.1 L581.1 672.6 L582.4 671.1 L583.7 669.7 L584.9 668.3 L586.2 666.9 L587.5 665.6 L588.8 664.2 L590.1 662.9 L591.4 661.6 L592.7 660.3 L593.9 659.1 L595.2 657.9 L596.5 656.7 L597.8 655.5 L599.1 654.4 L600.4 653.3 L601.7 652.2 L602.9 651.1 L604.2 650.1 L605.5 649.1 L606.8 648.1 L608.1 647.2 L609.4 646.3 L610.7 645.4 L611.9 644.6 L613.2 643.7 L614.5 642.9 L615.8 642.2 L617.1 641.4 L618.4 640.7 L619.7 640.1 L620.9 639.4 L622.2 638.8 L623.5 638.2 L624.8 637.7 L626.1 637.1 L627.4 636.6 L628.7 636.2 L629.9 635.7 L631.2 635.3 L632.5 635.0 L633.8 634.6 L635.1 634.3 L636.4 634.0 L637.7 633.8 L638.9 633.6 L640.2 633.4 L641.5 633.2 L642.8 633.1 L644.1 633.0 L645.4 632.9 L646.7 632.9 L647.9 632.9 L649.2 632.9 L650.5 632.9 L651.8 633.0 L653.1 633.1 L654.4 633.2 L655.7 633.4 L656.9 633.6 L658.2 633.8 L659.5 634.1 L660.8 634.4 L662.1 634.7 L663.4 635.0 L664.7 635.4 L665.9 635.8 L667.2 636.2 L668.5 636.7 L669.8 637.2 L671.1 637.7 L672.4 638.2 L673.7 638.8 L674.9 639.4 L676.2 640.1 L677.5 640.7 L678.8 641.4 L680.1 642.2 L681.4 642.9 L682.7 643.7 L683.9 644.5 L685.2 645.4 L686.5 646.2 L687.8 647.1 L689.1 648.1 L690.4 649.0 L691.7 650.0 L692.9 651.0 L694.2 652.1 L695.5 653.1 L696.8 654.2 L698.1 655.3 L699.4 656.5 L700.7 657.7 L701.9 658.9 L703.2 660.1 L704.5 661.3 L705.8 662.6 L707.1 663.9 L708.4 665.2 L709.7 666.5 L710.9 667.8 L712.2 669.2 L713.5 670.6 L714.8 672.0 L716.1 673.5 L717.4 674.9 L718.7 676.4 L719.9 677.9 L721.2 679.4 L722.5 680.9 L723.8 682.5 L725.1 684.1 L726.4 685.7 L727.7 687.3 L728.9 688.9 L730.2 690.5 L731.5 692.2 L732.8 693.9 L734.1 695.6 L735.4 697.3 L736.7 699.0 L737.9 700.8 L739.2 702.6 L740.5 704.3 L741.8 706.1 L743.1 708.0 L744.4 709.8 L745.7 711.6 L746.9 713.5 L748.2 715.3 L749.5 717.2 L750.8 719.1 L752.1 721.0 L753.4 722.9 L754.7 724.8 L755.9 726.8 L757.2 728.7 L758.5 730.6 L759.8 732.6 L761.1 734.5 L762.4 736.5 L763.7 738.4 L764.9 740.4 L766.2 742.4 L767.5 744.3 L768.8 746.3 L770.1 748.3 L771.4 750.3 L772.7 752.3 L773.9 754.2 L775.2 756.2 L776.5 758.2 L777.8 760.2 L779.1 762.2 L780.4 764.1 L781.7 766.1 L782.9 768.1 L784.2 770.1 L785.5 772.0 L786.8 774.0 L788.1 776.0 L789.4 777.9 L790.7 779.9 L791.9 781.8 L793.2 783.8 L794.5 785.7 L795.8 787.6 L797.1 789.6 L798.4 791.5 L799.7 793.4 L800.9 795.3 L802.2 797.2 L803.5 799.1 L804.8 800.9 L806.1 802.8 L807.4 804.6 L808.7 806.5 L809.9 808.3 L811.2 810.1 L812.5 811.9 L813.8 813.7 L815.1 815.4 L816.4 817.2 L817.7 818.9 L818.9 820.6 L820.2 822.3 L821.5 824.0 L822.8 825.7 L824.1 827.3 L825.4 829.0 L826.7 830.6 L827.9 832.2 L829.2 833.7 L830.5 835.3 L831.8 836.8 L833.1 838.3 L834.4 839.8 L835.7 841.3 L836.9 842.8 L838.2 844.3 L839.5 845.7 L840.8 847.1 L842.1 848.5 L843.4 849.9 L844.6 851.3 L845.9 852.7 L847.2 854.0 L848.5 855.3 L849.8 856.6 L851.1 857.9 L852.4 859.1 L853.6 860.3 L854.9 861.5 L856.2 862.7 L857.5 863.8 L858.8 864.9 L860.1 866.0 L861.4 867.0 L862.6 868.0 L863.9 869.0 L865.2 870.0 L866.5 870.9 L867.8 871.8 L869.1 872.6 L870.4 873.5 L871.6 874.3 L872.9 875.1 L874.2 875.9 L875.5 876.6 L876.8 877.3 L878.1 877.9 L879.4 878.6 L880.6 879.2 L881.9 879.8 L883.2 880.3 L884.5 880.8 L885.8 881.3 L887.1 881.7 L888.4 882.1 L889.6 882.5 L890.9 882.8 L892.2 883.1 L893.5 883.3 L894.8 883.6 L896.1 883.7 L897.4 883.9 L898.6 884.0 L899.9 884.1 L901.2 884.1 L902.5 884.1 L903.8 884.1 L905.1 884.0 L906.4 883.9 L907.6 883.8 L908.9 883.6 L910.2 883.5 L911.5 883.2 L912.8 883.0 L914.1 882.7 L915.4 882.4 L916.6 882.0 L917.9 881.6 L919.2 881.2 L920.5 880.8 L921.8 880.3 L923.1 879.8 L924.4 879.2 L925.6 878.6 L926.9 878.0 L928.2 877.4 L929.5 876.7 L930.8 876.0 L932.1 875.2 L933.4 874.4 L934.6 873.6 L935.9 872.8 L937.2 871.9 L938.5 871.0 L939.8 870.0 L941.1 869.1 L942.4 868.1 L943.6 867.0 L944.9 865.9 L946.2 864.8 L947.5 863.7 L948.8 862.5 L950.1 861.3 L951.4 860.1 L952.6 858.9 L953.9 857.6 L955.2 856.3 L956.5 855.0 L957.8 853.6 L959.1 852.3 L960.4 850.9 L961.6 849.4 L962.9 848.0 L964.2 846.5 L965.5 845.1 L966.8 843.6 L968.1 842.0 L969.4 840.5 L970.6 838.9 L971.9 837.3 L973.2 835.7 L974.5 834.1 L975.8 832.4 L977.1 830.8 L978.4 829.1 L979.6 827.4 L980.9 825.7 L982.2 823.9 L983.5 822.2 L984.8 820.4 L986.1 818.6 L987.4 816.8 L988.6 815.0 L989.9 813.2 L991.2 811.4 L992.5 809.5 L993.8 807.7 L995.1 805.8 L996.4 803.9 L997.6 802.0 L998.9 800.1 L1000.2 798.2 L1001.5 796.2 L1002.8 794.3 L1004.1 792.4 L1005.4 790.4 L1006.6 788.4 L1007.9 786.5 L1009.2 784.5 L1010.5 782.5 L1011.8 780.5 L1013.1 778.5 L1014.4 776.5 L1015.6 774.5 L1016.9 772.5 L1018.2 770.4 L1019.5 768.4 L1020.8 766.4 L1022.1 764.4 L1023.4 762.3 L1024.6 760.3 L1025.9 758.3 L1027.2 756.2 L1028.5 754.2 L1029.8 752.1 L1031.1 750.1 L1032.4 748.0 L1033.6 745.9 L1034.9 743.8 L1036.2 741.8 L1037.5 739.7 L1038.8 737.6 L1040.1 735.5 L1041.4 733.5 L1042.6 731.4 L1043.9 729.3 L1045.2 727.3 L1046.5 725.2 L1047.8 723.2 L1049.1 721.1 L1050.4 719.1 L1051.6 717.0 L1052.9 715.0 L1054.2 713.0 L1055.5 711.0 L1056.8 709.0 L1058.1 707.0 L1059.4 705.1 L1060.6 703.1 L1061.9 701.2 L1063.2 699.3 L1064.5 697.4 L1065.8 695.5 L1067.1 693.6 L1068.4 691.7 L1069.6 689.9 L1070.9 688.1 L1072.2 686.2 L1073.5 684.4 L1074.8 682.6 L1076.1 680.8 L1077.4 679.1 L1078.6 677.3 L1079.9 675.6 L1081.2 673.9 L1082.5 672.2 L1083.8 670.5 L1085.1 668.8 L1086.4 667.2 L1087.6 665.5 L1088.9 663.9 L1090.2 662.3 L1091.5 660.7 L1092.8 659.2 L1094.1 657.6 L1095.4 656.1 L1096.6 654.5 L1097.9 653.0 L1099.2 651.5 L1100.5 650.0 L1101.8 648.5 L1103.1 647.0 L1104.4 645.5 L1105.6 644.1 L1106.9 642.7 L1108.2 641.2 L1109.5 639.9 L1110.8 638.5 L1112.1 637.2 L1113.4 635.8 L1114.6 634.6 L1115.9 633.3 L1117.2 632.1 L1118.5 630.9 L1119.8 629.7 L1121.1 628.6 L1122.4 627.5 L1123.6 626.5 L1124.9 625.5 L1126.2 624.6 L1127.5 623.6 L1128.8 622.7 L1130.1 621.8 L1131.4 621.0 L1132.6 620.2 L1133.9 619.4 L1135.2 618.6 L1136.5 617.9 L1137.8 617.2 L1139.1 616.6 L1140.4 616.0 L1141.6 615.4 L1142.9 614.8 L1144.2 614.3 L1145.5 613.9 L1146.8 613.4 L1148.1 613.1 L1149.4 612.7 L1150.6 612.4 L1151.9 612.1 L1153.2 611.9 L1154.5 611.7 L1155.8 611.6 L1157.1 611.5 L1158.4 611.4 L1159.6 611.4 L1160.9 611.4 L1162.2 611.4 L1163.5 611.5 L1164.8 611.6 L1166.1 611.7 L1167.4 611.9 L1168.6 612.1 L1169.9 612.3 L1171.2 612.6 L1172.5 612.9 L1173.8 613.2 L1175.1 613.6 L1176.4 614.0 L1177.6 614.5 L1178.9 614.9 L1180.2 615.4 L1181.5 616.0 L1182.8 616.6 L1184.1 617.2 L1185.4 617.8 L1186.6 618.5 L1187.9 619.2 L1189.2 619.9 L1190.5 620.7 L1191.8 621.5 L1193.1 622.3 L1194.4 623.2 L1195.6 624.1 L1196.9 625.0 L1198.2 625.9 L1199.5 626.9 L1200.8 627.9 L1202.1 629.0 L1203.4 630.0 L1204.6 631.1 L1205.9 632.2 L1207.2 633.4 L1208.5 634.5 L1209.8 635.7 L1211.1 636.9 L1212.4 638.2 L1213.6 639.4 L1214.9 640.7 L1216.2 642.1 L1217.5 643.4 L1218.8 644.7 L1220.1 646.1 L1221.4 647.5 L1222.6 649.0 L1223.9 650.4 L1225.2 651.9 L1226.5 653.4 L1227.8 654.9 L1229.1 656.4 L1230.4 658.0 L1231.6 659.5 L1232.9 661.1 L1234.2 662.7 L1235.5 664.4 L1236.8 666.0 L1238.1 667.7 L1239.4 669.4 L1240.6 671.1 L1241.9 672.8 L1243.2 674.5 L1244.5 676.2 L1245.8 678.0 L1247.1 679.8 L1248.4 681.6 L1249.6 683.4 L1250.9 685.2 L1252.2 687.0 L1253.5 688.8 L1254.8 690.7 L1256.1 692.5 L1257.4 694.4 L1258.6 696.3 L1259.9 698.2 L1261.2 700.0 L1262.5 701.9 L1263.8 703.8 L1265.1 705.7 L1266.4 707.6 L1267.6 709.6 L1268.9 711.5 L1270.2 713.4 L1271.5 715.3 L1272.8 717.2 L1274.1 719.2 L1275.4 721.1 L1276.6 723.0 L1277.9 725.0 L1279.2 726.9 L1280.5 728.8 L1281.8 730.8 L1283.1 732.7 L1284.4 734.6 L1285.6 736.6 L1286.9 738.5 L1288.2 740.4 L1289.5 742.3 L1290.8 744.2 L1292.1 746.2 L1293.4 748.1 L1294.6 750.0 L1295.9 751.9 L1297.2 753.8 L1298.5 755.6 L1299.8 757.5" stroke="#4dbeee" stroke-dasharray="13.6 13.6"/>
</g>
<text class="sn tk" transform="translate(147.3 953.8) scale(.965 1)" text-anchor="middle">240</text>
<text class="sn tk" transform="translate(399.8 953.8) scale(.965 1)" text-anchor="middle">245</text>
<text class="sn tk" transform="translate(652.3 953.8) scale(.965 1)" text-anchor="middle">250</text>
<text class="sn tk" transform="translate(904.8 953.8) scale(.965 1)" text-anchor="middle">255</text>
<text class="sn tk" transform="translate(1157.3 953.8) scale(.965 1)" text-anchor="middle">260</text>
<text class="sn tk" transform="translate(129.2 872.6) scale(.965 1)" text-anchor="end">-10</text>
<text class="sn tk" transform="translate(129.2 773.3) scale(.965 1)" text-anchor="end">0</text>
<text class="sn tk" transform="translate(129.2 674.0) scale(.965 1)" text-anchor="end">10</text>
<text class="sn"><tspan x="635.42" y="1017.80" textLength="29.28" lengthAdjust="spacingAndGlyphs" class="f54">T</tspan><tspan x="663.82" y="1017.80" textLength="12.89" lengthAdjust="spacingAndGlyphs" class="f51">i</tspan><tspan x="676.06" y="1017.80" textLength="46.96" lengthAdjust="spacingAndGlyphs" class="f51">m</tspan><tspan x="721.33" y="1017.80" textLength="28.45" lengthAdjust="spacingAndGlyphs" class="f51">e</tspan><tspan x="750.38" y="1014.10" textLength="14.12" lengthAdjust="spacingAndGlyphs" class="f47">[</tspan><tspan x="766.31" y="1017.80" textLength="19.49" lengthAdjust="spacingAndGlyphs" class="f51">s</tspan><tspan x="787.30" y="1014.10" textLength="14.12" lengthAdjust="spacingAndGlyphs" class="f47">]</tspan></text>
<text class="sn" transform="translate(39.4 808.7) rotate(-90)"><tspan x="-1.16" y="0.00" textLength="24.33" lengthAdjust="spacingAndGlyphs" class="f54">S</tspan><tspan x="26.60" y="0.00" textLength="27.58" lengthAdjust="spacingAndGlyphs" class="f51">p</tspan><tspan x="54.89" y="0.00" textLength="25.01" lengthAdjust="spacingAndGlyphs" class="f51">e</tspan><tspan x="80.48" y="0.00" textLength="26.43" lengthAdjust="spacingAndGlyphs" class="f51">e</tspan><tspan x="108.51" y="0.00" textLength="28.94" lengthAdjust="spacingAndGlyphs" class="f51">d</tspan><tspan x="136.13" y="-3.70" textLength="15.10" lengthAdjust="spacingAndGlyphs" class="f47">[</tspan><tspan x="153.66" y="-2.30" textLength="18.41" lengthAdjust="spacingAndGlyphs" class="f52">°</tspan><tspan x="174.30" y="0.00" textLength="16.50" lengthAdjust="spacingAndGlyphs" class="f51">/</tspan><tspan x="193.88" y="0.00" textLength="20.18" lengthAdjust="spacingAndGlyphs" class="f51">s</tspan><tspan x="215.79" y="-3.70" textLength="14.68" lengthAdjust="spacingAndGlyphs" class="f47">]</tspan></text>
<rect x="45.5" y="487" width="683" height="130" fill="#fff" stroke="#262626" stroke-width="1.2"/>
<path d="M55.9 521.6 H162.2" stroke="#77ac30" stroke-width="4.8"/>
<path d="M55.9 582.2 H162.2" stroke="#ff00ff" stroke-width="4.8"/>
<path d="M253.1 521.6 H358.0" stroke="#ff0000" stroke-width="4.8" stroke-dasharray="13.6 3.4 6.8 3.4"/>
<path d="M253.1 582.2 H358.0" stroke="#0000ff" stroke-width="4.8" stroke-dasharray="13.6 3.4 6.8 3.4"/>
<path d="M561.0 521.6 H656.0" stroke="#bfbf00" stroke-width="4.8" stroke-dasharray="13.6 13.6"/>
<path d="M561.0 582.2 H656.0" stroke="#4dbeee" stroke-width="4.8" stroke-dasharray="13.6 13.6"/>
<text class="mt"><tspan x="169.84" y="534.50" class="mi">q</tspan><tspan x="176.87" y="537.80" class="dt">˙</tspan><tspan x="191.94" y="540.90" class="ms">d</tspan><tspan x="211.67" y="540.90" class="rs">,</tspan><tspan x="219.92" y="540.90" class="rs">1</tspan></text>
<text class="mt"><tspan x="367.64" y="534.50" class="mi">q</tspan><tspan x="374.67" y="537.80" class="dt">˙</tspan><tspan x="389.74" y="540.90" class="ms">d</tspan><tspan x="409.47" y="540.90" class="rs">,</tspan><tspan x="417.72" y="540.90" class="rs">1</tspan><tspan x="434.48" y="537.60" class="pl">+</tspan><tspan x="475.84" y="534.50" class="mi">q</tspan><tspan x="482.87" y="537.80" class="dt">˙</tspan><tspan x="497.74" y="540.90" class="ms">h</tspan><tspan x="519.97" y="540.90" class="rs">,</tspan><tspan x="527.42" y="540.90" class="rs">1</tspan></text>
<text class="mt"><tspan x="675.04" y="534.50" class="mi">q</tspan><tspan x="682.07" y="537.80" class="dt">˙</tspan><tspan x="696.72" y="540.90" class="rs">1</tspan></text>
<text class="mt"><tspan x="169.84" y="595.20" class="mi">q</tspan><tspan x="176.87" y="598.50" class="dt">˙</tspan><tspan x="191.94" y="601.60" class="ms">d</tspan><tspan x="211.67" y="601.60" class="rs">,</tspan><tspan x="219.96" y="601.60" class="rs">2</tspan></text>
<text class="mt"><tspan x="367.64" y="595.20" class="mi">q</tspan><tspan x="374.67" y="598.50" class="dt">˙</tspan><tspan x="389.74" y="601.60" class="ms">d</tspan><tspan x="409.47" y="601.60" class="rs">,</tspan><tspan x="417.76" y="601.60" class="rs">2</tspan><tspan x="434.48" y="598.30" class="pl">+</tspan><tspan x="475.84" y="595.20" class="mi">q</tspan><tspan x="482.87" y="598.50" class="dt">˙</tspan><tspan x="497.74" y="601.60" class="ms">h</tspan><tspan x="519.97" y="601.60" class="rs">,</tspan><tspan x="527.46" y="601.60" class="rs">2</tspan></text>
<text class="mt"><tspan x="675.04" y="595.20" class="mi">q</tspan><tspan x="682.07" y="598.50" class="dt">˙</tspan><tspan x="696.76" y="601.60" class="rs">2</tspan></text>
</svg></body></html>
